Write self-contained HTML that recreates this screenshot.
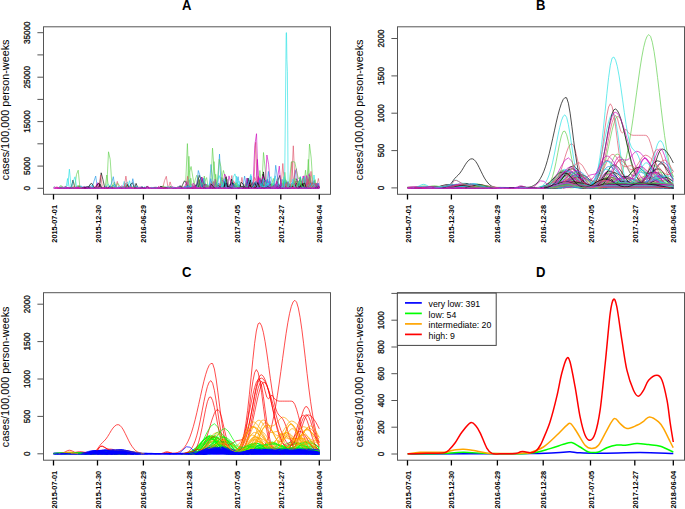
<!DOCTYPE html>
<html><head><meta charset="utf-8"><style>
html,body{margin:0;padding:0;background:#fff;}
svg{display:block;font-family:"Liberation Sans",sans-serif;}
#allc path{vector-effect:non-scaling-stroke;}
</style></head><body>
<svg width="685" height="509" viewBox="0 0 685 509">
<rect width="685" height="509" fill="#fff"/>
<rect x="43.5" y="26.8" width="287" height="167.5" fill="none" stroke="#555" stroke-width="1"/>
<text transform="translate(186.6,10.1) scale(0.92,1)" text-anchor="middle" font-weight="bold" font-size="14.2">A</text>
<path d="M53.5 194.3V199.5M97.5 194.3V199.5M143.4 194.3V199.5M189.2 194.3V199.5M236.5 194.3V199.5M280.8 194.3V199.5M319.3 194.3V199.5" stroke="#000" stroke-width="1.3" fill="none"/>
<path d="M37.4 188.3H43.5M37.4 166.1H43.5M37.4 143.8H43.5M37.4 121.6H43.5M37.4 99.4H43.5M37.4 77.2H43.5M37.4 54.9H43.5M37.4 32.7H43.5" stroke="#555" stroke-width="1" fill="none"/>
<text transform="translate(56.5,204.9) rotate(-90)" text-anchor="end" font-weight="bold" font-size="7.4">2015-07-01</text>
<text transform="translate(100.5,204.9) rotate(-90)" text-anchor="end" font-weight="bold" font-size="7.4">2015-12-30</text>
<text transform="translate(146.4,204.9) rotate(-90)" text-anchor="end" font-weight="bold" font-size="7.4">2016-06-29</text>
<text transform="translate(192.2,204.9) rotate(-90)" text-anchor="end" font-weight="bold" font-size="7.4">2016-12-28</text>
<text transform="translate(239.5,204.9) rotate(-90)" text-anchor="end" font-weight="bold" font-size="7.4">2017-07-05</text>
<text transform="translate(283.8,204.9) rotate(-90)" text-anchor="end" font-weight="bold" font-size="7.4">2017-12-27</text>
<text transform="translate(322.3,204.9) rotate(-90)" text-anchor="end" font-weight="bold" font-size="7.4">2018-06-04</text>
<text transform="translate(30,188.3) rotate(-90) scale(1,1.13)" text-anchor="middle" font-size="8.1" stroke="#222" stroke-width="0.3">0</text>
<text transform="translate(30,166.1) rotate(-90) scale(1,1.13)" text-anchor="middle" font-size="8.1" stroke="#222" stroke-width="0.3">5000</text>
<text transform="translate(30,121.6) rotate(-90) scale(1,1.13)" text-anchor="middle" font-size="8.1" stroke="#222" stroke-width="0.3">15000</text>
<text transform="translate(30,77.2) rotate(-90) scale(1,1.13)" text-anchor="middle" font-size="8.1" stroke="#222" stroke-width="0.3">25000</text>
<text transform="translate(30,32.7) rotate(-90) scale(1,1.13)" text-anchor="middle" font-size="8.1" stroke="#222" stroke-width="0.3">35000</text>
<text transform="translate(9.3,109.8) rotate(-90)" text-anchor="middle" font-size="10.82">cases/100,000 person-weeks</text>
<rect x="397.5" y="26.8" width="287" height="167.5" fill="none" stroke="#555" stroke-width="1"/>
<text transform="translate(540.6,10.1) scale(0.92,1)" text-anchor="middle" font-weight="bold" font-size="14.2">B</text>
<path d="M407.5 194.3V199.5M451.4 194.3V199.5M497.4 194.3V199.5M543.2 194.3V199.5M590.5 194.3V199.5M634.8 194.3V199.5M673.3 194.3V199.5" stroke="#000" stroke-width="1.3" fill="none"/>
<path d="M391.4 187.9H397.5M391.4 150.6H397.5M391.4 113.2H397.5M391.4 75.9H397.5M391.4 38.5H397.5" stroke="#555" stroke-width="1" fill="none"/>
<text transform="translate(410.5,204.9) rotate(-90)" text-anchor="end" font-weight="bold" font-size="7.4">2015-07-01</text>
<text transform="translate(454.4,204.9) rotate(-90)" text-anchor="end" font-weight="bold" font-size="7.4">2015-12-30</text>
<text transform="translate(500.4,204.9) rotate(-90)" text-anchor="end" font-weight="bold" font-size="7.4">2016-06-29</text>
<text transform="translate(546.2,204.9) rotate(-90)" text-anchor="end" font-weight="bold" font-size="7.4">2016-12-28</text>
<text transform="translate(593.5,204.9) rotate(-90)" text-anchor="end" font-weight="bold" font-size="7.4">2017-07-05</text>
<text transform="translate(637.8,204.9) rotate(-90)" text-anchor="end" font-weight="bold" font-size="7.4">2017-12-27</text>
<text transform="translate(676.3,204.9) rotate(-90)" text-anchor="end" font-weight="bold" font-size="7.4">2018-06-04</text>
<text transform="translate(384,187.9) rotate(-90) scale(1,1.13)" text-anchor="middle" font-size="8.1" stroke="#222" stroke-width="0.3">0</text>
<text transform="translate(384,150.6) rotate(-90) scale(1,1.13)" text-anchor="middle" font-size="8.1" stroke="#222" stroke-width="0.3">500</text>
<text transform="translate(384,113.2) rotate(-90) scale(1,1.13)" text-anchor="middle" font-size="8.1" stroke="#222" stroke-width="0.3">1000</text>
<text transform="translate(384,75.9) rotate(-90) scale(1,1.13)" text-anchor="middle" font-size="8.1" stroke="#222" stroke-width="0.3">1500</text>
<text transform="translate(384,38.5) rotate(-90) scale(1,1.13)" text-anchor="middle" font-size="8.1" stroke="#222" stroke-width="0.3">2000</text>
<text transform="translate(363.3,109.8) rotate(-90)" text-anchor="middle" font-size="10.82">cases/100,000 person-weeks</text>
<rect x="43.5" y="292.7" width="287" height="167.5" fill="none" stroke="#555" stroke-width="1"/>
<text transform="translate(186.6,276.6) scale(0.92,1)" text-anchor="middle" font-weight="bold" font-size="14.2">C</text>
<path d="M53.5 460.2V465.4M97.5 460.2V465.4M143.4 460.2V465.4M189.2 460.2V465.4M236.5 460.2V465.4M280.8 460.2V465.4M319.3 460.2V465.4" stroke="#000" stroke-width="1.3" fill="none"/>
<path d="M37.4 453.8H43.5M37.4 416.4H43.5M37.4 379H43.5M37.4 341.6H43.5M37.4 304.2H43.5" stroke="#555" stroke-width="1" fill="none"/>
<text transform="translate(56.5,470.8) rotate(-90)" text-anchor="end" font-weight="bold" font-size="7.4">2015-07-01</text>
<text transform="translate(100.5,470.8) rotate(-90)" text-anchor="end" font-weight="bold" font-size="7.4">2015-12-30</text>
<text transform="translate(146.4,470.8) rotate(-90)" text-anchor="end" font-weight="bold" font-size="7.4">2016-06-29</text>
<text transform="translate(192.2,470.8) rotate(-90)" text-anchor="end" font-weight="bold" font-size="7.4">2016-12-28</text>
<text transform="translate(239.5,470.8) rotate(-90)" text-anchor="end" font-weight="bold" font-size="7.4">2017-07-05</text>
<text transform="translate(283.8,470.8) rotate(-90)" text-anchor="end" font-weight="bold" font-size="7.4">2017-12-27</text>
<text transform="translate(322.3,470.8) rotate(-90)" text-anchor="end" font-weight="bold" font-size="7.4">2018-06-04</text>
<text transform="translate(30,453.8) rotate(-90) scale(1,1.13)" text-anchor="middle" font-size="8.1" stroke="#222" stroke-width="0.3">0</text>
<text transform="translate(30,416.4) rotate(-90) scale(1,1.13)" text-anchor="middle" font-size="8.1" stroke="#222" stroke-width="0.3">500</text>
<text transform="translate(30,379) rotate(-90) scale(1,1.13)" text-anchor="middle" font-size="8.1" stroke="#222" stroke-width="0.3">1000</text>
<text transform="translate(30,341.6) rotate(-90) scale(1,1.13)" text-anchor="middle" font-size="8.1" stroke="#222" stroke-width="0.3">1500</text>
<text transform="translate(30,304.2) rotate(-90) scale(1,1.13)" text-anchor="middle" font-size="8.1" stroke="#222" stroke-width="0.3">2000</text>
<text transform="translate(9.3,376.8) rotate(-90)" text-anchor="middle" font-size="10.82">cases/100,000 person-weeks</text>
<rect x="397.5" y="292.7" width="287" height="167.5" fill="none" stroke="#555" stroke-width="1"/>
<text transform="translate(540.6,276.6) scale(0.92,1)" text-anchor="middle" font-weight="bold" font-size="14.2">D</text>
<path d="M407.5 460.2V465.4M451.4 460.2V465.4M497.4 460.2V465.4M543.2 460.2V465.4M590.5 460.2V465.4M634.8 460.2V465.4M673.3 460.2V465.4" stroke="#000" stroke-width="1.3" fill="none"/>
<path d="M391.4 454H397.5M391.4 427.2H397.5M391.4 400.5H397.5M391.4 373.7H397.5M391.4 347H397.5M391.4 320.2H397.5M391.4 293.4H397.5" stroke="#555" stroke-width="1" fill="none"/>
<text transform="translate(410.5,470.8) rotate(-90)" text-anchor="end" font-weight="bold" font-size="7.4">2015-07-01</text>
<text transform="translate(454.4,470.8) rotate(-90)" text-anchor="end" font-weight="bold" font-size="7.4">2015-12-30</text>
<text transform="translate(500.4,470.8) rotate(-90)" text-anchor="end" font-weight="bold" font-size="7.4">2016-06-29</text>
<text transform="translate(546.2,470.8) rotate(-90)" text-anchor="end" font-weight="bold" font-size="7.4">2016-12-28</text>
<text transform="translate(593.5,470.8) rotate(-90)" text-anchor="end" font-weight="bold" font-size="7.4">2017-07-05</text>
<text transform="translate(637.8,470.8) rotate(-90)" text-anchor="end" font-weight="bold" font-size="7.4">2017-12-27</text>
<text transform="translate(676.3,470.8) rotate(-90)" text-anchor="end" font-weight="bold" font-size="7.4">2018-06-04</text>
<text transform="translate(384,454) rotate(-90) scale(1,1.13)" text-anchor="middle" font-size="8.1" stroke="#222" stroke-width="0.3">0</text>
<text transform="translate(384,427.2) rotate(-90) scale(1,1.13)" text-anchor="middle" font-size="8.1" stroke="#222" stroke-width="0.3">200</text>
<text transform="translate(384,400.5) rotate(-90) scale(1,1.13)" text-anchor="middle" font-size="8.1" stroke="#222" stroke-width="0.3">400</text>
<text transform="translate(384,373.7) rotate(-90) scale(1,1.13)" text-anchor="middle" font-size="8.1" stroke="#222" stroke-width="0.3">600</text>
<text transform="translate(384,347) rotate(-90) scale(1,1.13)" text-anchor="middle" font-size="8.1" stroke="#222" stroke-width="0.3">800</text>
<text transform="translate(384,320.2) rotate(-90) scale(1,1.13)" text-anchor="middle" font-size="8.1" stroke="#222" stroke-width="0.3">1000</text>
<text transform="translate(363.3,376.8) rotate(-90)" text-anchor="middle" font-size="10.82">cases/100,000 person-weeks</text>
<defs><g id="allc"><path id="c0" d="M20 1L22 5 24 12 26 20 28 22 30 17 32 9 34 3 36 0M83 0L85 2 87 5 89 8 91 13 93 18 95 21 97 22 99 21 101 17 103 12 105 7 107 3 109 2 111 1 113 2 115 3 117 4 119 3 121 3 123 3 125 3 127 3 129 3 131 3 133 3 135 3 137 3 139 3 141 3 143 3 145 3 147 3 149 3 151 3 152 2"/><path id="c1" d="M4 1L6 1 8 2 10 1 11 1M25 0L27 2 29 6 31 9 33 10 35 6 37 3 39 0M80 0L82 3 84 7 86 13 88 20 90 27 92 30 94 28 96 21 98 13 100 7 102 2 104 0M107 0L109 3 111 10 113 20 115 26 117 26 119 26 121 26 123 26 125 26 127 26 129 26 131 26 133 26 135 26 137 26 139 26 141 26 143 26 145 26 147 26 149 20 151 9 152 5"/><path id="c2" d="M18 0L20 3 22 6 24 8 26 7 28 4 30 1 31 0M79 1L81 2 83 5 85 9 87 12 89 16 91 17 93 17 95 14 97 10 99 6 101 3 103 1M107 1L109 2 111 3 113 4 115 4 117 4 119 4 121 4 123 4 125 4 127 4 129 4 131 4 133 4 135 4 137 4 139 4 141 4 143 3 145 1 146 0"/><path id="c3" d="M31 1L33 1 35 1 36 1M84 1L86 3 88 7 90 14 92 23 94 33 96 40 98 42 100 36 102 24 104 13 106 6 108 2 110 1"/><path id="c4" d="M27 1L29 2 31 4 33 6 35 5 37 4 39 2 40 1M82 1L84 2 86 4 88 7 90 10 92 13 94 14 96 13 98 10 100 7 102 4 104 2 106 2 108 3 110 6 112 10 114 12 116 12 118 12 120 12 122 12 124 12 126 12 128 12 130 12 132 12 134 12 136 12 138 12 140 12 142 12 144 11 146 7 148 2 149 1"/><path id="c5" d="M28 1L30 4 32 9 34 15 36 19 38 20 40 16 42 10 44 5 46 1 47 0M78 0L80 3 82 10 84 23 86 43 88 64 90 80 92 83 94 69 96 45 98 23 100 9 102 2 103 1M113 1L115 4 117 10 119 17 121 23 123 24 125 21 127 18 129 17 131 25 133 42 135 63 137 75 139 72 141 58 143 39 145 22 147 10 149 3 151 0"/><path id="c6" d="M23 0L25 4 27 10 29 17 31 21 33 17 35 10 37 3 39 0M81 1L83 3 85 6 87 11 89 16 91 19 93 18 95 14 97 8 99 3 101 0M105 0L107 2 109 4 111 7 113 10 115 13 117 14 119 13 121 14 123 15 125 17 127 18 129 18 131 17 133 16 135 16 137 15 139 12 141 8 143 5 145 2 147 0"/><path id="c7" d="M32 1L34 5 36 13 38 22 40 25 42 19 44 10 46 3 48 0M86 0L88 2 90 7 92 13 94 19 96 24 98 23 100 19 102 13 104 7 106 4 108 4 110 4 112 5 114 5 116 5 118 5 120 5 122 5 124 5 126 5 128 5 130 5 132 5 134 5 136 5 138 5 140 5 142 5 144 5 146 5 148 4 150 2 151 1"/><path id="c8" d="M31 1L33 2 35 3 37 4 39 5 41 4 43 3 45 1 46 1M83 0L85 3 87 7 89 12 91 16 93 17 95 14 97 9 99 5 101 2 102 1M109 1L111 3 113 6 115 9 117 11 119 12 121 12 123 12 125 12 127 12 129 12 131 12 133 12 135 12 137 12 139 12 141 12 143 12 145 12 147 12 149 12 151 11 152 9"/><path id="c9" d="M22 1L24 3 26 5 28 7 30 7 32 5 34 2 36 0M81 1L83 3 85 7 87 14 89 20 91 24 93 23 95 18 97 11 99 6 101 2 102 1M109 1L111 3 113 6 115 7 117 7 119 7 121 7 123 7 125 7 127 7 129 7 131 7 133 7 135 7 137 7 139 7 141 7 143 7 145 5 147 3 149 1"/><path id="c10" d="M88 1L90 3 92 7 94 13 96 17 98 19 100 17 102 12 104 7 106 3 108 1 110 2 112 6 114 15 116 29 118 44 120 54 122 55 124 47 126 37 128 32 130 33 132 37 134 41 136 41 138 33 140 21 142 10 144 3 146 0"/><path id="c11" d="M16 1L18 3 20 3 22 1M35 1L37 3 39 7 41 10 43 9 45 6 47 2 48 1M79 0L81 2 83 5 85 9 87 15 89 22 91 28 93 32 95 33 97 28 99 19 101 10 103 4 105 2 107 4 109 8 111 13 113 18 115 20 117 20 119 20 121 20 123 20 125 20 127 20 129 20 131 20 133 20 135 20 137 20 139 20 141 20 143 20 145 20 147 20 149 20 151 14 152 10"/><path id="c12" d="M30 1L32 4 34 8 36 12 38 11 40 7 42 2 43 1M79 0L81 3 83 6 85 13 87 20 89 27 91 30 93 29 95 21 97 12 99 5 101 1 102 1M103 1L105 2 107 8 109 18 111 35 113 53 115 68 117 70 119 63 121 50 123 35 125 24 127 18 129 17 131 20 133 23 135 23 137 22 139 18 141 13 143 9 145 5 147 2 149 1"/><path id="c13" d="M1 1L3 2 5 3 7 3 9 3 11 2 13 0M32 1L34 3 36 7 38 11 40 12 42 10 44 6 46 3 48 0M85 0L87 2 89 6 91 12 93 18 95 23 97 24 99 21 101 16 103 10 105 6 107 4 109 4 111 6 113 6 115 6 117 6 119 6 121 6 123 6 125 6 127 6 129 6 131 6 133 6 135 6 137 6 139 6 141 6 143 6 145 6 147 6 149 6 151 5 152 4"/><path id="c14" d="M7 1L9 2 11 3 13 2 15 1M23 1L25 2 27 4 29 5 31 6 33 5 35 3 37 1 38 1M83 0L85 3 87 8 89 16 91 25 93 32 95 33 97 27 99 17 101 9 103 4 105 5 107 12 109 27 111 46 113 59 115 60 117 52 119 41 121 30 123 21 125 17 127 17 129 20 131 23 133 26 135 26 137 24 139 21 141 16 143 11 145 7 147 4 149 2 150 1"/><path id="c15" d="M32 0L34 2 36 3 38 4 40 3 42 1 43 0M78 1L80 3 82 9 84 17 86 27 88 36 90 40 92 38 94 32 96 23 98 14 100 7 102 3 104 1M107 1L109 3 111 7 113 11 115 11 117 11 119 11 121 11 123 11 125 11 127 11 129 11 131 11 133 11 135 11 137 11 139 11 141 11 143 11 145 11 147 11 149 10 151 7 152 5"/><path id="c16" d="M21 0L23 3 25 8 27 14 29 17 31 14 33 7 35 2 36 1M79 0L81 2 83 6 85 10 87 15 89 19 91 21 93 19 95 15 97 9 99 5 101 2 103 0M111 1L113 2 115 3 117 4 119 4 121 4 123 4 125 4 127 4 129 4 131 4 133 4 135 4 137 4 139 4 141 4 143 4 145 2 146 1"/><path id="c17" d="M36 1L38 3 40 6 42 7 44 5 46 2 48 0M80 0L82 3 84 9 86 18 88 28 90 34 92 33 94 28 96 20 98 12 100 6 102 2 104 0M108 0L110 2 112 6 114 11 116 13 118 13 120 13 122 13 124 13 126 13 128 13 130 13 132 13 134 13 136 13 138 13 140 13 142 13 144 13 146 10 148 5 150 1"/><path id="c18" d="M15 1L17 3 19 6 21 10 23 13 25 14 27 12 29 9 31 5 33 2 35 1M80 1L82 3 84 5 86 9 88 13 90 17 92 18 94 17 96 14 98 10 100 6 102 3 104 1M110 1L112 2 114 4 116 6 118 6 120 6 122 6 124 6 126 6 128 6 130 6 132 6 134 6 136 6 138 6 140 6 142 6 144 5 146 3 148 1 149 0"/><path id="c19" d="M22 1L24 5 26 11 28 15 30 13 32 8 34 3 36 0M79 1L81 3 83 6 85 11 87 17 89 22 91 26 93 27 95 22 97 14 99 7 101 2 103 0M107 1L109 2 111 5 113 7 115 7 117 7 119 7 121 7 123 7 125 7 127 7 129 7 131 7 133 7 135 7 137 7 139 7 141 7 143 7 145 7 147 7 149 7 151 6 152 5"/><path id="c20" d="M19 1L21 3 23 5 25 9 27 11 29 11 31 9 33 6 35 3 37 1M86 1L88 3 90 6 92 9 94 12 96 12 98 11 100 9 102 7 104 7 106 10 108 16 110 22 112 25 114 25 116 25 118 25 120 25 122 25 124 25 126 25 128 25 130 25 132 25 134 25 136 25 138 25 140 25 142 25 144 25 146 24 148 14 150 4 152 0"/><path id="c21" d="M18 1L20 2 22 4 24 5 26 4 28 2 29 1M83 1L85 4 87 10 89 20 91 30 93 37 95 37 97 31 99 23 101 14 103 7 105 3 107 1 109 2 111 3 113 6 115 7 117 7 119 7 121 7 123 7 125 7 127 7 129 7 131 7 133 7 135 7 137 7 139 7 141 7 143 7 145 7 147 6 149 3 151 1"/><path id="c22" d="M21 1L22 2 23 3 24 5 25 7 26 9 27 12 28 15 29 17 30 19 31 21 32 21 33 20 34 19 35 17 36 14 37 11 38 9 39 6 40 4 41 3 42 1 43 1M75 0L76 1 77 3 78 5 79 8 80 13 81 20 82 28 83 38 84 50 85 63 86 77 87 90 88 101 89 110 90 115 91 116 92 108 93 94 94 75 95 56 96 38 97 24 98 14 99 7 100 4 101 2 102 3 103 5 104 9 105 16 106 27 107 42 108 62 109 86 110 112 111 138 112 160 113 175 114 181 115 176 116 162 117 140 118 115 119 89 120 64 121 44 122 28 123 17 124 9 125 5 126 2 127 0M132 0L133 2 134 5 135 9 136 16 137 27 138 41 139 60 140 82 141 106 142 128 143 147 144 158 145 161 146 158 147 150 148 139 149 125 150 110 151 93 152 77"/><path id="c23" d="M9 0L11 2 13 3 15 4 17 6 19 7 21 10 23 11 25 10 27 8 29 4 31 1 32 0M75 0L77 2 79 5 81 10 83 17 85 24 87 31 89 35 91 35 93 29 95 20 97 10 99 4 101 1M107 0L109 2 111 4 113 5 115 5 117 5 119 5 121 5 123 5 125 5 127 5 129 5 131 5 133 5 135 5 137 5 139 5 141 5 143 5 145 5 147 5 149 5 151 4 152 3"/><path id="c24" d="M20 0L22 3 24 7 26 10 28 11 30 8 32 4 34 1 35 0M84 1L86 3 88 5 90 7 92 10 94 11 96 11 98 9 100 6 102 3 104 1M108 0L110 2 112 5 114 9 116 12 118 12 120 12 122 12 124 12 126 12 128 12 130 12 132 12 134 12 136 12 138 12 140 12 142 12 144 8 146 4 148 1"/><path id="c25" d="M87 1L89 4 91 11 93 20 95 26 97 25 99 17 101 9 103 3 105 1M108 0L110 2 112 5 114 8 116 11 118 11 120 10 122 7 124 5 126 3 128 2 130 3 132 6 134 12 136 21 138 30 140 38 142 41 144 37 146 28 148 16 150 7 152 2"/><path id="c26" d="M93 1L95 3 97 6 99 11 101 17 103 24 105 28 107 31 109 28 111 24 113 28 115 40 117 53 119 59 121 55 123 42 125 27 127 15 129 9 131 9 133 13 135 19 137 27 139 32 141 34 143 32 145 26 147 19 149 12 151 7 152 4"/><path id="c27" d="M28 0L30 3 32 7 34 9 36 7 38 3 40 0M70 1L72 2 74 1 75 1M86 1L88 3 90 6 92 10 94 12 96 11 98 9 100 6 102 3 104 1 105 1M108 0L110 3 112 9 114 18 116 26 118 27 120 27 122 27 124 27 126 27 128 27 130 27 132 27 134 27 136 27 138 27 140 27 142 27 144 27 146 22 148 8 150 1"/><path id="c28" d="M37 1L39 2 41 3 43 2 45 0M86 1L88 3 90 8 92 14 94 21 96 27 98 28 100 25 102 20 104 14 106 10 108 9 110 12 112 17 114 20 116 21 118 21 120 21 122 21 124 21 126 21 128 21 130 21 132 21 134 21 136 21 138 21 140 21 142 21 144 19 146 12 148 5 150 1 151 0"/><path id="c29" d="M34 1L35 1 36 2 37 3 38 4 39 5 40 5 41 5 42 5 43 4 44 3 45 2 46 2 47 1M79 1L80 1 81 2 82 3 83 5 84 6 85 8 86 9 87 10 88 11 89 12 90 13 91 12 92 12 93 10 94 9 95 7 96 5 97 3 98 2 99 1 100 0M103 1L104 2 105 5 106 9 107 16 108 26 109 38 110 54 111 71 112 87 113 101 114 110 115 113 116 110 117 103 118 92 119 78 120 64 121 50 122 38 123 28 124 20 125 16 126 16 127 20 128 30 129 47 130 70 131 98 132 129 133 159 134 182 135 196 136 198 137 189 138 170 139 146 140 120 141 94 142 72 143 53 144 38 145 27 146 18 147 12 148 7 149 4 150 2 151 1"/><path id="c30" d="M19 0L21 2 23 6 25 10 27 15 29 18 31 18 33 15 35 10 37 6 39 2 41 0M79 1L81 2 83 5 85 9 87 14 89 19 91 23 93 25 95 24 97 20 99 14 101 9 103 4 105 2 107 1M107 1L109 1 111 3 113 5 115 6 117 7 119 7 121 7 123 7 125 7 127 7 129 7 131 7 133 7 135 7 137 7 139 7 141 7 143 7 145 6 147 4 149 2 150 1"/><path id="c31" d="M10 1L12 1 14 2 16 2 18 1 19 1M31 1L33 4 35 9 37 14 39 18 41 16 43 10 45 5 47 1 48 0M78 0L80 3 82 6 84 12 86 19 88 24 90 27 92 26 94 21 96 15 98 9 100 5 102 2 103 1M106 1L108 3 110 7 112 13 114 18 116 19 118 19 120 19 122 19 124 19 126 19 128 19 130 19 132 19 134 19 136 19 138 19 140 19 142 19 144 19 146 18 148 13 150 6 152 1"/><path id="c32" d="M27 0L29 3 31 6 33 8 35 6 37 3 39 0M65 1L67 2 69 2 71 1M81 1L83 3 85 5 87 8 89 11 91 12 93 12 95 10 97 6 99 3 101 1 102 0M110 0L112 4 114 13 116 22 118 24 120 24 122 24 124 24 126 24 128 24 130 24 132 24 134 24 136 24 138 24 140 24 142 24 144 17 146 6 148 0"/><path id="c33" d="M35 1L37 2 39 4 41 4 43 4 45 3 47 2 49 1M77 1L79 3 81 6 83 12 85 19 87 28 89 36 91 42 93 44 95 41 97 31 99 20 101 10 103 4 105 2 107 2 109 5 111 9 113 13 115 16 117 17 119 17 121 17 123 17 125 17 127 17 129 17 131 17 133 17 135 17 137 17 139 17 141 17 143 17 145 17 147 17 149 16 151 11 152 7"/><path id="c34" d="M18 1L20 3 22 7 24 12 26 18 28 20 30 19 32 15 34 9 36 4 38 1 39 0M75 0L77 4 79 11 81 26 83 49 85 78 87 104 89 117 91 108 93 78 95 44 97 19 99 6 101 1M110 0L112 2 114 6 116 10 118 12 120 13 122 12 124 11 126 11 128 14 130 19 132 24 134 27 136 28 138 27 140 23 142 18 144 13 146 9 148 5 150 2 152 1"/><path id="c35" d="M75 0L77 2 79 7 81 17 83 32 85 54 87 80 89 104 91 119 93 118 95 97 97 63 99 33 101 14 103 4 105 0M109 1L111 5 113 17 115 37 117 56 119 61 121 54 123 41 125 27 127 18 129 15 131 20 133 32 135 49 137 64 139 72 141 70 143 59 145 43 147 27 149 14 151 6 152 4"/><path id="c36" d="M3 0L5 2 7 3 9 2 10 1M19 1L21 2 23 3 25 3 27 3 29 2 31 1 32 1M79 0L81 3 83 10 85 21 87 34 89 44 91 46 93 39 95 29 97 17 99 8 101 3 103 1M109 1L111 2 113 4 115 5 117 6 119 6 121 6 123 6 125 6 127 6 129 6 131 6 133 6 135 6 137 6 139 6 141 6 143 6 145 5 147 3 149 0"/><path id="c37" d="M11 1L13 2 15 2 17 2 19 1M38 1L40 3 42 4 44 2 46 1M86 0L88 2 90 5 92 9 94 13 96 16 98 15 100 12 102 7 104 3 106 1M109 1L111 2 113 4 115 5 117 5 119 5 121 5 123 5 125 5 127 5 129 5 131 5 133 5 135 5 137 5 139 5 141 5 143 5 145 5 147 2 148 1"/><path id="c38" d="M21 0L23 3 25 7 27 13 29 18 31 17 33 12 35 6 37 2 38 1M83 0L85 3 87 8 89 14 91 20 93 24 95 22 97 17 99 11 101 6 103 2 105 1M107 0L109 2 111 5 113 9 115 10 117 10 119 10 121 10 123 10 125 10 127 10 129 10 131 10 133 10 135 10 137 10 139 10 141 10 143 10 145 10 147 10 149 10 151 9 152 8"/><path id="c39" d="M33 1L35 2 37 3 39 3 41 3 43 2 45 1 46 1M57 1L59 2 61 2 63 1 64 1M82 0L84 2 86 5 88 9 90 12 92 14 94 12 96 8 98 4 100 1 101 0M111 0L113 3 115 6 117 8 119 8 121 8 123 8 125 8 127 8 129 8 131 8 133 8 135 8 137 8 139 8 141 8 143 8 145 7 147 4 149 1"/><path id="c40" d="M32 1L34 6 36 17 38 25 40 23 42 12 44 3 46 0M82 0L84 2 86 6 88 10 90 13 92 13 94 12 96 9 98 6 100 3 102 1 103 1M109 0L111 2 113 5 115 9 117 10 119 10 121 10 123 10 125 10 127 10 129 10 131 10 133 10 135 10 137 10 139 10 141 10 143 10 145 6 147 1 148 0"/><path id="c41" d="M26 1L28 3 30 8 32 14 34 20 36 24 38 24 40 21 42 15 44 9 46 4 48 1 49 0M86 0L88 2 90 6 92 12 94 19 96 24 98 26 100 23 102 15 104 8 106 3 108 1M111 1L113 3 115 7 117 10 119 11 121 11 123 11 125 11 127 11 129 11 131 11 133 11 135 11 137 11 139 11 141 11 143 11 145 11 147 11 149 10 151 6 152 4"/><path id="c42" d="M81 0L83 2 85 5 87 10 89 14 91 17 93 18 95 16 97 12 99 7 101 3 103 1M111 0L113 3 115 9 117 17 119 21 121 21 123 21 125 21 127 21 129 21 131 21 133 21 135 21 137 21 139 21 141 21 143 21 145 21 147 18 149 11 151 4 152 2"/><path id="c43" d="M2 0L4 2 6 5 8 3 10 1M73 0L75 3 77 8 79 19 81 36 83 60 85 85 87 105 89 114 91 106 93 84 95 56 97 32 99 15 101 6 103 1 104 0M116 0L118 3 120 6 122 11 124 15 126 20 128 26 130 35 132 40 134 39 136 32 138 24 140 20 142 19 144 19 146 17 148 12 150 7 152 3"/><path id="c44" d="M22 1L24 4 26 8 28 10 30 9 32 5 34 2 35 1M78 0L80 3 82 8 84 17 86 28 88 38 90 43 92 42 94 35 96 26 98 16 100 9 102 4 104 1 105 1M109 1L111 4 113 9 115 16 117 20 119 21 121 21 123 21 125 21 127 21 129 21 131 21 133 21 135 21 137 21 139 21 141 21 143 21 145 20 147 14 149 8 151 3 152 1"/><path id="c45" d="M36 1L38 3 40 5 42 4 44 2 46 0M79 0L81 3 83 7 85 13 87 20 89 26 91 29 93 27 95 19 97 11 99 5 101 1 102 0M108 1L110 3 112 4 114 5 116 5 118 5 120 5 122 5 124 5 126 5 128 5 130 5 132 5 134 5 136 5 138 5 140 5 142 5 144 5 146 5 148 5 150 4 152 2"/><path id="c46" d="M30 1L32 2 34 2 36 1 37 1M80 1L82 3 84 9 86 19 88 30 90 39 92 42 94 37 96 28 98 18 100 10 102 4 104 1 105 0M111 1L113 2 115 3 117 3 119 3 121 3 123 3 125 3 127 3 129 3 131 3 133 3 135 3 137 3 139 3 141 3 143 3 145 3 147 2 148 1"/><path id="c47" d="M33 1L35 2 37 3 39 3 41 3 43 2 45 1M85 1L87 3 89 7 91 12 93 19 95 24 97 27 99 26 101 20 103 14 105 9 107 8 109 11 111 17 113 21 115 22 117 22 119 22 121 22 123 22 125 22 127 22 129 22 131 22 133 22 135 22 137 22 139 22 141 22 143 21 145 15 147 7 149 1 150 0"/><path id="c48" d="M8 1L10 3 12 6 14 8 16 9 18 7 20 4 22 2 23 1M85 1L87 4 89 10 91 19 93 25 95 24 97 17 99 8 101 3 103 0M109 1L111 3 113 6 115 9 117 11 119 11 121 9 123 7 125 6 127 6 129 7 131 9 133 9 135 10 137 11 139 13 141 14 143 14 145 12 147 9 149 5 151 2 152 1"/><path id="c49" d="M21 0L23 4 25 10 27 15 29 13 31 7 33 2 34 0M49 1L51 2 53 1 54 1M85 0L87 2 89 5 91 10 93 14 95 18 97 19 99 16 101 11 103 5 105 2 106 1M109 1L111 3 113 9 115 15 117 21 119 23 121 23 123 23 125 23 127 23 129 23 131 23 133 23 135 23 137 23 139 23 141 23 143 23 145 23 147 19 149 12 151 6 152 3"/><path id="c50" d="M27 0L29 2 31 5 33 4 35 2 37 0M83 1L85 2 87 3 89 3 91 3 93 3 95 3 97 2 99 1M105 0L107 3 109 10 111 19 113 23 115 23 117 23 119 23 121 23 123 23 125 23 127 23 129 23 131 23 133 23 135 23 137 23 139 23 141 23 143 23 145 23 147 23 149 21 151 12 152 8"/><path id="c51" d="M78 1L80 3 82 7 84 12 86 17 88 20 90 19 92 14 94 8 96 3 98 0M109 0L111 2 113 6 115 14 117 25 119 40 121 57 123 71 125 78 127 71 129 52 131 35 133 26 135 24 137 24 139 23 141 20 143 16 145 11 147 6 149 3 151 1 152 0"/><path id="c52" d="M1 1L3 1 5 1 6 1M21 0L23 2 25 3 27 3 29 2 31 1M63 1L65 2 67 3 69 3 71 2 72 1M82 1L84 4 86 8 88 15 90 22 92 27 94 29 96 26 98 21 100 14 102 9 104 4 106 2 108 1M108 1L110 2 112 4 114 8 116 12 118 14 120 15 122 15 124 15 126 15 128 15 130 15 132 15 134 15 136 15 138 15 140 15 142 15 144 14 146 10 148 5 150 1 151 0"/><path id="c53" d="M19 1L21 4 23 8 25 13 27 17 29 19 31 16 33 12 35 7 37 3 39 1M86 1L88 4 90 11 92 22 94 34 96 43 98 44 100 39 102 30 104 20 106 12 108 6 110 4 112 5 114 8 116 9 118 9 120 9 122 9 124 9 126 9 128 9 130 9 132 9 134 9 136 9 138 9 140 9 142 9 144 8 146 4 148 0"/><path id="c54" d="M19 0L20 2 21 3 22 6 23 10 24 18 25 31 26 47 27 63 28 75 29 86 30 99 31 116 32 135 33 155 34 172 35 185 36 193 37 195 38 190 39 177 40 159 41 136 42 112 43 88 44 66 45 48 46 33 47 21 48 13 49 8 50 4 51 2 52 1"/><path id="c55" d="M23 0L25 2 27 3 29 5 31 5 33 5 35 4 37 2 39 1M68 1L70 2 72 3 74 3 76 2 77 1M85 1L87 3 89 5 91 8 93 10 95 12 97 13 99 12 101 8 103 5 105 3 107 2 109 2 111 3 113 4 115 4 117 4 119 4 121 4 123 4 125 4 127 4 129 4 131 4 133 4 135 4 137 4 139 4 141 4 143 3 145 1"/><path id="c56" d="M36 1L38 1 40 2 42 2 44 1M75 1L77 1 79 2 81 2 83 3 85 4 87 7 89 10 91 14 93 16 95 17 97 14 99 10 101 5 103 2 105 1M106 1L108 2 110 4 112 8 114 11 116 13 118 14 120 14 122 14 124 14 126 14 128 14 130 14 132 14 134 14 136 14 138 14 140 14 142 14 144 14 146 14 148 14 150 12 152 6"/><path id="c57" d="M33 0L35 4 37 8 39 10 41 8 43 3 45 0M85 0L87 2 89 7 91 14 93 22 95 26 97 26 99 22 101 16 103 10 105 6 107 3 109 2 111 3 113 5 115 5 117 5 119 5 121 5 123 5 125 5 127 5 129 5 131 5 133 5 135 5 137 5 139 5 141 5 143 5 145 5 147 5 149 5 151 4 152 3"/><path id="c58" d="M15 0L17 3 19 6 21 12 23 17 25 21 27 22 29 19 31 14 33 8 35 4 37 1 38 0M85 1L87 3 89 7 91 12 93 17 95 20 97 19 99 15 101 9 103 5 105 3 107 3 109 7 111 14 113 23 115 28 117 28 119 28 121 28 123 28 125 28 127 28 129 28 131 28 133 28 135 28 137 28 139 28 141 28 143 28 145 28 147 28 149 28 151 26 152 22"/><path id="c59" d="M17 0L19 2 21 4 23 7 25 8 27 7 29 5 31 3 33 1M81 0L83 2 85 5 87 9 89 14 91 19 93 23 95 24 97 20 99 14 101 7 103 3 105 1M107 1L109 3 111 7 113 10 115 11 117 11 119 11 121 11 123 11 125 11 127 11 129 11 131 11 133 11 135 11 137 11 139 11 141 11 143 10 145 6 147 3 149 1"/><path id="c60" d="M13 0L15 2 17 3 19 3 21 2 23 2 25 4 27 6 29 8 31 8 33 7 35 5 37 2 39 1M84 1L86 3 88 8 90 18 92 32 94 50 96 69 98 83 100 88 102 77 104 57 106 41 108 38 110 47 112 59 114 66 116 62 118 42 120 21 122 7 124 1 125 0M129 1L131 3 133 7 135 12 137 17 139 21 141 21 143 17 145 11 147 6 149 2 151 0"/><path id="c61" d="M22 1L24 1 26 1M75 1L77 2 79 4 81 7 83 11 85 16 87 20 89 23 91 23 93 20 95 16 97 11 99 6 101 3 103 1M110 1L112 3 114 5 116 6 118 6 120 6 122 6 124 6 126 6 128 6 130 6 132 6 134 6 136 6 138 6 140 6 142 6 144 6 146 5 148 2 149 1"/><path id="c62" d="M8 1L10 2 12 3 14 3 16 3 18 1 19 1M28 0L30 3 32 7 34 13 36 20 38 23 40 22 42 16 44 10 46 4 48 1 49 0M82 1L84 3 86 6 88 10 90 13 92 14 94 11 96 7 98 4 100 1 101 0M105 1L107 4 109 10 111 18 113 26 115 28 117 28 119 28 121 28 123 28 125 28 127 28 129 28 131 28 133 28 135 28 137 28 139 28 141 28 143 28 145 28 147 28 149 28 151 27 152 22"/><path id="c63" d="M29 1L31 3 33 4 35 4 37 3 39 1M78 1L80 3 82 6 84 11 86 18 88 23 90 27 92 26 94 21 96 14 98 8 100 3 102 1M111 1L113 3 115 4 117 5 119 5 121 5 123 5 125 5 127 5 129 5 131 5 133 5 135 5 137 5 139 5 141 5 143 5 145 5 147 5 149 3 151 1 152 1"/><path id="c64" d="M9 1L11 4 13 7 15 7 17 3 19 0M74 0L76 3 78 9 80 21 82 41 84 67 86 96 88 117 90 125 92 110 94 78 96 45 98 20 100 7 102 1 103 0M113 0L115 3 117 10 119 21 121 35 123 45 125 45 127 39 129 29 131 21 133 16 135 15 137 15 139 15 141 14 143 10 145 6 147 3 149 1"/><path id="c65" d="M16 1L18 2 20 3 22 4 24 7 26 11 28 16 30 21 32 22 34 20 36 15 38 10 40 5 42 2 43 1M77 1L79 2 81 2 83 1M87 1L89 3 91 9 93 18 95 27 97 33 99 33 101 28 103 21 105 14 107 8 109 6 111 7 113 11 115 16 117 21 119 23 121 23 123 23 125 23 127 23 129 23 131 23 133 23 135 23 137 23 139 23 141 23 143 23 145 23 147 23 149 23 151 20 152 16"/><path id="c66" d="M20 0L22 2 24 6 26 10 28 14 30 15 32 13 34 8 36 4 38 1 39 0M86 1L88 3 90 7 92 12 94 15 96 16 98 13 100 10 102 6 104 3 106 1 108 2 110 3 112 5 114 6 116 6 118 6 120 6 122 6 124 6 126 6 128 6 130 6 132 6 134 6 136 6 138 6 140 6 142 6 144 6 146 6 148 4 150 1"/><path id="c67" d="M27 1L29 2 31 4 33 5 35 5 37 4 39 2 41 1M70 1L72 2 74 3 76 3 78 2 80 1 82 2 84 3 86 7 88 11 90 15 92 18 94 17 96 14 98 9 100 4 102 1 103 0M108 1L110 2 112 2 114 2 116 2 118 2 120 2 122 2 124 2 126 2 128 2 130 2 132 2 134 2 136 2 138 2 140 2 142 2 144 2 146 2 148 2 150 1 151 1"/><path id="c68" d="M5 1L7 2 9 4 11 5 13 5 15 3 17 1M27 0L29 4 31 10 33 18 35 20 37 14 39 6 41 1 42 0M84 0L86 3 88 8 90 16 92 27 94 35 96 38 98 35 100 27 102 17 104 9 106 4 108 2 110 1 112 2 114 5 116 8 118 11 120 13 122 13 124 11 126 6 128 2 129 1M131 1L133 2 135 6 137 11 139 15 141 16 143 15 145 13 147 9 149 6 151 3 152 2"/><path id="c69" d="M18 0L20 2 22 6 24 11 26 18 28 23 30 24 32 22 34 16 36 10 38 5 40 2 41 1M80 0L82 3 84 8 86 18 88 29 90 38 92 39 94 33 96 23 98 13 100 6 102 2 103 1M111 1L113 2 115 3 117 3 119 3 121 3 123 3 125 3 127 3 129 3 131 3 133 3 135 3 137 3 139 3 141 3 143 3 145 2 146 1"/><path id="c70" d="M21 1L23 3 25 8 27 15 29 21 31 22 33 19 35 12 37 6 39 2 40 1M84 1L86 4 88 10 90 17 92 22 94 22 96 18 98 12 100 6 102 3 104 3 106 5 108 9 110 13 112 16 114 16 116 16 118 16 120 16 122 16 124 16 126 16 128 16 130 16 132 16 134 16 136 16 138 16 140 16 142 16 144 16 146 12 148 7 150 2 151 1"/><path id="c71" d="M27 1L29 2 31 4 33 6 35 6 37 5 39 3 41 1 42 0M80 1L82 2 84 5 86 7 88 9 90 10 92 10 94 8 96 5 98 2 100 0M110 0L112 3 114 6 116 8 118 8 120 8 122 8 124 8 126 8 128 8 130 8 132 8 134 8 136 8 138 8 140 8 142 8 144 8 146 8 148 7 150 5 152 2"/><path id="c72" d="M0 4L2 4 4 3 6 2 8 1M19 1L21 3 23 7 25 10 27 10 29 9 31 5 33 2 35 0M81 1L83 3 85 7 87 12 89 18 91 23 93 25 95 22 97 16 99 9 101 4 103 1 104 1M106 1L108 2 110 3 112 4 114 4 116 4 118 4 120 4 122 4 124 4 126 4 128 4 130 4 132 4 134 4 136 4 138 4 140 4 142 4 144 4 146 4 148 4 150 4 152 4"/><path id="c73" d="M79 0L80 2 81 4 82 9 83 16 84 27 85 43 86 65 87 93 88 126 89 164 90 204 91 240 92 271 93 290 94 296 95 283 96 248 97 200 98 148 99 100 100 62 101 35 102 19 103 9 104 5 105 5 106 8 107 15 108 26 109 44 110 70 111 105 112 151 113 205 114 267 115 330 116 389 117 438 118 470 119 485 120 467 121 420 122 378 123 367 124 382 125 393 126 374 127 361 128 355 129 352 130 352 131 352 132 352 133 352 134 352 135 352 136 352 137 348 138 330 139 298 140 257 141 211 142 165 143 123 144 87 145 59 146 38 147 23 148 13 149 7 150 3 151 1 152 0"/><path id="c74" d="M22 1L24 3 26 6 28 9 30 9 32 7 34 4 36 1 37 0M81 0L83 2 85 7 87 14 89 23 91 32 93 38 95 39 97 34 99 25 101 16 103 9 105 4 107 1 108 1M110 1L112 2 114 5 116 8 118 10 120 10 122 10 124 10 126 10 128 10 130 10 132 10 134 10 136 10 138 10 140 10 142 10 144 10 146 10 148 9 150 6 152 2"/><path id="c75" d="M80 0L82 2 84 4 86 6 88 8 90 10 92 10 94 10 96 8 98 5 100 3 102 1M109 0L111 2 113 5 115 9 117 12 119 13 121 13 123 13 125 13 127 13 129 13 131 13 133 13 135 13 137 13 139 13 141 13 143 11 145 7 147 2 148 1"/><path id="c76" d="M31 1L33 3 35 6 37 10 39 14 41 15 43 14 45 10 47 6 49 3 51 1M85 1L87 5 89 12 91 21 93 30 95 33 97 30 99 24 101 16 103 9 105 4 107 1 108 0M115 1L117 3 119 3 121 3 123 3 125 3 127 3 129 3 131 3 133 3 135 3 137 3 139 3 141 3 143 3 145 3 147 3 149 1 150 0"/><path id="c77" d="M24 0L26 2 28 6 30 10 32 15 34 17 36 16 38 12 40 8 42 3 44 1M84 1L86 3 88 5 90 8 92 11 94 14 96 15 98 13 100 10 102 6 104 2 106 1M107 1L109 3 111 7 113 11 115 14 117 14 119 14 121 14 123 14 125 14 127 14 129 14 131 14 133 14 135 14 137 14 139 14 141 14 143 14 145 14 147 12 149 6 151 1"/><path id="c78" d="M9 1L11 2 13 4 15 6 17 6 19 6 21 6 23 9 25 13 27 18 29 20 31 17 33 11 35 6 37 2 38 1M73 0L75 2 77 8 79 17 81 34 83 56 85 80 87 100 89 107 91 99 93 77 95 51 97 29 99 13 101 5 103 1 104 0M111 1L113 2 115 6 117 14 119 28 121 45 123 61 125 67 127 57 129 37 131 22 133 16 135 15 137 15 139 13 141 10 143 7 145 4 147 2 149 1"/><path id="c79" d="M30 1L31 2 32 3 33 4 34 6 35 8 36 11 37 13 38 15 39 17 40 18 41 19 42 19 43 18 44 17 45 15 46 13 47 11 48 9 49 6 50 5 51 3 52 2 53 1M81 1L82 2 83 3 84 5 85 9 86 13 87 18 88 25 89 32 90 41 91 51 92 61 93 70 94 79 95 85 96 90 97 92 98 91 99 86 100 78 101 69 102 58 103 47 104 37 105 28 106 21 107 17 108 16 109 18 110 25 111 35 112 49 113 65 114 82 115 96 116 106 117 108 118 105 119 97 120 86 121 73 122 60 123 51 124 45 125 45 126 50 127 61 128 76 129 94 130 111 131 127 132 137 133 142 134 138 135 128 136 114 137 101 138 93 139 92 140 100 141 114 142 131 143 147 144 158 145 162 146 159 147 151 148 139 149 123 150 106 151 89 152 71"/><path id="c80" d="M23 1L25 3 27 7 29 10 31 11 33 9 35 5 37 2 38 1M84 1L86 2 88 4 90 7 92 11 94 13 96 15 98 14 100 11 102 7 104 3 106 1M109 1L111 4 113 9 115 13 117 13 119 13 121 13 123 13 125 13 127 13 129 13 131 13 133 13 135 13 137 13 139 13 141 13 143 13 145 13 147 13 149 12 151 8 152 5"/><path id="c81" d="M28 0L30 3 32 7 34 14 36 21 38 25 40 24 42 18 44 11 46 5 48 2 49 1M81 1L83 2 85 5 87 9 89 14 91 20 93 25 95 27 97 27 99 23 101 18 103 12 105 7 107 4 109 3 111 4 113 6 115 7 117 7 119 7 121 7 123 7 125 7 127 7 129 7 131 7 133 7 135 7 137 7 139 7 141 7 143 7 145 7 147 5 149 2 151 0"/><path id="c82" d="M33 1L35 1 37 2 39 2 41 1 42 1M84 1L86 3 88 7 90 12 92 18 94 24 96 27 98 26 100 22 102 16 104 11 106 7 108 7 110 9 112 10 114 10 116 10 118 10 120 10 122 10 124 10 126 10 128 10 130 10 132 10 134 10 136 10 138 10 140 10 142 10 144 5 146 1"/><path id="c83" d="M22 0L24 2 26 4 28 6 30 6 32 5 34 3 36 1 37 1M82 0L84 3 86 8 88 16 90 26 92 36 94 41 96 40 98 35 100 26 102 18 104 10 106 6 108 4 110 4 112 4 114 4 116 4 118 4 120 4 122 4 124 4 126 4 128 4 130 4 132 4 134 4 136 4 138 4 140 4 142 4 144 4 146 4 148 4 150 4 152 3"/><path id="c84" d="M6 1L8 3 10 5 12 7 14 6 16 4 18 2 19 1M32 1L34 2 36 2 38 0M81 1L83 5 85 15 87 36 89 69 91 108 93 140 95 148 97 126 99 84 101 44 103 18 105 6 107 4 109 7 111 13 113 21 115 29 117 35 119 36 121 32 123 23 125 15 127 10 129 9 131 11 133 13 135 15 137 14 139 12 141 9 143 6 145 4 147 2 148 1"/><path id="c85" d="M13 0L15 2 17 3 19 2 21 1M29 1L31 3 33 4 35 4 37 4 39 2 41 1M78 0L80 2 82 6 84 11 86 19 88 26 90 31 92 32 94 29 96 22 98 15 100 9 102 4 104 2 106 1M108 1L110 2 112 3 114 3 116 3 118 3 120 3 122 3 124 3 126 3 128 3 130 3 132 3 134 3 136 3 138 3 140 3 142 3 144 3 146 2 148 1"/><path id="c86" d="M19 1L21 3 23 5 25 7 27 8 29 6 31 3 33 1 34 0M77 1L79 1 81 2 83 2 85 3 87 6 89 10 91 14 93 16 95 16 97 13 99 8 101 4 103 1M110 1L112 3 114 5 116 6 118 6 120 6 122 6 124 6 126 6 128 6 130 6 132 6 134 6 136 6 138 6 140 6 142 6 144 6 146 6 148 4 150 1"/><path id="c87" d="M3 1L5 2 7 3 9 3 11 2 13 1M25 0L27 3 29 7 31 10 33 10 35 5 37 2 38 0M85 1L87 3 89 7 91 13 93 20 95 27 97 30 99 29 101 23 103 14 105 6 107 2 109 1 111 3 113 7 115 11 117 13 119 13 121 13 123 13 125 13 127 13 129 13 131 13 133 13 135 13 137 13 139 13 141 13 143 13 145 13 147 13 149 12 151 7 152 5"/><path id="c88" d="M90 1L92 4 94 9 96 15 98 21 100 22 102 17 104 10 106 4 108 2 110 4 112 9 114 16 116 18 118 16 120 11 122 6 124 3 126 4 128 7 130 11 132 14 134 16 136 20 138 31 140 48 142 67 144 81 146 87 148 79 150 59 152 37"/><path id="c89" d="M26 1L28 3 30 7 32 11 34 13 36 13 38 9 40 5 42 2 44 0M82 1L84 3 86 5 88 8 90 10 92 11 94 10 96 7 98 5 100 2 102 1M107 1L109 2 111 3 113 3 115 3 117 3 119 3 121 3 123 3 125 3 127 3 129 3 131 3 133 3 135 3 137 3 139 3 141 3 143 3 145 3 147 3 149 2 151 1"/><path id="c90" d="M28 1L30 3 32 7 34 12 36 17 38 20 40 20 42 16 44 10 46 6 48 2 50 0M66 0L68 2 70 2 72 2 74 0M86 0L88 2 90 5 92 8 94 11 96 13 98 13 100 10 102 6 104 3 106 1 108 2 110 6 112 12 114 18 116 20 118 20 120 20 122 20 124 20 126 20 128 20 130 20 132 20 134 20 136 20 138 20 140 20 142 20 144 20 146 20 148 20 150 19 152 15"/><path id="c91" d="M0 3L2 4 4 3 6 1 7 1M19 1L21 4 23 8 25 12 27 11 29 7 31 3 33 0M80 1L82 2 84 4 86 6 88 8 90 10 92 9 94 8 96 5 98 3 100 1M109 1L111 3 113 7 115 12 117 16 119 18 121 18 123 18 125 18 127 18 129 18 131 18 133 18 135 18 137 18 139 18 141 18 143 18 145 18 147 18 149 18 151 14 152 10"/><path id="c92" d="M25 1L27 3 29 6 31 8 33 9 35 9 37 6 39 4 41 1 42 1M81 0L83 2 85 6 87 11 89 15 91 16 93 14 95 10 97 6 99 3 101 1M106 1L108 4 110 11 112 17 114 19 116 19 118 19 120 19 122 19 124 19 126 19 128 19 130 19 132 19 134 19 136 19 138 19 140 19 142 19 144 19 146 19 148 19 150 19 152 11"/><path id="c93" d="M30 0L32 2 34 5 36 9 38 13 40 16 42 15 44 12 46 8 48 4 50 2 51 1M81 1L83 4 85 9 87 17 89 24 91 28 93 27 95 21 97 14 99 7 101 3 103 0M116 1L118 1 120 1 122 1 124 1 126 1 128 1 130 1 132 1 134 1 136 1 138 1 140 1 142 1 144 1 146 1 148 1 150 1 151 1"/><path id="c94" d="M27 1L29 4 31 9 33 13 35 14 37 10 39 5 41 1 42 0M79 1L81 5 83 18 85 43 87 77 89 108 91 119 93 103 95 72 97 40 99 18 101 6 103 1 104 0M109 1L111 4 113 8 115 11 117 11 119 9 121 5 123 2 124 1M132 0L134 3 136 10 138 23 140 42 142 63 144 77 146 77 148 70 150 57 152 41"/><path id="c95" d="M81 0L83 3 85 9 87 20 89 36 91 55 93 74 95 84 97 81 99 63 101 39 103 19 105 7 107 2 109 1 111 3 113 5 115 8 117 10 119 11 121 10 123 7 125 3 127 1M135 1L137 4 139 8 141 13 143 17 145 18 147 16 149 11 151 6 152 4"/><path id="c96" d="M22 1L24 2 26 4 28 6 30 7 32 7 34 6 36 4 38 2 40 1M84 0L86 2 88 5 90 9 92 12 94 13 96 12 98 9 100 6 102 3 104 2 106 1 108 2 110 5 112 9 114 12 116 13 118 13 120 13 122 13 124 13 126 13 128 13 130 13 132 13 134 13 136 13 138 13 140 13 142 13 144 13 146 13 148 13 150 10 152 5"/><path id="c97" d="M0 1L2 2 4 3 6 3 8 2 10 1M25 1L27 2 29 3 31 3 33 1 34 1M83 1L85 3 87 7 89 12 91 20 93 27 95 32 97 34 99 29 101 18 103 9 105 3 107 0M110 0L112 2 114 5 116 10 118 15 120 21 122 25 124 29 126 34 128 41 130 50 132 60 134 71 136 79 138 80 140 73 142 57 144 38 146 22 148 11 150 4 152 1"/><path id="c98" d="M32 1L34 2 36 5 38 7 40 9 42 10 44 9 46 6 48 4 50 4 52 4 54 2 56 0M79 1L81 3 83 6 85 9 87 12 89 15 91 15 93 12 95 8 97 4 99 1M110 1L112 4 114 9 116 12 118 12 120 12 122 12 124 12 126 12 128 12 130 12 132 12 134 12 136 12 138 12 140 12 142 12 144 12 146 9 148 3 150 0"/><path id="c99" d="M26 0L28 2 30 5 32 8 34 10 36 10 38 9 40 6 42 3 44 1 45 0M80 0L82 2 84 6 86 11 88 16 90 20 92 20 94 17 96 12 98 7 100 3 102 1M114 1L116 1 118 1 120 1 122 1 124 1 126 1 128 1 130 1 132 1 134 1 136 1 138 1 140 1 142 1 144 1 145 1"/><path id="c100" d="M27 1L29 2 31 3 33 2 35 1M83 0L85 2 87 7 89 14 91 21 93 26 95 26 97 21 99 14 101 8 103 3 105 1M107 1L109 3 111 6 113 9 115 9 117 9 119 9 121 9 123 9 125 9 127 9 129 9 131 9 133 9 135 9 137 9 139 9 141 9 143 9 145 9 147 9 149 9 151 9 152 7"/><path id="c101" d="M28 0L30 2 32 6 34 9 36 9 38 6 40 3 42 0M80 1L82 3 84 5 86 7 88 9 90 10 92 10 94 7 96 4 98 2 99 1M109 0L111 3 113 7 115 11 117 14 119 15 121 15 123 15 125 15 127 15 129 15 131 15 133 15 135 15 137 15 139 15 141 15 143 15 145 15 147 12 149 6 151 2 152 1"/><path id="c102" d="M0 1L2 2 4 2 6 2 8 1 9 1M28 0L30 3 32 7 34 11 36 14 38 13 40 10 42 5 44 2 45 1M81 1L83 2 85 5 87 9 89 13 91 16 93 17 95 17 97 14 99 9 101 5 103 2 104 1M113 0L115 2 117 3 119 3 121 3 123 3 125 3 127 3 129 3 131 3 133 3 135 3 137 3 139 3 141 3 143 3 145 3 147 3 149 1 150 1"/><path id="c103" d="M30 0L32 3 34 6 36 8 38 7 40 4 42 1M86 1L88 3 90 6 92 11 94 15 96 18 98 19 100 17 102 12 104 8 106 6 108 5 110 7 112 9 114 9 116 9 118 9 120 9 122 9 124 9 126 9 128 9 130 9 132 9 134 9 136 9 138 9 140 9 142 9 144 9 146 9 148 9 150 9 152 7"/><path id="c104" d="M4 1L5 3 6 5 7 9 8 12 9 13 10 13 11 10 12 6 13 3 14 1 15 0M20 0L21 1 22 2 23 4 24 5 25 7 26 10 27 12 28 14 29 16 30 17 31 18 32 18 33 17 34 15 35 13 36 11 37 9 38 7 39 5 40 3 41 2 42 1M85 0L86 1 87 2 88 4 89 6 90 9 91 12 92 15 93 18 94 21 95 23 96 25 97 25 98 24 99 22 100 18 101 14 102 10 103 7 104 5 105 4 106 6 107 10 108 17 109 28 110 43 111 60 112 76 113 90 114 98 115 98 116 94 117 85 118 73 119 60 120 47 121 37 122 31 123 30 124 35 125 46 126 64 127 86 128 107 129 123 130 131 131 131 132 125 133 117 134 108 135 102 136 100 137 101 138 103 139 103 140 101 141 94 142 85 143 74 144 61 145 48 146 36 147 25 148 17 149 11 150 6 151 3 152 1"/><path id="c105" d="M29 1L31 5 33 12 35 21 37 26 39 23 41 14 43 6 45 2 46 0M84 0L86 2 88 7 90 15 92 24 94 32 96 34 98 29 100 21 102 12 104 5 106 2 107 1M110 1L112 2 114 3 116 4 118 4 120 4 122 4 124 4 126 4 128 4 130 4 132 4 134 4 136 4 138 4 140 4 142 4 144 4 146 3 148 1 149 1"/><path id="c106" d="M22 1L24 2 26 4 28 4 30 4 32 2 34 1M85 1L87 2 89 4 91 7 93 10 95 12 97 14 99 13 101 11 103 7 105 4 107 2 109 2 111 2 113 3 115 4 117 4 119 4 121 4 123 4 125 4 127 4 129 4 131 4 133 4 135 4 137 4 139 4 141 4 143 4 145 3 147 1"/><path id="c107" d="M30 1L32 1 34 1M78 1L80 3 82 6 84 11 86 17 88 23 90 27 92 28 94 24 96 16 98 8 100 3 102 0M106 1L108 3 110 6 112 9 114 11 116 11 118 11 120 11 122 11 124 11 126 11 128 11 130 11 132 11 134 11 136 11 138 11 140 11 142 11 144 11 146 11 148 10 150 5 152 1"/><path id="c108" d="M20 1L22 3 24 5 26 4 28 1 29 0M80 0L82 2 84 5 86 9 88 14 90 20 92 24 94 27 96 26 98 21 100 14 102 7 104 3 106 1 107 1M107 1L109 2 111 3 113 6 115 8 117 9 119 9 121 9 123 9 125 9 127 9 129 9 131 9 133 9 135 9 137 9 139 9 141 9 143 9 145 9 147 9 149 9 151 7 152 4"/><path id="c109" d="M4 1L6 2 8 3 10 2 12 1M20 1L22 3 24 6 26 9 28 10 30 8 32 6 34 3 36 1M84 0L86 3 88 8 90 15 92 23 94 29 96 29 98 24 100 18 102 11 104 6 106 3 108 2 110 4 112 9 114 13 116 14 118 14 120 14 122 14 124 14 126 14 128 14 130 14 132 14 134 14 136 14 138 14 140 14 142 14 144 14 146 14 148 11 150 4 152 0"/><path id="c110" d="M23 0L25 3 27 7 29 13 31 18 33 21 35 18 37 13 39 7 41 3 43 0M84 0L86 4 88 13 90 32 92 59 94 90 96 110 98 109 100 85 102 53 104 25 106 9 108 3 110 2 112 4 114 8 116 13 118 17 120 16 122 12 124 6 126 2 128 2 130 4 132 6 134 7 136 6 138 5 140 6 142 8 144 11 146 15 148 16 150 14 152 11"/><path id="c111" d="M16 1L18 3 20 8 22 13 24 19 26 21 28 18 30 13 32 7 34 3 36 1M78 0L80 2 82 4 84 8 86 12 88 17 90 21 92 24 94 23 96 19 98 12 100 6 102 2 103 1M114 0L116 2 118 3 120 4 122 4 124 4 126 4 128 4 130 4 132 4 134 4 136 4 138 4 140 4 142 4 144 2 146 1"/><path id="c112" d="M27 1L29 2 31 2 33 2 35 2 37 1M84 0L86 2 88 6 90 11 92 17 94 20 96 19 98 16 100 12 102 7 104 4 106 1 107 1M113 1L115 3 117 5 119 5 121 5 123 5 125 5 127 5 129 5 131 5 133 5 135 5 137 5 139 5 141 5 143 5 145 5 147 5 149 3 151 1"/><path id="c113" d="M10 1L12 1 14 1 16 1M33 1L35 2 37 4 39 6 41 7 43 7 45 5 47 4 49 2 51 0M78 0L80 3 82 7 84 13 86 20 88 27 90 32 92 31 94 26 96 18 98 10 100 5 102 1 103 0M108 1L110 3 112 6 114 9 116 10 118 10 120 10 122 10 124 10 126 10 128 10 130 10 132 10 134 10 136 10 138 10 140 10 142 10 144 10 146 10 148 10 150 9 152 5"/><path id="c114" d="M18 1L20 2 22 3 24 5 26 8 28 11 30 12 32 12 34 9 36 5 38 2 40 0M68 1L70 2 72 3 74 2 76 1 77 1M85 0L87 3 89 8 91 17 93 27 95 33 97 32 99 27 101 19 103 12 105 6 107 2 109 1M113 1L115 2 117 2 119 2 121 2 123 2 125 2 127 2 129 2 131 2 133 2 135 2 137 2 139 2 141 2 143 2 145 1 146 1"/><path id="c115" d="M19 1L21 4 23 9 25 16 27 21 29 23 31 20 33 13 35 7 37 2 39 0M78 0L80 2 82 5 84 10 86 15 88 21 90 25 92 26 94 23 96 18 98 11 100 6 102 3 104 1M115 1L117 1 119 1 121 1 123 1 125 1 127 1 129 1 131 1 133 1 135 1 137 1 139 1 141 1 143 1 145 1"/><path id="c116" d="M11 1L13 2 15 3 17 2 19 1M74 0L76 3 78 8 80 17 82 31 84 51 86 72 88 90 90 100 92 95 94 72 96 44 98 21 100 8 102 2 103 0M114 1L116 5 118 15 120 33 122 54 124 67 126 68 128 61 130 51 132 40 134 32 136 25 138 18 140 11 142 6 144 2 145 1"/><path id="c117" d="M0 1L2 2 4 2 6 1 7 1M21 1L23 2 25 2 27 2 29 2 31 1 32 1M87 1L89 3 91 6 93 9 95 11 97 10 99 8 101 6 103 4 105 3 107 4 109 6 111 7 113 8 115 8 117 8 119 8 121 8 123 8 125 8 127 8 129 8 131 8 133 8 135 8 137 8 139 8 141 8 143 8 145 8 147 8 149 6 151 3 152 2"/><path id="c118" d="M27 1L29 3 31 8 33 14 35 20 37 22 39 20 41 15 43 8 45 3 47 1M81 0L83 2 85 5 87 9 89 14 91 20 93 26 95 29 97 30 99 27 101 20 103 13 105 8 107 4 109 2 111 4 113 10 115 16 117 18 119 18 121 18 123 18 125 18 127 18 129 18 131 18 133 18 135 18 137 18 139 18 141 18 143 18 145 17 147 10 149 3 151 0"/><path id="c119" d="M6 0L8 2 10 3 12 4 14 4 16 3 18 1 19 1M84 0L86 2 88 5 90 10 92 15 94 20 96 24 98 24 100 20 102 14 104 10 106 10 108 14 110 21 112 26 114 28 116 25 118 19 120 12 122 6 124 3 126 1M129 1L131 3 133 7 135 15 137 27 139 42 141 56 143 65 145 67 147 59 149 44 151 29 152 22"/><path id="c120" d="M2 1L4 2 6 2 8 1 9 1M27 1L29 2 31 3 33 4 35 4 37 3 39 2 41 1M80 1L82 2 84 5 86 8 88 11 90 15 92 16 94 16 96 13 98 9 100 4 102 1 103 1M108 1L110 3 112 4 114 4 116 4 118 4 120 4 122 4 124 4 126 4 128 4 130 4 132 4 134 4 136 4 138 4 140 4 142 4 144 4 146 4 148 4 150 2 151 1"/><path id="c121" d="M14 0L16 3 18 7 20 13 22 19 24 22 26 21 28 16 30 9 32 4 34 1 35 0M82 1L84 3 86 7 88 13 90 20 92 27 94 31 96 31 98 27 100 19 102 12 104 6 106 3 108 3 110 7 112 13 114 15 116 15 118 15 120 15 122 15 124 15 126 15 128 15 130 15 132 15 134 15 136 15 138 15 140 15 142 15 144 15 146 15 148 14 150 7 152 2"/><path id="c122" d="M78 0L79 1 80 3 81 6 82 9 83 14 84 20 85 27 86 35 87 43 88 50 89 55 90 58 91 59 92 56 93 52 94 45 95 37 96 29 97 22 98 15 99 10 100 6 101 4 102 2 103 1M112 0L113 1 114 3 115 5 116 9 117 13 118 20 119 30 120 44 121 62 122 85 123 115 124 153 125 198 126 253 127 316 128 388 129 466 130 550 131 636 132 721 133 803 134 876 135 938 136 985 137 1015 138 1026 139 1014 140 975 141 913 142 833 143 739 144 639 145 537 146 440 147 351 148 273 149 206 150 151 151 108 152 75"/><path id="c123" d="M17 1L19 2 21 5 23 9 25 11 27 12 29 10 31 6 33 3 35 1M81 1L83 3 85 6 87 10 89 14 91 18 93 21 95 21 97 19 99 15 101 10 103 6 105 3 107 1M111 0L113 3 115 8 117 13 119 14 121 14 123 14 125 14 127 14 129 14 131 14 133 14 135 14 137 14 139 14 141 14 143 14 145 14 147 14 149 14 151 13 152 10"/><path id="c124" d="M33 0L35 2 37 5 39 8 41 9 43 8 45 5 47 3 49 1M83 1L85 3 87 6 89 11 91 18 93 25 95 30 97 33 99 32 101 27 103 20 105 14 107 10 109 9 111 11 113 11 115 10 117 10 119 10 121 10 123 10 125 10 127 10 129 10 131 10 133 10 135 10 137 10 139 10 141 10 143 10 145 10 147 10 149 8 151 4 152 2"/><path id="c125" d="M36 0L38 2 40 3 42 4 44 3 46 1M86 1L88 2 90 4 92 6 94 8 96 9 98 7 100 5 102 2 104 1M111 1L113 1 115 1 117 1 119 1 121 1 123 1 125 1 127 1 129 1 131 1 133 1 135 1 137 1 139 1 141 1 143 1 145 1 147 1"/><path id="c126" d="M14 0L16 4 18 9 20 16 22 21 24 22 26 19 28 12 30 6 32 2 33 1M86 0L88 2 90 6 92 12 94 19 96 24 98 26 100 24 102 19 104 13 106 8 108 4 110 2 112 1M113 1L115 1 117 2 119 2 121 2 123 2 125 2 127 2 129 2 131 2 133 2 135 2 137 2 139 2 141 2 143 2 145 1"/><path id="c127" d="M76 1L78 4 80 13 82 28 84 51 86 77 88 98 90 104 92 91 94 64 96 36 98 16 100 6 102 1 103 0M111 1L113 3 115 7 117 11 119 14 121 15 123 14 125 12 127 13 129 15 131 16 133 13 135 9 137 10 139 16 141 23 143 28 145 28 147 25 149 20 151 14 152 12"/><path id="c128" d="M19 1L21 3 23 5 25 8 27 9 29 8 31 6 33 3 35 1 36 0M74 1L76 1 78 1 80 1M87 1L89 3 91 8 93 14 95 21 97 24 99 23 101 18 103 12 105 6 107 2 109 0"/><path id="c129" d="M34 1L35 1 36 2 37 2 38 3 39 4 40 4 41 5 42 5 43 5 44 5 45 4 46 4 47 3 48 2 49 2 50 1 51 1M83 0L84 1 85 2 86 3 87 4 88 5 89 5 90 6 91 6 92 6 93 5 94 4 95 3 96 2 97 1M107 0L108 1 109 4 110 9 111 16 112 26 113 39 114 53 115 66 116 76 117 80 118 79 119 75 120 68 121 59 122 51 123 44 124 39 125 39 126 42 127 50 128 61 129 73 130 86 131 97 132 104 133 106 134 103 135 97 136 90 137 85 138 84 139 89 140 99 141 114 142 131 143 149 144 163 145 171 146 173 147 169 148 158 149 145 150 131 151 120 152 113"/><path id="c130" d="M2 1L4 2 6 3 8 4 10 3 12 2 14 1M29 0L31 4 33 10 35 16 37 14 39 8 41 2 42 1M86 1L88 3 90 6 92 11 94 15 96 16 98 14 100 9 102 4 104 1 105 0M111 1L113 3 115 7 117 10 119 11 121 11 123 11 125 11 127 11 129 11 131 11 133 11 135 11 137 11 139 11 141 11 143 11 145 11 147 11 149 9 151 4 152 2"/><path id="c131" d="M34 1L36 3 38 4 40 5 42 4 44 2 46 1M87 1L89 3 91 6 93 9 95 11 97 10 99 9 101 6 103 4 105 2 107 1M108 1L110 2 112 5 114 9 116 9 118 9 120 9 122 9 124 9 126 9 128 9 130 9 132 9 134 9 136 9 138 9 140 9 142 9 144 9 146 9 148 8 150 3 152 0"/><path id="c132" d="M25 1L27 3 29 6 31 6 33 5 35 2 37 0M63 1L65 1 67 1 68 1M86 1L88 3 90 6 92 11 94 16 96 20 98 21 100 18 102 13 104 8 106 5 108 4 110 6 112 9 114 11 116 12 118 12 120 12 122 12 124 12 126 12 128 12 130 12 132 12 134 12 136 12 138 12 140 12 142 12 144 10 146 5 148 2 149 0"/><path id="c133" d="M28 1L30 2 32 2 34 3 36 3 38 2 40 1M88 1L90 3 92 7 94 10 96 13 98 14 100 12 102 9 104 5 106 3 108 3 110 4 112 7 114 9 116 9 118 9 120 9 122 9 124 9 126 9 128 9 130 9 132 9 134 9 136 9 138 9 140 9 142 9 144 9 146 9 148 9 150 5 152 1"/><path id="c134" d="M26 1L28 3 30 6 32 7 34 5 36 2 37 1M81 1L83 3 85 8 87 15 89 25 91 34 93 41 95 43 97 38 99 28 101 17 103 8 105 4 107 5 109 8 111 12 113 14 115 14 117 14 119 14 121 14 123 14 125 14 127 14 129 14 131 14 133 14 135 14 137 14 139 14 141 14 143 13 145 10 147 5 149 2 150 1"/><path id="c135" d="M6 0L8 3 10 6 12 5 14 3 16 0M27 1L29 2 31 4 33 3 35 2 37 0M82 0L84 4 86 16 88 39 90 65 92 76 94 64 96 38 98 16 100 4 102 1M103 1L105 3 107 7 109 15 111 23 113 30 115 30 117 26 119 18 121 10 123 6 125 4 127 5 129 7 131 11 133 14 135 16 137 16 139 13 141 8 143 3 145 1"/><path id="c136" d="M22 1L24 2 26 2 28 2 30 1M82 0L84 2 86 6 88 12 90 18 92 21 94 20 96 16 98 11 100 6 102 3 104 1M111 0L113 2 115 5 117 7 119 8 121 8 123 8 125 8 127 8 129 8 131 8 133 8 135 8 137 8 139 8 141 8 143 8 145 8 147 7 149 3 151 0"/><path id="c137" d="M83 1L85 3 87 6 89 11 91 16 93 19 95 19 97 15 99 9 101 5 103 4 105 5 107 10 109 17 111 25 113 31 115 35 117 33 119 25 121 16 123 12 125 12 127 13 129 13 131 9 133 5 135 5 137 10 139 18 141 30 143 42 145 51 147 54 149 48 151 36 152 28"/><path id="c138" d="M32 1L34 3 36 8 38 14 40 18 42 16 44 12 46 6 48 2 49 1M86 1L88 3 90 6 92 10 94 14 96 15 98 13 100 9 102 4 104 1 105 0M111 0L113 2 115 6 117 8 119 9 121 9 123 9 125 9 127 9 129 9 131 9 133 9 135 9 137 9 139 9 141 9 143 9 145 9 147 9 149 4 151 0"/><path id="c139" d="M32 1L34 2 36 2 38 1 39 1M88 0L90 3 92 6 94 11 96 14 98 14 100 13 102 10 104 7 106 4 108 2 110 3 112 4 114 6 116 9 118 10 120 10 122 10 124 10 126 10 128 10 130 10 132 10 134 10 136 10 138 10 140 10 142 10 144 10 146 10 148 9 150 5 152 1"/><path id="c140" d="M26 1L28 3 30 7 32 10 34 11 36 9 38 5 40 2 41 1M84 1L86 3 88 9 90 19 92 34 94 52 96 68 98 77 100 74 102 61 104 43 106 30 108 24 110 26 112 33 114 37 116 37 118 31 120 22 122 14 124 8 126 6 128 11 130 22 132 36 134 44 136 42 138 33 140 24 142 16 144 10 146 5 148 2 149 1"/><path id="c141" d="M10 0L12 2 14 3 16 3 18 1 19 1M20 1L22 2 24 5 26 8 28 11 30 13 32 13 34 10 36 7 38 3 40 1 41 0M83 1L85 2 87 5 89 7 91 10 93 11 95 11 97 9 99 6 101 3 103 1M110 1L112 3 114 4 116 4 118 4 120 4 122 4 124 4 126 4 128 4 130 4 132 4 134 4 136 4 138 4 140 4 142 4 144 4 146 4 148 4 150 3 152 1"/><path id="c142" d="M24 1L26 2 28 2 30 1 32 1M82 0L84 2 86 5 88 10 90 15 92 20 94 23 96 23 98 20 100 15 102 10 104 5 106 2 108 1 110 2 112 3 114 4 116 5 118 5 120 5 122 5 124 5 126 5 128 5 130 5 132 5 134 5 136 5 138 5 140 5 142 5 144 5 146 3 148 1"/><path id="c143" d="M24 0L26 3 28 8 30 12 32 11 34 7 36 2 37 1M77 0L79 2 81 6 83 11 85 17 87 23 89 27 91 26 93 22 95 15 97 8 99 4 101 1M109 0L111 2 113 6 115 11 117 16 119 21 121 22 123 18 125 13 127 10 129 11 131 16 133 23 135 31 137 38 139 41 141 41 143 36 145 29 147 21 149 14 151 8 152 6"/><path id="c144" d="M29 1L31 3 33 8 35 13 37 16 39 17 41 13 43 8 45 4 47 1M79 1L81 3 83 5 85 9 87 13 89 17 91 19 93 19 95 16 97 12 99 7 101 3 103 1 104 1M106 1L108 2 110 4 112 6 114 7 116 7 118 7 120 7 122 7 124 7 126 7 128 7 130 7 132 7 134 7 136 7 138 7 140 7 142 7 144 7 146 7 148 7 150 7 152 4"/><path id="c145" d="M36 1L38 1 40 2 42 2 44 2 46 1 47 1M80 1L82 3 84 5 86 8 88 11 90 12 92 12 94 9 96 6 98 3 100 1 101 1M103 1L105 2 107 5 109 9 111 15 113 19 115 21 117 21 119 21 121 21 123 21 125 21 127 21 129 21 131 21 133 21 135 21 137 21 139 21 141 21 143 21 145 21 147 21 149 21 151 16 152 12"/><path id="c146" d="M83 0L85 2 87 6 89 11 91 16 93 20 95 21 97 19 99 15 101 11 103 6 105 3 107 1M111 1L113 4 115 10 117 15 119 15 121 15 123 15 125 15 127 15 129 15 131 15 133 15 135 15 137 15 139 15 141 15 143 15 145 15 147 15 149 15 151 9 152 6"/><path id="c147" d="M31 0L33 2 35 6 37 11 39 16 41 17 43 15 45 10 47 5 49 1 50 0M81 1L83 4 85 10 87 17 89 23 91 23 93 18 95 11 97 5 99 1 100 0M110 0L112 2 114 6 116 9 118 12 120 12 122 9 124 5 126 2 127 1M132 1L134 2 136 4 138 7 140 10 142 12 144 14 146 14 148 12 150 8 152 4"/><path id="c148" d="M16 0L18 4 20 9 22 16 24 18 26 15 28 8 30 3 32 0M86 1L88 4 90 9 92 16 94 23 96 28 98 28 100 24 102 16 104 9 106 4 108 1 109 0M113 1L115 4 117 8 119 10 121 10 123 10 125 10 127 10 129 10 131 10 133 10 135 10 137 10 139 10 141 10 143 10 145 9 147 8 149 5 151 2 152 1"/><path id="c149" d="M23 1L25 2 27 3 29 3 31 2 33 1M84 1L86 3 88 6 90 10 92 14 94 16 96 14 98 11 100 7 102 4 104 2 106 1 108 2 110 3 112 5 114 6 116 6 118 6 120 6 122 6 124 6 126 6 128 6 130 6 132 6 134 6 136 6 138 6 140 6 142 6 144 6 146 4 148 1 149 0"/><path id="c150" d="M18 0L20 3 22 7 24 12 26 13 28 10 30 5 32 1 33 0M80 0L82 3 84 6 86 11 88 17 90 20 92 19 94 15 96 9 98 4 100 1M109 1L111 2 113 5 115 9 117 11 119 12 121 12 123 12 125 12 127 12 129 12 131 12 133 12 135 12 137 12 139 12 141 12 143 12 145 12 147 10 149 6 151 2 152 1"/><path id="c151" d="M1 0L3 2 5 5 7 7 9 8 11 7 13 5 15 2 17 0M28 0L30 2 32 5 34 9 36 13 38 15 40 13 42 10 44 6 46 3 48 1M75 1L77 4 79 9 81 19 83 34 85 51 87 67 89 76 91 73 93 54 95 31 97 13 99 4 101 0M108 0L110 2 112 5 114 9 116 14 118 17 120 19 122 19 124 16 126 15 128 14 130 15 132 16 134 18 136 20 138 22 140 22 142 20 144 15 146 10 148 6 150 2 152 1"/><path id="c152" d="M21 0L23 3 25 9 27 17 29 23 31 23 33 16 35 8 37 3 38 1M91 1L93 1 95 2 97 2 99 2 101 2 103 3 105 5 107 9 109 14 111 19 113 20 115 20 117 20 119 20 121 20 123 20 125 20 127 20 129 20 131 20 133 20 135 20 137 20 139 20 141 20 143 20 145 20 147 20 149 20 151 15 152 12"/><path id="c153" d="M19 1L21 2 23 4 25 7 27 9 29 10 31 8 33 6 35 3 37 1M86 1L88 3 90 5 92 7 94 9 96 10 98 10 100 8 102 5 104 3 106 2 108 3 110 5 112 6 114 6 116 6 118 6 120 6 122 6 124 6 126 6 128 6 130 6 132 6 134 6 136 6 138 6 140 6 142 6 144 5 146 2 148 0"/><path id="c154" d="M21 1L23 2 25 3 27 4 29 3 31 2 33 0M69 1L71 2 73 2 75 2 77 2 79 2 81 3 83 6 85 10 87 13 89 16 91 17 93 16 95 13 97 9 99 5 101 2 103 1M112 1L114 1 116 2 118 2 120 2 122 2 124 2 126 2 128 2 130 2 132 2 134 2 136 2 138 2 140 2 142 2 144 1 145 1"/><path id="c155" d="M9 1L11 3 13 5 15 6 17 5 19 3 21 2 23 2 25 4 27 4 29 3 31 2 32 1M76 1L78 5 80 13 82 31 84 60 86 101 88 147 90 185 92 201 94 178 96 117 98 57 100 20 102 5 104 1M106 0L108 2 110 5 112 9 114 15 116 20 118 23 120 23 122 20 124 15 126 10 128 7 130 8 132 13 134 22 136 35 138 51 140 66 142 76 144 78 146 71 148 58 150 42 152 28"/><path id="c156" d="M35 1L37 1 39 1M79 1L81 3 83 9 85 17 87 27 89 34 91 34 93 29 95 20 97 11 99 5 101 2 102 1M113 1L115 3 117 6 119 7 121 7 123 7 125 7 127 7 129 7 131 7 133 7 135 7 137 7 139 7 141 7 143 7 145 6 147 3 149 1"/><path id="c157" d="M35 1L37 2 39 1 40 1M66 1L68 1 70 2 72 2 74 2 76 1 77 1M81 1L83 2 85 5 87 7 89 10 91 10 93 8 95 5 97 2 99 0M109 1L111 3 113 6 115 8 117 9 119 9 121 9 123 9 125 9 127 9 129 9 131 9 133 9 135 9 137 9 139 9 141 9 143 9 145 8 147 5 149 2 150 1"/><path id="c158" d="M34 1L36 1 38 1 39 1M82 1L84 3 86 9 88 18 90 26 92 31 94 30 96 23 98 14 100 7 102 3 104 0M108 1L110 3 112 5 114 7 116 7 118 7 120 7 122 7 124 7 126 7 128 7 130 7 132 7 134 7 136 7 138 7 140 7 142 7 144 5 146 1 147 0"/><path id="c159" d="M23 1L25 2 27 2 29 2 31 1 32 1M81 0L83 2 85 6 87 10 89 15 91 17 93 16 95 12 97 8 99 4 101 1 102 1M109 0L111 3 113 9 115 16 117 17 119 17 121 17 123 17 125 17 127 17 129 17 131 17 133 17 135 17 137 17 139 17 141 17 143 17 145 17 147 15 149 10 151 4 152 3"/><path id="c160" d="M16 1L18 4 20 9 22 16 24 21 26 23 28 19 30 12 32 6 34 2 35 1M82 1L84 3 86 6 88 11 90 18 92 26 94 33 96 38 98 38 100 31 102 20 104 10 106 4 108 1 110 1 112 3 114 5 116 7 118 9 120 9 122 9 124 9 126 9 128 9 130 9 132 9 134 9 136 9 138 9 140 9 142 9 144 9 146 8 148 5 150 1 151 0"/><path id="c161" d="M20 0L22 2 24 5 26 8 28 12 30 14 32 13 34 11 36 7 38 4 40 2 41 1M61 1L63 2 65 2 67 0M81 1L83 3 85 6 87 9 89 11 91 12 93 11 95 8 97 4 99 1 100 1M108 0L110 2 112 4 114 7 116 9 118 9 120 9 122 9 124 9 126 9 128 9 130 9 132 9 134 9 136 9 138 9 140 9 142 9 144 9 146 6 148 3 150 1"/><path id="c162" d="M21 1L23 4 25 7 27 11 29 12 31 10 33 7 35 3 37 1M77 0L79 2 81 5 83 10 85 14 87 18 89 19 91 17 93 13 95 8 97 4 99 1 100 1M110 1L112 4 114 12 116 23 118 29 120 27 122 20 124 12 126 6 128 3 130 3 132 5 134 10 136 17 138 27 140 40 142 52 144 63 146 70 148 71 150 61 152 43"/><path id="c163" d="M17 1L19 2 21 5 23 7 25 8 27 8 29 7 31 5 33 3 35 1 36 0M82 0L84 3 86 7 88 13 90 20 92 26 94 27 96 23 98 15 100 8 102 3 104 1M107 1L109 2 111 4 113 7 115 9 117 10 119 10 121 10 123 10 125 10 127 10 129 10 131 10 133 10 135 10 137 10 139 10 141 10 143 10 145 10 147 10 149 9 151 5 152 3"/><path id="c164" d="M86 0L88 4 90 12 92 27 94 49 96 73 98 87 100 85 102 67 104 43 106 22 108 9 110 3 112 1M112 1L114 2 116 6 118 12 120 17 122 19 124 17 126 14 128 9 130 6 132 6 134 8 136 13 138 20 140 29 142 38 144 45 146 49 148 47 150 41 152 31"/><path id="c165" d="M18 1L20 3 22 6 24 9 26 10 28 9 30 5 32 2 34 0M84 1L86 3 88 6 90 11 92 17 94 22 96 24 98 22 100 17 102 10 104 5 106 2 108 1 110 3 112 6 114 9 116 9 118 9 120 9 122 9 124 9 126 9 128 9 130 9 132 9 134 9 136 9 138 9 140 9 142 9 144 7 146 4 148 1"/><path id="c166" d="M36 1L38 2 40 3 42 3 44 2 46 1M83 1L85 3 87 5 89 7 91 8 93 8 95 6 97 4 99 2 101 1M106 1L108 3 110 6 112 9 114 11 116 12 118 12 120 12 122 12 124 12 126 12 128 12 130 12 132 12 134 12 136 12 138 12 140 12 142 12 144 12 146 12 148 7 150 2 151 0"/><path id="c167" d="M2 1L4 2 6 2 7 1M21 1L23 2 25 2 27 1M82 1L84 3 86 5 88 8 90 12 92 14 94 16 96 15 98 12 100 7 102 3 104 1M110 1L112 2 114 3 116 3 118 3 120 3 122 3 124 3 126 3 128 3 130 3 132 3 134 3 136 3 138 3 140 3 142 3 144 3 146 3 148 3 150 2 152 0"/><path id="c168" d="M0 1L2 1 4 1M24 0L26 3 28 7 30 14 32 20 34 23 36 20 38 14 40 7 42 3 44 0M78 1L80 3 82 7 84 13 86 20 88 26 90 29 92 28 94 24 96 18 98 11 100 6 102 3 104 2 106 1 108 2 110 4 112 5 114 5 116 5 118 5 120 5 122 5 124 5 126 5 128 5 130 5 132 5 134 5 136 5 138 5 140 5 142 5 144 5 146 5 148 5 150 4 152 1"/><path id="c169" d="M1 1L3 2 5 3 7 3 9 2 11 1 12 1M19 1L21 3 23 5 25 5 27 2 29 0M47 1L49 2 51 2 53 3 55 2 57 2 59 1M82 1L84 3 86 6 88 11 90 17 92 24 94 30 96 33 98 32 100 26 102 18 104 11 106 6 108 6 110 10 112 15 114 16 116 16 118 16 120 16 122 16 124 16 126 16 128 16 130 16 132 16 134 16 136 16 138 16 140 16 142 15 144 7 146 1 147 0"/><path id="c170" d="M27 0L29 2 31 4 33 7 35 8 37 8 39 6 41 4 43 1 44 1M80 1L82 3 84 6 86 10 88 15 90 20 92 24 94 26 96 25 98 20 100 13 102 8 104 4 106 4 108 7 110 12 112 16 114 17 116 17 118 17 120 17 122 17 124 17 126 17 128 17 130 17 132 17 134 17 136 17 138 17 140 17 142 17 144 17 146 17 148 15 150 10 152 4"/><path id="c171" d="M19 1L21 2 23 5 25 9 27 12 29 14 31 13 33 10 35 7 37 3 39 1 40 0M87 0L89 3 91 8 93 16 95 25 97 30 99 30 101 25 103 19 105 12 107 7 109 4 111 2 113 2 115 1 117 1 119 1"/><path id="c172" d="M23 1L25 3 27 7 29 12 31 18 33 21 35 19 37 15 39 9 41 4 43 1 44 0M87 0L89 2 91 6 93 13 95 21 97 28 99 32 101 29 103 20 105 10 107 4 109 1M113 1L115 4 117 8 119 13 121 15 123 14 125 8 127 3 129 1M132 1L134 3 136 6 138 11 140 17 142 24 144 32 146 38 148 41 150 39 152 30"/><path id="c173" d="M24 1L25 1 26 2 27 3 28 4 29 5 30 6 31 6 32 6 33 6 34 6 35 6 36 5 37 4 38 3 39 2 40 2 41 1M81 0L82 1 83 3 84 6 85 10 86 15 87 21 88 28 89 35 90 41 91 45 92 46 93 45 94 42 95 37 96 31 97 24 98 18 99 12 100 8 101 5 102 3 103 2 104 1 105 1 106 3 107 5 108 9 109 15 110 23 111 32 112 43 113 55 114 66 115 75 116 81 117 83 118 80 119 72 120 62 121 49 122 37 123 27 124 18 125 12 126 8 127 6 128 7 129 9 130 13 131 18 132 25 133 32 134 40 135 48 136 55 137 59 138 62 139 61 140 59 141 56 142 51 143 45 144 38 145 32 146 26 147 20 148 15 149 11 150 8 151 5 152 3"/><path id="c174" d="M4 0L6 2 8 3 10 3 12 2 14 0M23 1L25 4 27 9 29 16 31 21 33 21 35 16 37 9 39 4 41 1M81 0L83 2 85 5 87 8 89 12 91 14 93 14 95 12 97 9 99 5 101 3 103 1 104 1M108 1L110 3 112 5 114 6 116 7 118 7 120 7 122 7 124 7 126 7 128 7 130 7 132 7 134 7 136 7 138 7 140 7 142 7 144 7 146 5 148 2 149 1"/><path id="c175" d="M83 1L85 3 87 6 89 8 91 10 93 10 95 8 97 6 99 4 101 2 103 0M111 1L113 2 115 4 117 5 119 5 121 5 123 5 125 5 127 5 129 5 131 5 133 5 135 5 137 5 139 5 141 5 143 5 145 5 147 5 149 5 151 4 152 3"/><path id="c176" d="M33 0L35 5 37 14 39 24 41 25 43 16 45 6 47 1M79 1L81 3 83 7 85 13 87 19 89 23 91 24 93 21 95 15 97 9 99 4 101 1 102 0M106 1L108 5 110 12 112 19 114 20 116 20 118 20 120 20 122 20 124 20 126 20 128 20 130 20 132 20 134 20 136 20 138 20 140 20 142 20 144 20 146 20 148 20 150 16 152 8"/><path id="c177" d="M30 1L32 2 34 2 36 2 38 2 40 1 41 1M79 1L81 2 83 6 85 11 87 18 89 24 91 27 93 27 95 23 97 17 99 10 101 6 103 3 105 3 107 5 109 11 111 19 113 26 115 28 117 28 119 28 121 28 123 28 125 28 127 28 129 28 131 28 133 28 135 28 137 28 139 28 141 28 143 28 145 28 147 20 149 7 151 1"/><path id="c178" d="M78 0L80 2 82 6 84 11 86 17 88 21 90 21 92 18 94 12 96 6 98 2 99 1M107 0L109 2 111 5 113 9 115 12 117 14 119 13 121 14 123 20 125 33 127 49 129 56 131 53 133 41 135 29 137 21 139 18 141 18 143 16 145 14 147 12 149 9 151 6 152 4"/><path id="c179" d="M30 1L32 2 34 4 36 6 38 7 40 7 42 5 44 3 46 1 47 1M85 0L87 3 89 9 91 18 93 27 95 32 97 30 99 23 101 15 103 8 105 3 107 2 109 2 111 3 113 4 115 4 117 4 119 4 121 4 123 4 125 4 127 4 129 4 131 4 133 4 135 4 137 4 139 4 141 4 143 4 145 4 147 4 149 3 151 0"/><path id="c180" d="M25 1L26 1 27 2 28 4 29 5 30 6 31 8 32 9 33 11 34 11 35 12 36 12 37 11 38 10 39 9 40 7 41 6 42 4 43 3 44 2 45 1M78 1L79 2 80 4 81 6 82 10 83 14 84 21 85 28 86 38 87 48 88 59 89 70 90 81 91 90 92 97 93 101 94 102 95 99 96 91 97 81 98 69 99 56 100 44 101 32 102 23 103 16 104 12 105 9 106 10 107 13 108 19 109 30 110 43 111 59 112 77 113 93 114 106 115 112 116 112 117 107 118 96 119 83 120 68 121 53 122 39 123 28 124 19 125 12 126 7 127 4 128 3 129 3 130 5 131 8 132 14 133 22 134 32 135 46 136 61 137 76 138 90 139 101 140 107 141 107 142 104 143 99 144 91 145 82 146 71 147 60 148 50 149 40 150 31 151 24 152 17"/><path id="c181" d="M18 1L20 3 22 8 24 16 26 21 28 18 30 10 32 3 33 1M80 1L82 3 84 6 86 10 88 13 90 15 92 15 94 12 96 8 98 4 100 1 101 0M108 0L110 2 112 4 114 7 116 9 118 9 120 9 122 9 124 9 126 9 128 9 130 9 132 9 134 9 136 9 138 9 140 9 142 9 144 9 146 9 148 9 150 6 152 2"/><path id="c182" d="M24 1L26 3 28 6 30 8 32 8 34 6 36 3 38 1M80 1L82 3 84 6 86 9 88 12 90 13 92 12 94 10 96 7 98 4 100 2 102 0M108 0L110 3 112 8 114 15 116 21 118 23 120 23 122 23 124 23 126 23 128 23 130 23 132 23 134 23 136 23 138 23 140 23 142 23 144 23 146 23 148 19 150 11 152 4"/><path id="c183" d="M32 0L34 2 36 5 38 7 40 7 42 6 44 3 46 1 47 0M86 1L88 3 90 6 92 10 94 13 96 14 98 12 100 9 102 5 104 3 106 2 108 3 110 7 112 12 114 16 116 18 118 18 120 18 122 18 124 18 126 18 128 18 130 18 132 18 134 18 136 18 138 18 140 18 142 18 144 18 146 18 148 18 150 18 152 12"/><path id="c184" d="M18 0L20 3 22 8 24 10 26 8 28 3 30 0M67 1L69 2 71 2 73 1 74 1M77 1L79 3 81 6 83 10 85 16 87 21 89 24 91 24 93 22 95 17 97 12 99 7 101 3 103 1 104 1M107 1L109 3 111 7 113 11 115 15 117 16 119 16 121 16 123 16 125 16 127 16 129 16 131 16 133 16 135 16 137 16 139 16 141 16 143 16 145 16 147 14 149 10 151 5 152 3"/><path id="c185" d="M23 1L25 5 27 14 29 25 31 28 33 22 35 11 37 3 39 0M80 0L82 2 84 5 86 8 88 12 90 14 92 15 94 12 96 8 98 4 100 1 101 1M107 0L109 3 111 9 113 16 115 19 117 19 119 19 121 19 123 19 125 19 127 19 129 19 131 19 133 19 135 19 137 19 139 19 141 19 143 19 145 19 147 19 149 14 151 8 152 5"/><path id="c186" d="M27 1L29 5 31 14 33 21 35 19 37 10 39 3 40 1M86 0L88 3 90 10 92 22 94 32 96 35 98 29 100 19 102 10 104 4 106 1M110 1L112 4 114 9 116 17 118 27 120 36 122 43 124 44 126 41 128 36 130 29 132 20 134 12 136 6 138 4 140 5 142 7 144 10 146 13 148 15 150 15 152 13"/><path id="c187" d="M28 1L30 5 32 14 34 22 36 21 38 13 40 4 42 0M80 1L82 3 84 7 86 13 88 20 90 27 92 32 94 33 96 29 98 22 100 14 102 7 104 3 106 1"/><path id="c188" d="M26 0L28 2 30 5 32 8 34 9 36 8 38 5 40 3 42 1M77 1L79 3 81 6 83 11 85 17 87 24 89 30 91 34 93 34 95 31 97 24 99 16 101 10 103 5 105 3 107 2 109 3 111 4 113 5 115 5 117 5 119 5 121 5 123 5 125 5 127 5 129 5 131 5 133 5 135 5 137 5 139 5 141 5 143 5 145 5 147 5 149 5 151 3 152 3"/><path id="c189" d="M29 0L31 3 33 6 35 7 37 5 39 2 40 0M87 1L89 3 91 6 93 10 95 14 97 16 99 14 101 10 103 6 105 2 107 0M115 1L117 2 119 2 121 2 123 2 125 2 127 2 129 2 131 2 133 2 135 2 137 2 139 2 141 2 143 2 145 2 147 2 149 1 150 0"/><path id="c190" d="M30 0L32 3 34 11 36 20 38 24 40 17 42 7 44 1 45 0M64 1L66 2 68 2 70 0M83 0L85 3 87 9 89 19 91 31 93 41 95 43 97 39 99 30 101 20 103 11 105 6 107 3 109 4 111 10 113 18 115 21 117 21 119 21 121 21 123 21 125 21 127 21 129 21 131 21 133 21 135 21 137 21 139 21 141 21 143 21 145 21 147 21 149 20 151 12 152 8"/><path id="c191" d="M30 1L31 1 32 1 33 2 34 2 35 2 36 1 37 1 38 1M84 0L85 1 86 3 87 4 88 7 89 10 90 13 91 17 92 21 93 25 94 29 95 31 96 32 97 32 98 31 99 28 100 25 101 21 102 17 103 13 104 10 105 7 106 4 107 3 108 2 109 2 110 4 111 7 112 14 113 25 114 41 115 63 116 91 117 122 118 154 119 182 120 201 121 208 122 204 123 192 124 174 125 151 126 128 127 106 128 89 129 80 130 82 131 96 132 119 133 148 134 175 135 194 136 201 137 193 138 176 139 154 140 131 141 110 142 93 143 79 144 67 145 55 146 45 147 36 148 27 149 20 150 14 151 10 152 6"/><path id="c192" d="M25 1L27 2 29 3 31 4 33 3 35 1 36 1M49 1L51 2 53 3 55 3 57 2 59 1M81 0L83 2 85 6 87 11 89 18 91 27 93 35 95 41 97 42 99 35 101 23 103 11 105 4 107 2 109 2 111 6 113 11 115 14 117 15 119 15 121 15 123 15 125 15 127 15 129 15 131 15 133 15 135 15 137 15 139 15 141 15 143 15 145 15 147 15 149 15 151 14 152 11"/><path id="c193" d="M15 0L17 3 19 7 21 13 23 17 25 17 27 12 29 7 31 2 33 0M84 1L86 3 88 6 90 9 92 11 94 11 96 10 98 8 100 5 102 3 104 1 105 1M110 1L112 3 114 5 116 5 118 5 120 5 122 5 124 5 126 5 128 5 130 5 132 5 134 5 136 5 138 5 140 5 142 5 144 5 146 4 148 1 149 0"/><path id="c194" d="M8 1L10 3 12 7 14 8 16 6 18 2 20 0M85 1L87 4 89 13 91 31 93 56 95 83 97 100 99 95 101 66 103 33 105 12 107 4 109 4 111 7 113 10 115 14 117 17 119 17 121 13 123 8 125 4 127 2 129 3 131 5 133 7 135 6 137 5 139 5 141 7 143 10 145 13 147 14 149 11 151 7 152 5"/><path id="c195" d="M30 0L32 2 34 6 36 8 38 8 40 4 42 1 43 0M87 1L89 3 91 6 93 9 95 11 97 12 99 10 101 7 103 3 105 1M111 1L113 3 115 4 117 4 119 4 121 4 123 4 125 4 127 4 129 4 131 4 133 4 135 4 137 4 139 4 141 4 143 4 145 4 147 4 149 4 151 3 152 3"/><path id="c196" d="M1 1L3 2 5 3 7 4 9 3 11 2 13 1M34 1L36 2 38 5 40 7 42 8 44 8 46 6 48 4 50 2 51 1M84 1L86 2 88 5 90 8 92 11 94 13 96 12 98 9 100 6 102 3 104 1 105 1M107 1L109 3 111 8 113 15 115 20 117 21 119 21 121 21 123 21 125 21 127 21 129 21 131 21 133 21 135 21 137 21 139 21 141 21 143 21 145 21 147 21 149 21 151 18 152 14"/><path id="c197" d="M21 0L23 3 25 6 27 9 29 11 31 9 33 6 35 2 37 0M84 1L86 4 88 10 90 19 92 30 94 37 96 38 98 33 100 24 102 14 104 7 106 3 108 2 110 4 112 7 114 10 116 11 118 10 120 10 122 10 124 10 126 10 128 10 130 10 132 10 134 10 136 10 138 10 140 10 142 10 144 10 146 8 148 3 150 0"/><path id="c198" d="M28 1L30 4 32 9 34 14 36 16 38 15 40 10 42 5 44 1 45 0M79 1L81 2 83 4 85 7 87 9 89 12 91 13 93 12 95 8 97 5 99 2 100 1M108 1L110 3 112 6 114 6 116 6 118 6 120 6 122 6 124 6 126 6 128 6 130 6 132 6 134 6 136 6 138 6 140 6 142 6 144 6 146 6 148 6 150 4 152 1"/><path id="c199" d="M19 1L21 3 23 5 25 8 27 9 29 9 31 6 33 4 35 1 36 1M79 0L81 3 83 12 85 31 87 60 89 89 91 101 93 92 95 70 97 45 99 23 101 10 103 4 105 4 107 9 109 20 111 37 113 55 115 67 117 68 119 54 121 36 123 26 125 24 127 28 129 31 131 27 133 19 135 15 137 15 139 16 141 16 143 13 145 9 147 4 149 2 150 1"/><path id="c200" d="M24 1L26 3 28 8 30 13 32 19 34 21 36 20 38 15 40 9 42 4 44 1 45 0M82 1L84 4 86 8 88 13 90 17 92 19 94 17 96 13 98 8 100 4 102 2 103 1M110 1L112 4 114 7 116 9 118 9 120 9 122 9 124 9 126 9 128 9 130 9 132 9 134 9 136 9 138 9 140 9 142 9 144 9 146 8 148 4 150 1"/><path id="c201" d="M25 0L27 2 29 6 31 9 33 10 35 8 37 5 39 2 40 1M84 0L86 3 88 7 90 15 92 24 94 31 96 33 98 30 100 24 102 17 104 11 106 6 108 4 110 4 112 6 114 7 116 8 118 8 120 8 122 8 124 8 126 8 128 8 130 8 132 8 134 8 136 8 138 8 140 8 142 8 144 8 146 7 148 4 150 2 151 1"/><path id="c202" d="M14 0L16 2 18 5 20 8 22 10 24 12 26 14 28 14 30 12 32 8 34 5 36 2 37 1M83 1L85 4 87 10 89 17 91 25 93 29 95 26 97 19 99 10 101 4 103 1M108 0L110 2 112 5 114 8 116 9 118 9 120 9 122 9 124 9 126 9 128 9 130 9 132 9 134 9 136 9 138 9 140 9 142 9 144 9 146 9 148 9 150 9 152 7"/><path id="c203" d="M83 1L85 2 87 5 89 9 91 14 93 19 95 23 97 24 99 21 101 14 103 7 105 3 107 1 109 4 111 10 113 16 115 17 117 17 119 17 121 17 123 17 125 17 127 17 129 17 131 17 133 17 135 17 137 17 139 17 141 17 143 17 145 17 147 17 149 16 151 10 152 6"/><path id="c204" d="M16 0L18 2 20 5 22 10 24 15 26 18 28 18 30 15 32 10 34 6 36 2 38 0M83 1L85 2 87 5 89 9 91 13 93 17 95 21 97 22 99 21 101 16 103 10 105 5 107 2 109 1M111 1L113 3 115 6 117 9 119 10 121 10 123 10 125 10 127 10 129 10 131 10 133 10 135 10 137 10 139 10 141 10 143 10 145 6 147 1"/><path id="c205" d="M23 1L25 3 27 7 29 12 31 17 33 20 35 20 37 17 39 12 41 7 43 3 45 1M77 1L79 3 81 7 83 12 85 20 87 29 89 37 91 42 93 42 95 35 97 24 99 13 101 5 103 1 104 1M108 1L110 3 112 6 114 10 116 11 118 11 120 11 122 11 124 11 126 11 128 11 130 11 132 11 134 11 136 11 138 11 140 11 142 11 144 11 146 9 148 5 150 1"/><path id="c206" d="M6 0L8 3 10 6 12 6 14 3 16 1M27 1L29 3 31 4 33 4 35 2 37 0M77 1L79 6 81 18 83 43 85 76 87 107 89 118 91 98 93 60 95 27 97 8 99 2 100 1M101 1L103 3 105 8 107 18 109 34 111 53 113 67 115 72 117 66 119 54 121 38 123 24 125 13 127 9 129 9 131 13 133 15 135 13 137 10 139 7 141 7 143 8 145 11 147 13 149 14 151 14 152 13"/><path id="c207" d="M32 1L34 4 36 9 38 15 40 19 42 18 44 13 46 7 48 3 50 1M82 1L84 2 86 5 88 8 90 11 92 13 94 14 96 12 98 10 100 6 102 4 104 1 105 1M107 1L109 3 111 9 113 18 115 23 117 23 119 23 121 23 123 23 125 23 127 23 129 23 131 23 133 23 135 23 137 23 139 23 141 23 143 22 145 14 147 6 149 1 150 0"/><path id="c208" d="M22 0L24 3 26 10 28 18 30 22 32 20 34 12 36 5 38 1M84 1L86 3 88 7 90 12 92 16 94 18 96 17 98 14 100 9 102 5 104 2 105 1M110 1L112 4 114 8 116 9 118 9 120 9 122 9 124 9 126 9 128 9 130 9 132 9 134 9 136 9 138 9 140 9 142 9 144 9 146 9 148 9 150 9 152 6"/><path id="c209" d="M0 2L2 4 4 6 6 7 8 6 10 4 12 2 13 1M26 1L28 5 30 12 32 18 34 19 36 13 38 6 40 1 41 0M78 1L80 5 82 14 84 32 86 59 88 89 90 109 92 109 94 89 96 58 98 30 100 12 102 4 104 0M109 0L111 3 113 8 115 17 117 29 119 45 121 61 123 74 125 78 127 71 129 57 131 43 133 34 135 29 137 26 139 23 141 19 143 13 145 8 147 4 149 2 150 1"/><path id="c210" d="M40 1L42 1 44 1 45 1M53 1L55 2 57 2 59 2 61 1 62 1M82 0L84 3 86 8 88 16 90 25 92 31 94 31 96 26 98 19 100 11 102 5 104 2 106 2 108 3 110 7 112 11 114 16 116 19 118 19 120 19 122 19 124 19 126 19 128 19 130 19 132 19 134 19 136 19 138 19 140 19 142 19 144 19 146 19 148 16 150 9 152 3"/><path id="c211" d="M83 0L85 4 87 13 89 31 91 53 93 69 95 69 97 57 99 41 101 25 103 12 105 5 107 2 109 3 111 5 113 10 115 12 117 11 119 9 121 6 123 3 125 1M136 1L138 4 140 8 142 14 144 19 146 23 148 21 150 16 152 9"/><path id="c212" d="M28 1L30 4 32 8 34 11 36 11 38 9 40 5 42 1 43 0M80 1L82 2 84 5 86 9 88 14 90 18 92 21 94 23 96 20 98 15 100 9 102 4 104 1 105 0M108 1L110 3 112 8 114 13 116 15 118 15 120 15 122 15 124 15 126 15 128 15 130 15 132 15 134 15 136 15 138 15 140 15 142 15 144 15 146 15 148 15 150 15 152 10"/><path id="c213" d="M26 1L28 4 30 10 32 15 34 15 36 11 38 5 40 1 41 0M80 0L82 2 84 5 86 9 88 13 90 16 92 16 94 13 96 8 98 4 100 1M110 0L112 4 114 10 116 16 118 17 120 17 122 17 124 17 126 17 128 17 130 17 132 17 134 17 136 17 138 17 140 17 142 17 144 14 146 7 148 2 149 0"/><path id="c214" d="M4 1L5 4 6 9 7 15 8 21 9 24 10 22 11 17 12 11 13 5 14 2 15 0M22 0L23 2 24 8 25 22 26 40 27 51 28 51 29 44 30 37 31 32 32 31 33 31 34 29 35 25 36 19 37 13 38 7 39 4 40 1 41 0M73 0L74 1 75 3 76 7 77 13 78 22 79 37 80 58 81 87 82 125 83 172 84 227 85 287 86 348 87 403 88 449 89 479 90 489 91 472 92 424 93 354 94 274 95 198 96 133 97 83 98 48 99 26 100 14 101 8 102 7 103 9 104 15 105 25 106 40 107 61 108 89 109 126 110 171 111 223 112 280 113 339 114 395 115 443 116 478 117 496 118 494 119 454 120 384 121 298 122 212 123 138 124 83 125 45 126 23 127 10 128 4 129 1 130 0M131 0L132 1 133 4 134 9 135 17 136 31 137 52 138 82 139 120 140 165 141 213 142 258 143 294 144 314 145 315 146 297 147 263 148 219 149 171 150 126 151 86 152 56"/><path id="c215" d="M18 1L20 3 22 7 24 13 26 18 28 20 30 18 32 12 34 7 36 3 38 0M86 0L88 3 90 8 92 16 94 26 96 32 98 31 100 23 102 14 104 6 106 2 107 1"/><path id="c216" d="M26 1L28 4 30 9 32 15 34 21 36 23 38 20 40 15 42 8 44 4 46 1M89 1L91 3 93 8 95 12 97 15 99 14 101 11 103 8 105 4 107 2 108 1M110 0L112 2 114 7 116 13 118 14 120 14 122 14 124 14 126 14 128 14 130 14 132 14 134 14 136 14 138 14 140 14 142 14 144 14 146 14 148 14 150 8 152 3"/><path id="c217" d="M15 1L17 3 19 6 21 10 23 12 25 12 27 9 29 6 31 3 33 1M76 1L78 2 80 3 82 4 84 5 86 8 88 12 90 15 92 16 94 15 96 12 98 8 100 5 102 2 104 2 106 4 108 8 110 12 112 14 114 15 116 15 118 15 120 15 122 15 124 15 126 15 128 15 130 15 132 15 134 15 136 15 138 15 140 15 142 15 144 15 146 15 148 15 150 12 152 7"/><path id="c218" d="M38 1L40 2 42 3 44 2 46 1M86 1L88 3 90 9 92 16 94 22 96 25 98 23 100 18 102 12 104 7 106 4 108 2 110 1 112 3 114 6 116 10 118 13 120 13 122 13 124 13 126 13 128 13 130 13 132 13 134 13 136 13 138 13 140 13 142 13 144 13 146 13 148 7 150 1 151 0"/><path id="c219" d="M33 1L35 2 37 4 39 6 41 6 43 5 45 3 47 1 48 0M82 0L84 2 86 6 88 10 90 15 92 20 94 21 96 20 98 17 100 12 102 8 104 6 106 5 108 6 110 8 112 10 114 11 116 11 118 11 120 11 122 11 124 11 126 11 128 11 130 11 132 11 134 11 136 11 138 11 140 11 142 11 144 11 146 11 148 7 150 2 151 1"/><path id="c220" d="M18 1L20 2 22 3 24 3 26 3 28 2 30 1 31 1M66 1L68 2 70 1M80 1L82 3 84 5 86 9 88 13 90 17 92 19 94 19 96 16 98 12 100 7 102 4 104 2 106 2 108 4 110 9 112 15 114 21 116 24 118 24 120 24 122 24 124 24 126 24 128 24 130 24 132 24 134 24 136 24 138 24 140 24 142 24 144 24 146 23 148 17 150 9 152 3"/><path id="c221" d="M31 0L32 1 33 2 34 3 35 4 36 5 37 6 38 7 39 8 40 8 41 9 42 8 43 8 44 7 45 6 46 5 47 4 48 3 49 2 50 1 51 1M82 0L83 1 84 3 85 5 86 8 87 12 88 17 89 23 90 31 91 38 92 46 93 52 94 58 95 61 96 62 97 60 98 55 99 47 100 39 101 30 102 22 103 15 104 10 105 6 106 3 107 2 108 1M109 1L110 2 111 4 112 9 113 17 114 29 115 46 116 69 117 96 118 125 119 152 120 174 121 187 122 190 123 189 124 187 125 186 126 189 127 198 128 211 129 226 130 239 131 245 132 243 133 236 134 225 135 211 136 197 137 184 138 170 139 156 140 142 141 126 142 109 143 92 144 75 145 59 146 45 147 33 148 23 149 16 150 10 151 6 152 3"/><path id="c222" d="M84 1L86 3 88 6 90 10 92 14 94 16 96 17 98 15 100 11 102 6 104 3 106 2 108 4 110 10 112 13 114 13 116 13 118 13 120 13 122 13 124 13 126 13 128 13 130 13 132 13 134 13 136 13 138 13 140 13 142 13 144 13 146 13 148 13 150 12 152 9"/><path id="c223" d="M31 1L33 2 35 3 37 4 39 4 41 3 43 2 45 1 46 1M79 1L81 4 83 9 85 18 87 28 89 36 91 39 93 35 95 24 97 13 99 5 101 1 102 0M110 0L112 2 114 5 116 8 118 8 120 8 122 8 124 8 126 8 128 8 130 8 132 8 134 8 136 8 138 8 140 8 142 8 144 8 146 8 148 8 150 7 152 4"/><path id="c224" d="M0 1L1 2 2 3 3 4 4 4 5 5 6 5 7 4 8 4 9 3 10 2 11 1 12 0M26 1L27 1 28 2 29 2 30 3 31 3 32 3 33 3 34 3 35 3 36 2 37 2 38 1 39 1M79 0L80 1 81 3 82 5 83 9 84 14 85 21 86 30 87 40 88 52 89 64 90 75 91 84 92 90 93 92 94 89 95 82 96 71 97 59 98 46 99 34 100 23 101 15 102 9 103 5 104 3 105 1 106 1M107 1L108 2 109 5 110 11 111 20 112 33 113 53 114 79 115 110 116 144 117 177 118 204 119 222 120 226 121 222 122 211 123 195 124 176 125 153 126 130 127 107 128 86 129 67 130 51 131 38 132 28 133 22 134 18 135 18 136 21 137 28 138 37 139 48 140 61 141 75 142 88 143 98 144 104 145 106 146 101 147 92 148 78 149 63 150 47 151 34 152 22"/><path id="c225" d="M21 1L23 2 25 5 27 10 29 15 31 19 33 20 35 18 37 13 39 8 41 4 43 1 44 1M79 1L81 2 83 5 85 9 87 13 89 17 91 18 93 17 95 14 97 9 99 5 101 2 103 0M108 0L110 2 112 6 114 10 116 14 118 16 120 16 122 16 124 16 126 16 128 16 130 16 132 16 134 16 136 16 138 16 140 16 142 16 144 16 146 16 148 16 150 15 152 10"/><path id="c226" d="M16 1L18 3 20 6 22 8 24 10 26 9 28 7 30 4 32 2 33 1M85 0L87 2 89 5 91 9 93 13 95 16 97 16 99 13 101 8 103 4 105 1 106 1M110 1L112 2 114 3 116 4 118 5 120 5 122 5 124 5 126 5 128 5 130 5 132 5 134 5 136 5 138 5 140 5 142 4 144 3 146 2 147 1"/><path id="c227" d="M39 1L41 1 43 1 45 1M82 1L84 3 86 7 88 12 90 16 92 18 94 18 96 14 98 9 100 5 102 2 104 0M106 0L108 2 110 7 112 11 114 13 116 13 118 13 120 13 122 13 124 13 126 13 128 13 130 13 132 13 134 13 136 13 138 13 140 13 142 13 144 13 146 13 148 13 150 12 152 9"/><path id="c228" d="M30 1L32 2 34 4 36 7 38 9 40 9 42 8 44 6 46 4 48 2 49 1M86 1L88 3 90 7 92 12 94 17 96 20 98 19 100 16 102 12 104 8 106 6 108 6 110 9 112 12 114 13 116 13 118 13 120 13 122 13 124 13 126 13 128 13 130 13 132 13 134 13 136 13 138 13 140 13 142 13 144 13 146 13 148 11 150 6 152 3"/><path id="c229" d="M1 1L3 3 5 4 7 3 9 1 10 0M33 1L35 3 37 5 39 7 41 6 43 4 45 2 46 1M82 1L84 3 86 6 88 10 90 16 92 21 94 23 96 23 98 19 100 13 102 7 104 3 106 1M111 1L113 3 115 7 117 10 119 10 121 10 123 10 125 10 127 10 129 10 131 10 133 10 135 10 137 10 139 10 141 10 143 10 145 10 147 9 149 5 151 2 152 1"/><path id="c230" d="M8 1L9 2 10 4 11 6 12 9 13 11 14 13 15 14 16 14 17 12 18 10 19 7 20 5 21 3 22 1 23 0M77 0L78 2 79 6 80 13 81 25 82 46 83 78 84 122 85 176 86 238 87 298 88 348 89 377 90 380 91 356 92 310 93 252 94 190 95 133 96 86 97 52 98 29 99 15 100 7 101 3 102 1 103 1 104 2 105 5 106 9 107 15 108 26 109 41 110 62 111 90 112 127 113 171 114 222 115 277 116 333 117 386 118 430 119 462 120 478 121 475 122 456 123 421 124 374 125 320 126 264 127 210 128 162 129 122 130 91 131 70 132 58 133 56 134 61 135 72 136 87 137 105 138 122 139 136 140 146 141 149 142 145 143 135 144 119 145 101 146 81 147 62 148 45 149 31 150 20 151 13 152 7"/><path id="c231" d="M16 1L18 2 20 2 22 1M29 1L31 3 33 8 35 13 37 17 39 18 41 15 43 10 45 5 47 2 48 1M82 0L84 2 86 7 88 14 90 22 92 30 94 33 96 30 98 21 100 12 102 5 104 2 105 0M112 1L114 5 116 10 118 13 120 13 122 13 124 13 126 13 128 13 130 13 132 13 134 13 136 13 138 13 140 13 142 13 144 10 146 3 148 0"/><path id="c232" d="M12 1L14 2 16 4 18 6 20 7 22 7 24 7 26 6 28 4 30 2 32 1M84 1L86 3 88 7 90 12 92 16 94 17 96 16 98 12 100 8 102 5 104 3 106 3 108 4 110 5 112 6 114 6 116 6 118 6 120 6 122 6 124 6 126 6 128 6 130 6 132 6 134 6 136 6 138 6 140 6 142 6 144 6 146 6 148 6 150 3 152 0"/><path id="c233" d="M32 0L34 3 36 7 38 11 40 13 42 11 44 7 46 3 48 0M86 1L88 3 90 9 92 17 94 25 96 29 98 27 100 21 102 13 104 7 106 3 108 3 110 5 112 9 114 11 116 11 118 11 120 11 122 11 124 11 126 11 128 11 130 11 132 11 134 11 136 11 138 11 140 11 142 11 144 11 146 7 148 2 149 1"/><path id="c234" d="M84 1L86 4 88 9 90 16 92 21 94 22 96 19 98 13 100 7 102 3 104 1M107 1L109 3 111 7 113 11 115 13 117 13 119 13 121 13 123 13 125 13 127 13 129 13 131 13 133 13 135 13 137 13 139 13 141 13 143 11 145 6 147 2 148 1"/><path id="c235" d="M22 0L23 3 24 10 25 23 26 38 27 49 28 50 29 45 30 38 31 31 32 26 33 23 34 22 35 23 36 22 37 20 38 17 39 13 40 9 41 6 42 3 43 1 44 0M103 0L104 2 105 6 106 14 107 28 108 54 109 93 110 150 111 225 112 312 113 404 114 485 115 542 116 563 117 544 118 489 119 409 120 318 121 230 122 154 123 96 124 56 125 30 126 14 127 6 128 2 129 1M129 1L130 1 131 3 132 6 133 12 134 22 135 38 136 60 137 90 138 126 139 165 140 202 141 234 142 253 143 258 144 247 145 222 146 187 147 148 148 110 149 77 150 50 151 31 152 17"/><path id="c236" d="M7 1L9 1 11 2 13 2 15 1 16 1M21 0L23 2 25 7 27 12 29 15 31 14 33 10 35 5 37 1 38 0M89 1L91 4 93 9 95 16 97 21 99 20 101 15 103 11 105 11 107 17 109 25 111 35 113 42 115 44 117 37 119 22 121 10 123 7 125 15 127 30 129 43 131 47 133 49 135 54 137 63 139 68 141 67 143 60 145 49 147 37 149 25 151 15 152 12"/><path id="c237" d="M18 1L20 3 22 6 24 10 26 14 28 16 30 16 32 13 34 9 36 5 38 2 40 1M87 0L89 3 91 6 93 11 95 16 97 18 99 17 101 14 103 10 105 6 107 4 109 3 111 2 113 2 115 2 117 2 119 2 121 2 123 2 125 2 127 2 129 2 131 2 133 2 135 2 137 2 139 2 141 2 143 2 145 2 147 2 149 1 150 1"/><path id="c238" d="M19 0L21 3 23 8 25 14 27 16 29 12 31 6 33 1 34 0M87 0L89 3 91 8 93 15 95 24 97 30 99 30 101 26 103 19 105 12 107 7 109 4 111 5 113 9 115 14 117 14 119 14 121 14 123 14 125 14 127 14 129 14 131 14 133 14 135 14 137 14 139 14 141 14 143 14 145 14 147 8 149 2 150 0"/><path id="c239" d="M22 1L24 1 26 1 28 1M82 1L84 4 86 10 88 19 90 29 92 35 94 35 96 28 98 18 100 9 102 4 104 1M108 1L110 3 112 7 114 13 116 17 118 18 120 18 122 18 124 18 126 18 128 18 130 18 132 18 134 18 136 18 138 18 140 18 142 18 144 18 146 18 148 17 150 9 152 3"/><path id="c240" d="M30 1L31 2 32 3 33 4 34 5 35 6 36 7 37 7 38 7 39 7 40 6 41 5 42 4 43 3 44 2 45 1 46 0M83 0L84 1 85 3 86 5 87 9 88 14 89 20 90 27 91 36 92 45 93 54 94 62 95 69 96 73 97 74 98 70 99 61 100 48 101 35 102 24 103 14 104 8 105 4 106 2 107 1M107 1L108 2 109 4 110 8 111 16 112 27 113 42 114 60 115 78 116 93 117 101 118 102 119 100 120 95 121 88 122 81 123 76 124 72 125 73 126 78 127 88 128 101 129 115 130 127 131 136 132 138 133 133 134 123 135 111 136 101 137 96 138 96 139 101 140 109 141 117 142 123 143 127 144 126 145 119 146 106 147 89 148 71 149 54 150 38 151 25 152 16"/><path id="c241" d="M17 1L19 3 21 6 23 10 25 15 27 18 29 19 31 16 33 12 35 7 37 3 39 1 40 0M83 0L85 2 87 6 89 11 91 16 93 21 95 23 97 21 99 16 101 9 103 4 105 1M109 0L111 3 113 8 115 15 117 23 119 26 121 26 123 26 125 26 127 26 129 26 131 26 133 26 135 26 137 26 139 26 141 26 143 26 145 26 147 26 149 26 151 25 152 22"/><path id="c242" d="M24 0L26 3 28 9 30 17 32 23 34 21 36 14 38 7 40 2 41 1M81 1L83 3 85 6 87 10 89 14 91 15 93 13 95 9 97 6 99 2 101 1M106 1L108 4 110 8 112 13 114 16 116 17 118 17 120 17 122 17 124 17 126 17 128 17 130 17 132 17 134 17 136 17 138 17 140 17 142 17 144 17 146 17 148 17 150 15 152 10"/><path id="c243" d="M15 1L17 1 19 1 21 1 23 2 25 5 27 8 29 11 31 11 33 10 35 7 37 3 39 1 40 0M78 1L80 2 82 4 84 7 86 10 88 12 90 13 92 11 94 8 96 4 98 1 99 0M107 1L109 3 111 6 113 8 115 9 117 9 119 9 121 9 123 9 125 9 127 9 129 9 131 9 133 9 135 9 137 9 139 9 141 9 143 9 145 9 147 9 149 7 151 3 152 1"/><path id="c244" d="M84 1L86 4 88 12 90 25 92 44 94 64 96 78 98 80 100 66 102 42 104 21 106 9 108 6 110 7 112 11 114 15 116 17 118 18 120 14 122 8 124 4 126 4 128 6 130 10 132 13 134 16 136 15 138 13 140 11 142 8 144 5 146 3 148 1 149 0"/><path id="c245" d="M29 1L31 4 33 9 35 15 37 17 39 13 41 7 43 2 44 1M78 1L80 2 82 6 84 11 86 17 88 23 90 27 92 28 94 23 96 15 98 7 100 2 102 0M113 1L115 3 117 6 119 7 121 7 123 7 125 7 127 7 129 7 131 7 133 7 135 7 137 7 139 7 141 7 143 4 145 1"/><path id="c246" d="M19 1L21 4 23 9 25 15 27 18 29 16 31 10 33 4 35 1M82 1L84 2 86 5 88 8 90 11 92 11 94 10 96 7 98 4 100 2 102 1M107 0L109 2 111 6 113 10 115 13 117 14 119 14 121 14 123 14 125 14 127 14 129 14 131 14 133 14 135 14 137 14 139 14 141 14 143 14 145 14 147 14 149 14 151 11 152 8"/><path id="c247" d="M27 0L29 2 31 5 33 9 35 11 37 12 39 10 41 7 43 4 45 1 46 0M82 1L84 4 86 10 88 18 90 27 92 33 94 34 96 30 98 23 100 15 102 8 104 4 106 4 108 6 110 10 112 14 114 16 116 16 118 16 120 16 122 16 124 16 126 16 128 16 130 16 132 16 134 16 136 16 138 16 140 16 142 16 144 16 146 16 148 14 150 8 152 3"/><path id="c248" d="M35 1L37 3 39 6 41 8 43 7 45 5 47 2 49 0M81 0L83 2 85 7 87 14 89 22 91 26 93 26 95 21 97 15 99 9 101 4 103 1 104 1M106 1L108 4 110 10 112 17 114 19 116 19 118 19 120 19 122 19 124 19 126 19 128 19 130 19 132 19 134 19 136 19 138 19 140 19 142 19 144 19 146 18 148 11 150 3 151 1"/><path id="c249" d="M23 1L25 4 27 10 29 14 31 13 33 9 35 4 37 1M82 1L84 3 86 8 88 13 90 20 92 27 94 30 96 30 98 25 100 19 102 12 104 6 106 4 108 4 110 6 112 9 114 11 116 11 118 11 120 11 122 11 124 11 126 11 128 11 130 11 132 11 134 11 136 11 138 11 140 11 142 11 144 11 146 11 148 11 150 8 152 4"/><path id="c250" d="M28 1L30 2 32 4 34 6 36 7 38 7 40 6 42 4 44 2 46 1M75 1L77 1M80 1L82 2 84 5 86 8 88 13 90 16 92 17 94 15 96 12 98 8 100 4 102 2 104 1M105 1L107 2 109 3 111 4 113 4 115 4 117 4 119 4 121 4 123 4 125 4 127 4 129 4 131 4 133 4 135 4 137 4 139 4 141 4 143 4 145 4 147 3 149 1 150 0"/><path id="c251" d="M3 1L5 2 7 3 9 4 11 3 13 2 15 0M22 1L24 4 26 9 28 14 30 17 32 16 34 11 36 6 38 2 39 1M86 0L88 4 90 10 92 22 94 34 96 42 98 41 100 33 102 22 104 12 106 5 108 1 109 0M114 1L116 2 118 3 120 3 122 3 124 3 126 3 128 3 130 3 132 3 134 3 136 3 138 3 140 3 142 3 144 3 146 3 148 3 150 2 152 0"/><path id="c252" d="M33 1L34 1 35 2 36 3 37 4 38 5 39 6 40 7 41 7 42 7 43 7 44 7 45 6 46 5 47 4 48 3 49 2 50 1 51 1M80 1L81 2 82 4 83 8 84 13 85 21 86 31 87 43 88 57 89 73 90 90 91 105 92 117 93 125 94 128 95 125 96 116 97 102 98 85 99 68 100 52 101 37 102 25 103 17 104 11 105 8 106 7 107 9 108 14 109 21 110 32 111 46 112 63 113 82 114 102 115 122 116 138 117 149 118 153 119 151 120 143 121 130 122 114 123 96 124 78 125 61 126 46 127 33 128 25 129 19 130 17 131 18 132 22 133 30 134 41 135 55 136 73 137 93 138 114 139 134 140 153 141 168 142 177 143 181 144 178 145 171 146 159 147 145 148 128 149 109 150 91 151 74 152 58"/><path id="c253" d="M25 0L27 2 29 6 31 9 33 10 35 9 37 5 39 2 40 1M52 1L54 2 56 2 58 1 59 1M83 1L85 3 87 8 89 15 91 25 93 35 95 43 97 47 99 43 101 35 103 25 105 17 107 12 109 11 111 12 113 12 115 11 117 11 119 11 121 11 123 11 125 11 127 11 129 11 131 11 133 11 135 11 137 11 139 11 141 11 143 11 145 11 147 11 149 10 151 7 152 5"/><path id="c254" d="M18 1L20 2 22 3 24 4 26 4 28 3 30 1 31 1M86 1L88 4 90 8 92 14 94 19 96 22 98 20 100 16 102 10 104 5 106 2 108 2 110 6 112 15 114 21 116 22 118 22 120 22 122 22 124 22 126 22 128 22 130 22 132 22 134 22 136 22 138 22 140 22 142 22 144 22 146 20 148 13 150 6 152 1"/><path id="c255" d="M2 1L4 2 6 3 8 3 10 2 12 1M27 1L29 4 31 9 33 14 35 18 37 17 39 12 41 6 43 2 44 1M84 1L86 3 88 8 90 15 92 21 94 25 96 24 98 19 100 13 102 7 104 4 106 2 108 2 110 3 112 6 114 9 116 13 118 14 120 14 122 14 124 14 126 14 128 14 130 14 132 14 134 14 136 14 138 14 140 14 142 14 144 8 146 2 147 0"/><path id="c256" d="M73 1L74 2 75 4 76 6 77 9 78 13 79 16 80 20 81 24 82 27 83 29 84 29 85 28 86 26 87 22 88 19 89 15 90 11 91 8 92 5 93 3 94 1 95 0M102 1L103 3 104 7 105 15 106 28 107 50 108 84 109 134 110 202 111 290 112 395 113 512 114 630 115 738 116 821 117 869 118 876 119 855 120 812 121 750 122 674 123 590 124 505 125 425 126 357 127 306 128 274 129 257 130 247 131 235 132 213 133 183 134 148 135 111 136 78 137 50 138 30 139 16 140 8 141 3 142 1"/><path id="c257" d="M77 0L79 2 81 6 83 13 85 23 87 34 89 43 91 46 93 44 95 36 97 26 99 16 101 9 103 5 105 4 107 7 109 11 111 15 113 17 115 17 117 17 119 17 121 17 123 17 125 17 127 17 129 17 131 17 133 17 135 17 137 17 139 17 141 17 143 17 145 17 147 17 149 17 151 14 152 11"/><path id="c258" d="M62 1L63 3 64 7 65 9 66 9 67 7 68 4 69 4 70 6 71 9 72 15 73 22 74 32 75 45 76 63 77 85 78 112 79 145 80 184 81 228 82 277 83 329 84 382 85 435 86 485 87 529 88 565 89 591 90 604 91 603 92 567 93 500 94 412 95 318 96 229 97 155 98 98 99 57 100 32 101 16 102 9 103 6 104 6 105 10 106 17 107 28 108 46 109 71 110 105 111 149 112 203 113 264 114 330 115 395 116 452 117 497 118 523 119 528 120 518 121 495 122 462 123 419 124 372 125 321 126 270 127 222 128 177 129 138 130 105 131 78 132 57 133 41 134 31 135 26 136 26 137 34 138 48 139 71 140 101 141 138 142 177 143 213 144 242 145 258 146 260 147 255 148 244 149 229 150 211 151 190 152 167"/><path id="c259" d="M29 1L31 3 33 7 35 12 37 15 39 15 41 12 43 8 45 4 47 1 48 0M83 0L85 2 87 6 89 11 91 18 93 26 95 33 97 35 99 32 101 24 103 16 105 10 107 10 109 14 111 21 113 27 115 28 117 28 119 28 121 28 123 28 125 28 127 28 129 28 131 28 133 28 135 28 137 28 139 28 141 28 143 28 145 28 147 28 149 27 151 17 152 11"/><path id="c260" d="M21 1L23 2 25 3 27 2 29 2 31 1M81 1L83 2 85 5 87 8 89 11 91 13 93 14 95 13 97 9 99 5 101 2 102 1M108 1L110 3 112 8 114 13 116 18 118 19 120 19 122 19 124 19 126 19 128 19 130 19 132 19 134 19 136 19 138 19 140 19 142 19 144 16 146 10 148 4 150 1"/><path id="c261" d="M19 0L21 2 23 4 25 6 27 6 29 5 31 3 33 1M86 0L88 2 90 7 92 13 94 20 96 25 98 25 100 20 102 13 104 6 106 2 107 1M113 1L115 2 117 3 119 3 121 3 123 3 125 3 127 3 129 3 131 3 133 3 135 3 137 3 139 3 141 3 143 3 145 3 147 3 149 3 151 2 152 2"/><path id="c262" d="M24 1L26 2 28 3 30 4 32 4 34 3 36 2 38 1M86 1L88 3 90 7 92 12 94 16 96 18 98 16 100 11 102 6 104 3 106 2 108 4 110 8 112 12 114 16 116 18 118 18 120 18 122 18 124 18 126 18 128 18 130 18 132 18 134 18 136 18 138 18 140 18 142 18 144 18 146 18 148 18 150 11 152 4"/><path id="c263" d="M61 0L62 3 63 7 64 12 65 14 66 11 67 6 68 2 69 0M80 1L81 2 82 5 83 9 84 16 85 26 86 39 87 55 88 73 89 89 90 103 91 112 92 114 93 111 94 104 95 95 96 84 97 73 98 64 99 59 100 58 101 62 102 68 103 76 104 84 105 88 106 90 107 92 108 96 109 107 110 128 111 162 112 207 113 262 114 322 115 383 116 437 117 478 118 502 119 506 120 499 121 482 122 458 123 427 124 392 125 352 126 311 127 270 128 230 129 192 130 158 131 128 132 102 133 82 134 67 135 59 136 59 137 67 138 84 139 111 140 144 141 180 142 216 143 244 144 259 145 260 146 245 147 217 148 180 149 141 150 103 151 71 152 46"/><path id="c264" d="M22 1L24 4 26 9 28 15 30 18 32 17 34 12 36 6 38 2 39 0M80 0L82 2 84 5 86 9 88 14 90 18 92 20 94 20 96 16 98 11 100 6 102 2 104 1"/><path id="c265" d="M31 1L33 2 35 2 37 1 38 1M89 1L91 2 93 4 95 5 97 5 99 3 101 2 103 1M118 1L120 1 122 1 124 1 126 1 128 1 130 1 132 1 134 1 136 1 138 1 140 1 142 1 144 1 145 1"/><path id="c266" d="M23 1L25 2 27 5 29 8 31 10 33 11 35 10 37 8 39 5 41 2 43 0M65 1L67 2 69 2 71 2 73 1 74 1M82 0L84 3 86 7 88 14 90 23 92 30 94 32 96 28 98 19 100 11 102 5 104 2 106 2 108 4 110 7 112 9 114 10 116 10 118 10 120 10 122 10 124 10 126 10 128 10 130 10 132 10 134 10 136 10 138 10 140 10 142 10 144 10 146 10 148 8 150 5 152 2"/><path id="c267" d="M32 1L33 1 34 1 35 2 36 1 37 1 38 1 39 1M83 0L84 1 85 2 86 4 87 7 88 11 89 15 90 20 91 25 92 29 93 33 94 35 95 36 96 35 97 32 98 27 99 22 100 17 101 12 102 8 103 6 104 5 105 6 106 10 107 17 108 28 109 44 110 63 111 85 112 107 113 126 114 139 115 143 116 141 117 135 118 127 119 116 120 103 121 89 122 75 123 61 124 49 125 38 126 29 127 22 128 17 129 13 130 11 131 11 132 12 133 15 134 19 135 25 136 32 137 40 138 49 139 58 140 66 141 74 142 79 143 82 144 83 145 80 146 74 147 66 148 55 149 45 150 34 151 25 152 17"/><path id="c268" d="M22 1L23 2 24 3 25 4 26 5 27 6 28 7 29 9 30 10 31 10 32 11 33 11 34 11 35 10 36 9 37 8 38 7 39 5 40 4 41 3 42 2 43 1 44 1M81 1L82 1 83 2 84 4 85 6 86 8 87 10 88 12 89 14 90 16 91 17 92 17 93 17 94 15 95 13 96 11 97 8 98 6 99 4 100 3 101 3 102 4 103 7 104 12 105 19 106 29 107 41 108 56 109 73 110 89 111 105 112 117 113 124 114 125 115 121 116 113 117 102 118 88 119 74 120 59 121 46 122 35 123 26 124 20 125 17 126 18 127 22 128 30 129 42 130 57 131 76 132 97 133 119 134 139 135 155 136 166 137 168 138 158 139 138 140 114 141 92 142 73 143 58 144 46 145 36 146 28 147 20 148 14 149 10 150 6 151 3 152 2"/><path id="c269" d="M70 0L72 5 74 25 76 47 78 44 80 24 82 9 84 5 86 7 88 12 90 17 92 19 94 18 96 14 98 8 100 4 102 1 103 0"/><path id="c270" d="M27 0L29 2 31 5 33 9 35 12 37 15 39 15 41 12 43 8 45 5 47 2 48 1M85 1L87 3 89 8 91 15 93 22 95 29 97 31 99 28 101 22 103 14 105 8 107 5 109 7 111 15 113 22 115 24 117 24 119 24 121 24 123 24 125 24 127 24 129 24 131 24 133 24 135 24 137 24 139 24 141 24 143 24 145 24 147 24 149 24 151 19 152 15"/><path id="c271" d="M25 1L27 2 29 2 31 1 32 0M84 1L86 2 88 5 90 9 92 12 94 14 96 15 98 13 100 9 102 5 104 2 106 1 108 3 110 9 112 17 114 24 116 24 118 24 120 24 122 24 124 24 126 24 128 24 130 24 132 24 134 24 136 24 138 24 140 24 142 24 144 24 146 24 148 24 150 19 152 9"/><path id="c272" d="M21 0L23 3 25 7 27 13 29 18 31 17 33 13 35 7 37 2 38 1M78 0L80 2 82 7 84 14 86 24 88 34 90 39 92 38 94 29 96 18 98 8 100 3 102 2 104 3 106 6 108 11 110 17 112 21 114 23 116 23 118 23 120 23 122 23 124 23 126 23 128 23 130 23 132 23 134 23 136 23 138 23 140 23 142 23 144 23 146 23 148 16 150 6 152 1"/><path id="c273" d="M39 1L41 1 43 1 45 1M52 0L54 2 56 3 58 2 60 1M82 1L84 2 86 5 88 9 90 13 92 16 94 18 96 18 98 14 100 9 102 5 104 2 105 1M109 0L111 3 113 8 115 14 117 20 119 21 121 21 123 21 125 21 127 21 129 21 131 21 133 21 135 21 137 21 139 21 141 21 143 21 145 21 147 21 149 20 151 15 152 11"/><path id="c274" d="M33 1L35 1 37 2 39 2 41 1 42 1M83 0L85 3 87 6 89 12 91 18 93 23 95 25 97 23 99 17 101 11 103 7 105 4 107 4 109 6 111 11 113 16 115 21 117 22 119 22 121 22 123 22 125 22 127 22 129 22 131 22 133 22 135 22 137 22 139 22 141 22 143 22 145 22 147 22 149 22 151 20 152 17"/><path id="c275" d="M2 1L4 2 6 3 8 3 10 1 11 1M18 1L20 4 22 10 24 17 26 21 28 18 30 11 32 4 34 1M86 0L88 3 90 7 92 12 94 18 96 22 98 22 100 18 102 13 104 9 106 7 108 8 110 11 112 13 114 14 116 14 118 14 120 14 122 14 124 14 126 14 128 14 130 14 132 14 134 14 136 14 138 14 140 14 142 14 144 14 146 14 148 14 150 13 152 9"/><path id="c276" d="M26 0L28 4 30 12 32 24 34 29 36 21 38 9 40 2 41 0M80 0L82 3 84 9 86 17 88 25 90 29 92 27 94 20 96 11 98 5 100 1 101 0M110 0L112 2 114 6 116 8 118 8 120 8 122 8 124 8 126 8 128 8 130 8 132 8 134 8 136 8 138 8 140 8 142 8 144 8 146 6 148 3 150 0"/><path id="c277" d="M28 0L30 3 32 8 34 13 36 15 38 12 40 6 42 2 43 1M88 1L90 4 92 12 94 23 96 34 98 39 100 35 102 24 104 13 106 6 108 4 110 7 112 12 114 18 116 19 118 15 120 8 122 3 124 0M128 1L130 3 132 6 134 10 136 14 138 16 140 16 142 13 144 10 146 6 148 3 150 1"/><path id="c278" d="M0 4L2 4 4 2 6 0M18 1L20 3 22 6 24 7 26 6 28 4 30 2 31 1M83 1L85 2 87 4 89 6 91 9 93 11 95 12 97 12 99 9 101 7 103 4 105 2 106 1M113 1L115 2 117 2 119 2 121 2 123 2 125 2 127 2 129 2 131 2 133 2 135 2 137 2 139 2 141 2 143 2 145 2 147 2 149 2 151 2 152 2"/><path id="c279" d="M33 1L35 3 37 7 39 11 41 13 43 12 45 8 47 5 49 2 50 1M60 1L62 2 64 3 66 2 67 1M79 1L81 2 83 4 85 7 87 9 89 11 91 12 93 11 95 7 97 4 99 1 100 0M109 1L111 2 113 3 115 4 117 4 119 4 121 4 123 4 125 4 127 4 129 4 131 4 133 4 135 4 137 4 139 4 141 4 143 4 145 4 147 4 149 4 151 2 152 1"/><path id="c280" d="M20 1L22 4 24 10 26 14 28 13 30 8 32 2 33 1M86 1L88 3 90 8 92 14 94 19 96 22 98 21 100 17 102 11 104 6 106 3 108 1 109 1M110 1L112 2 114 3 116 4 118 4 120 4 122 4 124 4 126 4 128 4 130 4 132 4 134 4 136 4 138 4 140 4 142 4 144 4 146 3 148 2 149 1"/><path id="c281" d="M8 1L9 2 10 3 11 4 12 5 13 5 14 4 15 3 16 2 17 1M30 1L31 2 32 3 33 3 34 4 35 5 36 5 37 5 38 5 39 4 40 3 41 2 42 2 43 1M79 1L80 2 81 5 82 9 83 14 84 22 85 33 86 46 87 61 88 79 89 96 90 113 91 127 92 136 93 140 94 138 95 129 96 115 97 98 98 80 99 62 100 46 101 34 102 26 103 22 104 23 105 29 106 40 107 55 108 75 109 98 110 122 111 145 112 165 113 178 114 183 115 181 116 174 117 164 118 150 119 134 120 117 121 99 122 82 123 66 124 52 125 40 126 31 127 24 128 19 129 17 130 18 131 21 132 26 133 34 134 44 135 55 136 67 137 79 138 89 139 97 140 102 141 103 142 98 143 89 144 75 145 60 146 45 147 31 148 20 149 12 150 7 151 3 152 1"/><path id="c282" d="M30 1L32 3 34 7 36 11 38 15 40 15 42 13 44 9 46 5 48 2 49 1M82 0L84 3 86 8 88 15 90 23 92 29 94 29 96 24 98 17 100 10 102 5 104 3 106 3 108 3 110 5 112 5 114 5 116 5 118 5 120 5 122 5 124 5 126 5 128 5 130 5 132 5 134 5 136 5 138 5 140 5 142 5 144 5 146 5 148 5 150 4 152 2"/><path id="c283" d="M23 1L25 2 27 3 29 3 31 3 33 2 35 1M83 1L85 2 87 5 89 9 91 13 93 18 95 21 97 22 99 20 101 15 103 10 105 5 107 2 108 1M109 1L111 3 113 11 115 21 117 27 119 27 121 27 123 27 125 27 127 27 129 27 131 27 133 27 135 27 137 27 139 27 141 27 143 25 145 17 147 8 149 2 150 1"/><path id="c284" d="M35 1L37 3 39 7 41 8 43 8 45 5 47 2 48 1M83 1L85 3 87 5 89 8 91 11 93 13 95 13 97 11 99 8 101 5 103 2 105 1M107 1L109 2 111 4 113 6 115 8 117 9 119 9 121 9 123 9 125 9 127 9 129 9 131 9 133 9 135 9 137 9 139 9 141 9 143 9 145 6 147 4 149 1 150 0"/><path id="c285" d="M26 1L28 3 30 5 32 7 34 6 36 3 38 1M83 1L85 3 87 7 89 13 91 19 93 23 95 23 97 20 99 15 101 9 103 5 105 2 107 2 109 6 111 13 113 18 115 19 117 19 119 19 121 19 123 19 125 19 127 19 129 19 131 19 133 19 135 19 137 19 139 19 141 19 143 16 145 9 147 3 148 1"/><path id="c286" d="M35 1L37 4 39 8 41 12 43 12 45 9 47 5 49 1 50 0M81 1L83 4 85 10 87 19 89 28 91 33 93 32 95 24 97 14 99 7 101 2 102 1"/><path id="c287" d="M0 2L2 5 4 7 6 6 8 2 10 0M82 0L84 3 86 8 88 15 90 23 92 29 94 30 96 26 98 19 100 12 102 8 104 8 106 12 108 21 110 32 112 43 114 49 116 47 118 40 120 29 122 18 124 10 126 4 128 1 129 1M133 1L135 3 137 7 139 12 141 16 143 19 145 19 147 16 149 11 151 6 152 4"/><path id="c288" d="M6 1L8 2 10 3 12 3 14 3 16 2 18 1M25 1L27 2 29 4 31 6 33 7 35 7 37 5 39 3 41 1 42 1M55 1L57 1 59 1 61 1M81 0L83 2 85 5 87 9 89 14 91 18 93 19 95 18 97 14 99 10 101 6 103 4 105 5 107 8 109 14 111 21 113 26 115 27 117 27 119 27 121 27 123 27 125 27 127 27 129 27 131 27 133 27 135 27 137 27 139 27 141 27 143 27 145 27 147 26 149 16 151 5 152 2"/><path id="c289" d="M23 1L25 2 27 3 29 4 31 4 33 3 35 2 37 1M84 0L86 3 88 9 90 19 92 31 94 39 96 38 98 32 100 22 102 13 104 8 106 7 108 10 110 15 112 17 114 17 116 17 118 17 120 17 122 17 124 17 126 17 128 17 130 17 132 17 134 17 136 17 138 17 140 17 142 17 144 14 146 7 148 2 149 0"/><path id="c290" d="M27 1L29 3 31 5 33 8 35 10 37 10 39 8 41 6 43 3 45 1 46 0M82 0L84 2 86 6 88 11 90 18 92 26 94 33 96 38 98 38 100 32 102 21 104 11 106 5 108 5 110 10 112 15 114 19 116 19 118 19 120 19 122 19 124 19 126 19 128 19 130 19 132 19 134 19 136 19 138 19 140 19 142 18 144 12 146 5 148 1"/><path id="c291" d="M30 0L32 2 34 5 36 5 38 3 40 1M88 1L90 4 92 9 94 16 96 23 98 25 100 23 102 16 104 9 106 4 108 1M113 1L115 2 117 3 119 3 121 3 123 3 125 3 127 3 129 3 131 3 133 3 135 3 137 3 139 3 141 3 143 2 145 2 146 1"/><path id="c292" d="M16 1L18 2 20 2 22 1M31 1L33 5 35 13 37 23 39 27 41 21 43 12 45 4 47 0M83 0L85 2 87 5 89 9 91 13 93 18 95 22 97 23 99 22 101 17 103 12 105 7 107 4 109 2 111 2 113 2 115 3 117 4 119 4 121 4 123 4 125 4 127 4 129 4 131 4 133 4 135 4 137 4 139 4 141 4 143 4 145 4 147 3 149 2 150 1"/><path id="c293" d="M5 1L7 3 9 6 11 9 13 8 15 6 17 3 19 0M80 0L82 3 84 7 86 15 88 26 90 40 92 53 94 60 96 59 98 43 100 23 102 8 104 2 105 0M114 0L116 3 118 8 120 17 122 26 124 32 126 33 128 33 130 33 132 35 134 36 136 33 138 28 140 23 142 18 144 13 146 8 148 3 150 1"/><path id="c294" d="M35 1L37 2 39 4 41 4 43 3 45 1 46 1M80 0L82 2 84 4 86 8 88 12 90 15 92 17 94 16 96 12 98 7 100 3 102 1M106 1L108 4 110 9 112 14 114 16 116 16 118 16 120 16 122 16 124 16 126 16 128 16 130 16 132 16 134 16 136 16 138 16 140 16 142 16 144 16 146 16 148 11 150 4 152 0"/><path id="c295" d="M23 0L25 3 27 9 29 15 31 16 33 11 35 5 37 1 38 0M82 0L84 3 86 9 88 23 90 48 92 85 94 125 96 158 98 170 100 151 102 111 104 72 106 49 108 43 110 46 112 49 114 46 116 35 118 23 120 12 122 5 124 1 125 0M132 1L134 2 136 5 138 7 140 10 142 13 144 14 146 13 148 11 150 7 152 4"/><path id="c296" d="M30 1L32 3 34 4 36 3 38 2 39 1M81 1L83 4 85 9 87 17 89 26 91 31 93 32 95 27 97 19 99 10 101 5 103 1 104 0M110 0L112 4 114 11 116 19 118 23 120 23 122 23 124 23 126 23 128 23 130 23 132 23 134 23 136 23 138 23 140 23 142 23 144 23 146 23 148 23 150 20 152 9"/><path id="c297" d="M28 1L30 2 32 2 34 2 36 1 37 1M80 1L82 2 84 4 86 6 88 8 90 9 92 9 94 7 96 4 98 2 99 1M106 0L108 2 110 3 112 4 114 4 116 4 118 4 120 4 122 4 124 4 126 4 128 4 130 4 132 4 134 4 136 4 138 4 140 4 142 4 144 4 146 4 148 4 150 3 152 1"/><path id="c298" d="M33 1L35 2 37 4 39 5 41 5 43 3 45 1 46 0M68 1L70 1 72 1 74 1M81 0L83 2 85 4 87 8 89 12 91 17 93 22 95 24 97 24 99 20 101 13 103 7 105 2 107 1M107 1L109 2 111 8 113 17 115 25 117 26 119 26 121 26 123 26 125 26 127 26 129 26 131 26 133 26 135 26 137 26 139 26 141 26 143 26 145 20 147 11 149 4 151 1"/><path id="c299" d="M4 1L5 2 6 3 7 4 8 4 9 4 10 2 11 1M26 1L27 1 28 2 29 2 30 3 31 3 32 3 33 3 34 3 35 2 36 2 37 1 38 0M83 1L84 2 85 4 86 7 87 11 88 17 89 24 90 33 91 43 92 53 93 64 94 74 95 82 96 88 97 90 98 89 99 84 100 76 101 68 102 60 103 54 104 52 105 56 106 65 107 81 108 101 109 126 110 151 111 176 112 196 113 209 114 214 115 211 116 202 117 188 118 171 119 151 120 129 121 108 122 87 123 69 124 53 125 39 126 28 127 20 128 14 129 9 130 7 131 6 132 7 133 11 134 17 135 25 136 37 137 51 138 66 139 81 140 93 141 102 142 105 143 103 144 98 145 90 146 80 147 69 148 57 149 46 150 35 151 26 152 19"/><path id="c300" d="M33 1L35 3 37 5 39 5 41 4 43 2 44 1M81 1L83 2 85 5 87 9 89 14 91 18 93 22 95 22 97 21 99 16 101 11 103 7 105 4 107 3 109 6 111 11 113 17 115 20 117 20 119 20 121 20 123 20 125 20 127 20 129 20 131 20 133 20 135 20 137 20 139 20 141 20 143 20 145 20 147 17 149 11 151 5 152 3"/><path id="c301" d="M30 1L32 4 34 9 36 13 38 14 40 10 42 5 44 1 45 0M86 1L88 3 90 8 92 14 94 18 96 20 98 17 100 12 102 6 104 2 105 1M110 0L112 3 114 11 116 20 118 24 120 24 122 24 124 24 126 24 128 24 130 24 132 24 134 24 136 24 138 24 140 24 142 24 144 24 146 24 148 24 150 18 152 9"/><path id="c302" d="M30 0L32 2 34 5 36 8 38 9 40 8 42 5 44 2 46 0M79 1L81 3 83 5 85 9 87 14 89 18 91 22 93 23 95 20 97 14 99 8 101 3 103 1M112 1L114 4 116 8 118 12 120 12 122 12 124 12 126 12 128 12 130 12 132 12 134 12 136 12 138 12 140 12 142 12 144 12 146 12 148 12 150 7 152 1"/><path id="c303" d="M38 1L40 2 42 2 44 1 45 1M53 1L55 2 57 2 59 2 61 1M77 1L79 3 81 5 83 9 85 12 87 16 89 18 91 19 93 16 95 10 97 5 99 1 100 0M106 0L108 2 110 5 112 9 114 13 116 15 118 15 120 15 122 15 124 15 126 15 128 15 130 15 132 15 134 15 136 15 138 15 140 15 142 15 144 15 146 15 148 15 150 10 152 4"/><path id="c304" d="M28 1L30 3 32 7 34 12 36 14 38 14 40 10 42 6 44 2 46 0M86 0L88 2 90 5 92 9 94 12 96 13 98 12 100 8 102 4 104 2 106 2 108 5 110 9 112 11 114 12 116 12 118 12 120 12 122 12 124 12 126 12 128 12 130 12 132 12 134 12 136 12 138 12 140 12 142 12 144 12 146 12 148 6 150 1 151 0"/><path id="c305" d="M27 1L28 2 29 3 30 4 31 5 32 6 33 7 34 8 35 8 36 9 37 8 38 8 39 7 40 6 41 5 42 4 43 3 44 2 45 1M79 1L80 1 81 3 82 4 83 6 84 9 85 12 86 16 87 19 88 23 89 27 90 30 91 32 92 34 93 34 94 32 95 28 96 23 97 18 98 13 99 9 100 5 101 3 102 2 103 1 104 2 105 4 106 7 107 12 108 20 109 31 110 43 111 57 112 71 113 83 114 90 115 92 116 90 117 86 118 80 119 72 120 63 121 53 122 45 123 37 124 33 125 31 126 35 127 44 128 59 129 78 130 99 131 119 132 134 133 141 134 142 135 136 136 126 137 113 138 98 139 84 140 71 141 60 142 51 143 42 144 34 145 27 146 21 147 16 148 12 149 8 150 5 151 3 152 2"/><path id="c306" d="M19 1L21 2 23 3 25 4 27 3 29 2 31 1M58 1L60 1 61 1M84 0L86 2 88 5 90 9 92 13 94 16 96 17 98 16 100 12 102 8 104 4 106 1 107 0M112 1L114 2 116 3 118 4 120 4 122 4 124 4 126 4 128 4 130 4 132 4 134 4 136 4 138 4 140 4 142 4 144 4 146 4 148 4 150 3 152 1"/><path id="c307" d="M33 0L35 3 37 7 39 12 41 17 43 18 45 15 47 10 49 5 51 1 52 0M78 0L80 2 82 5 84 9 86 14 88 20 90 26 92 29 94 30 96 26 98 21 100 14 102 8 104 4 106 1 107 1M110 0L112 2 114 5 116 8 118 10 120 11 122 11 124 11 126 11 128 11 130 11 132 11 134 11 136 11 138 11 140 11 142 11 144 11 146 11 148 11 150 11 152 7"/><path id="c308" d="M32 0L34 3 36 6 38 8 40 7 42 4 44 1 45 0M86 1L88 2 90 4 92 7 94 9 96 10 98 11 100 9 102 6 104 4 106 2 108 3 110 4 112 5 114 5 116 5 118 5 120 5 122 5 124 5 126 5 128 5 130 5 132 5 134 5 136 5 138 5 140 5 142 5 144 5 146 5 148 3 150 1 151 0"/><path id="c309" d="M34 0L36 2 38 3 40 4 42 3 44 2 45 1M83 0L85 3 87 9 89 23 91 44 93 71 95 97 97 111 99 108 101 89 103 63 105 37 107 19 109 8 111 3 113 2 115 4 117 9 119 15 121 21 123 26 125 27 127 22 129 16 131 15 133 21 135 31 137 42 139 51 141 56 143 52 145 41 147 27 149 15 151 7 152 4"/><path id="c310" d="M31 1L33 3 35 7 37 12 39 16 41 18 43 17 45 13 47 8 49 4 51 1 52 1M85 1L87 2 89 5 91 9 93 13 95 17 97 18 99 17 101 13 103 9 105 4 107 2 109 1M110 1L112 1 114 2 116 3 118 3 120 3 122 3 124 3 126 3 128 3 130 3 132 3 134 3 136 3 138 3 140 3 142 3 144 3 146 3 148 3 150 3 152 1"/><path id="c311" d="M28 1L30 2 32 4 34 5 36 4 38 2 40 0M80 0L82 3 84 8 86 18 88 35 90 59 92 85 94 108 96 119 98 112 100 81 102 45 104 20 106 8 108 6 110 8 112 12 114 15 116 17 118 17 120 15 122 11 124 8 126 8 128 10 130 9 132 6 134 4 136 4 138 6 140 9 142 12 144 15 146 17 148 18 150 15 152 11"/><path id="c312" d="M35 1L37 2 39 3 41 2 43 1M82 1L84 2 86 6 88 10 90 15 92 18 94 20 96 18 98 12 100 6 102 2 103 1M106 1L108 3 110 7 112 12 114 13 116 13 118 13 120 13 122 13 124 13 126 13 128 13 130 13 132 13 134 13 136 13 138 13 140 13 142 13 144 13 146 13 148 13 150 10 152 5"/><path id="c313" d="M19 1L21 3 23 6 25 9 27 11 29 10 31 8 33 4 35 2 36 1M81 0L83 2 85 6 87 11 89 19 91 27 93 33 95 35 97 32 99 23 101 13 103 6 105 2 107 1 109 2 111 3 113 4 115 4 117 4 119 4 121 4 123 4 125 4 127 4 129 4 131 4 133 4 135 4 137 4 139 4 141 4 143 4 145 4 147 4 149 4 151 3 152 2"/><path id="c314" d="M23 1L25 4 27 8 29 9 31 7 33 3 35 0M87 0L89 2 91 5 93 8 95 10 97 9 99 7 101 4 103 1 104 1M106 1L108 2 110 3 112 4 114 5 116 5 118 5 120 5 122 5 124 5 126 5 128 5 130 5 132 5 134 5 136 5 138 5 140 5 142 5 144 5 146 3 148 1"/><path id="c315" d="M25 0L27 2 29 5 31 8 33 11 35 13 37 14 39 12 41 8 43 5 45 3 47 2 49 1 51 1 53 1 54 1M82 1L84 2 86 5 88 9 90 13 92 18 94 21 96 23 98 21 100 16 102 11 104 5 106 2 108 1 110 3 112 7 114 10 116 10 118 10 120 10 122 10 124 10 126 10 128 10 130 10 132 10 134 10 136 10 138 10 140 10 142 10 144 10 146 10 148 8 150 3 152 1"/><path id="c316" d="M13 0L15 2 17 2 19 1 20 0M80 0L82 3 84 13 86 34 88 65 90 97 92 112 94 104 96 82 98 55 100 31 102 15 104 6 106 2 108 1 110 4 112 8 114 16 116 25 118 34 120 38 122 37 124 34 126 31 128 31 130 33 132 34 134 31 136 24 138 20 140 21 142 27 144 33 146 35 148 31 150 22 152 13"/><path id="c317" d="M6 0L8 4 10 7 12 6 14 2 15 0M21 1L23 4 25 8 27 12 29 15 31 16 33 13 35 8 37 4 39 1 40 0M89 0L91 3 93 7 95 13 97 18 99 20 101 18 103 14 105 9 107 5 109 2 111 3 113 8 115 20 117 37 119 53 121 60 123 63 125 65 127 66 129 62 131 50 133 35 135 27 137 24 139 22 141 18 143 12 145 7 147 3 149 1"/><path id="c318" d="M28 0L30 4 32 12 34 21 36 25 38 19 40 10 42 3 44 0M83 0L85 3 87 8 89 16 91 27 93 36 95 40 97 37 99 27 101 16 103 8 105 4 107 5 109 11 111 19 113 24 115 24 117 24 119 24 121 24 123 24 125 24 127 24 129 24 131 24 133 24 135 24 137 24 139 24 141 24 143 19 145 8 147 1 148 0"/><path id="c319" d="M5 0L6 2 7 4 8 6 9 7 10 7 11 6 12 4 13 2 14 0M28 0L29 1 30 2 31 3 32 5 33 7 34 9 35 11 36 14 37 16 38 18 39 19 40 20 41 20 42 19 43 17 44 16 45 13 46 11 47 9 48 6 49 5 50 3 51 2 52 1M80 1L81 2 82 3 83 4 84 6 85 8 86 10 87 12 88 14 89 16 90 17 91 17 92 16 93 15 94 13 95 11 96 9 97 7 98 5 99 4 100 2 101 1 102 1M109 0L110 1 111 4 112 9 113 16 114 28 115 46 116 68 117 95 118 123 119 150 120 171 121 182 122 183 123 177 124 166 125 152 126 138 127 127 128 122 129 124 130 132 131 146 132 164 133 183 134 201 135 214 136 219 137 217 138 210 139 200 140 189 141 176 142 163 143 150 144 135 145 121 146 108 147 98 148 91 149 89 150 91 151 98 152 107"/><path id="c320" d="M33 1L35 4 37 8 39 10 41 8 43 4 45 1M78 1L80 2 82 4 84 7 86 11 88 14 90 16 92 16 94 14 96 11 98 7 100 4 102 2 103 1M111 1L113 4 115 9 117 14 119 15 121 15 123 15 125 15 127 15 129 15 131 15 133 15 135 15 137 15 139 15 141 15 143 15 145 15 147 15 149 15 151 14 152 13"/><path id="c321" d="M22 1L24 2 26 3 28 4 30 3 32 2 33 1M79 1L81 2 83 5 85 8 87 12 89 14 91 15 93 13 95 9 97 5 99 1 100 1M105 0L107 2 109 6 111 11 113 15 115 18 117 18 119 18 121 18 123 18 125 18 127 18 129 18 131 18 133 18 135 18 137 18 139 18 141 18 143 18 145 18 147 18 149 13 151 5 152 2"/><path id="c322" d="M28 0L30 3 32 8 34 16 36 23 38 25 40 21 42 14 44 6 46 2 47 1M85 1L87 2 89 4 91 6 93 9 95 11 97 11 99 10 101 7 103 4 105 2 107 1M108 1L110 3 112 8 114 11 116 11 118 11 120 11 122 11 124 11 126 11 128 11 130 11 132 11 134 11 136 11 138 11 140 11 142 11 144 9 146 3 148 0"/><path id="c323" d="M79 0L81 2 83 6 85 12 87 20 89 29 91 36 93 39 95 36 97 29 99 20 101 11 103 6 105 3 107 2 109 3 111 6 113 9 115 12 117 13 119 11 121 7 123 4 125 3 127 4 129 8 131 11 133 13 135 12 137 8 139 6 141 8 143 13 145 20 147 25 149 26 151 21 152 17"/><path id="c324" d="M18 1L20 3 22 6 24 9 26 12 28 13 30 12 32 10 34 6 36 3 38 1 39 0M68 1L70 1 72 1 74 1M85 1L87 3 89 8 91 14 93 22 95 30 97 34 99 34 101 30 103 23 105 16 107 12 109 13 111 18 113 23 115 27 117 27 119 27 121 27 123 27 125 27 127 27 129 27 131 27 133 27 135 27 137 27 139 27 141 27 143 25 145 18 147 9 149 3 151 0"/><path id="c325" d="M21 1L23 5 25 10 27 14 29 12 31 7 33 2 34 1M82 1L84 3 86 8 88 16 90 23 92 28 94 27 96 21 98 13 100 6 102 2 104 0M109 1L111 3 113 6 115 9 117 12 119 13 121 13 123 13 125 13 127 13 129 13 131 13 133 13 135 13 137 13 139 13 141 13 143 13 145 13 147 13 149 13 151 9 152 7"/><path id="c326" d="M27 0L29 2 31 5 33 7 35 7 37 4 39 2 40 1M73 1L75 1 77 1 78 1M84 1L86 2 88 4 90 7 92 10 94 12 96 14 98 13 100 10 102 6 104 3 106 1 107 1M108 1L110 3 112 6 114 11 116 13 118 13 120 13 122 13 124 13 126 13 128 13 130 13 132 13 134 13 136 13 138 13 140 13 142 13 144 13 146 13 148 12 150 9 152 5"/><path id="c327" d="M18 0L20 2 22 5 24 8 26 9 28 7 30 4 32 1M85 0L87 3 89 8 91 15 93 21 95 23 97 19 99 12 101 6 103 2 105 1 107 2 109 4 111 8 113 11 115 12 117 12 119 12 121 12 123 12 125 12 127 12 129 12 131 12 133 12 135 12 137 12 139 12 141 12 143 12 145 9 147 4 149 0"/><path id="c328" d="M16 0L18 2 20 6 22 11 24 17 26 22 28 25 30 23 32 19 34 13 36 7 38 3 40 1M82 1L84 3 86 6 88 11 90 16 92 19 94 19 96 15 98 9 100 4 102 2 104 1 106 3 108 6 110 9 112 12 114 13 116 13 118 13 120 13 122 13 124 13 126 13 128 13 130 13 132 13 134 13 136 13 138 13 140 13 142 13 144 13 146 13 148 13 150 12 152 9"/><path id="c329" d="M89 0L91 3 93 7 95 13 97 19 99 22 101 19 103 13 105 9 107 8 109 9 111 11 113 12 115 10 117 8 119 4 121 2 123 0M134 1L136 2 138 5 140 8 142 11 144 13 146 14 148 13 150 10 152 6"/><path id="c330" d="M20 0L22 2 24 4 26 5 28 5 30 4 32 2 34 1M76 1L78 3 80 6 82 12 84 19 86 27 88 35 90 39 92 39 94 34 96 26 98 18 100 11 102 5 104 2 105 1M112 1L114 2 116 4 118 4 120 5 122 5 124 5 126 5 128 5 130 5 132 5 134 5 136 5 138 5 140 5 142 5 144 5 146 4 148 2 150 0"/><path id="c331" d="M31 1L32 1 33 2 34 3 35 4 36 4 37 4 38 4 39 4 40 3 41 3 42 2 43 1 44 0M80 0L81 1 82 3 83 5 84 7 85 11 86 15 87 21 88 27 89 34 90 42 91 50 92 57 93 64 94 68 95 71 96 72 97 69 98 62 99 53 100 43 101 32 102 24 103 17 104 13 105 12 106 15 107 21 108 32 109 47 110 67 111 91 112 119 113 148 114 175 115 199 116 215 117 224 118 223 119 213 120 197 121 179 122 162 123 150 124 143 125 142 126 145 127 148 128 149 129 145 130 130 131 107 132 80 133 56 134 38 135 28 136 26 137 31 138 41 139 55 140 73 141 94 142 116 143 137 144 157 145 173 146 183 147 186 148 182 149 170 150 153 151 131 152 108"/><path id="c332" d="M29 1L31 3 33 5 35 7 37 7 39 5 41 3 43 1M83 1L85 3 87 8 89 15 91 23 93 30 95 33 97 32 99 27 101 20 103 13 105 7 107 3 109 1 110 1M114 1L116 1 118 1 120 1 122 1 124 1 126 1 128 1 130 1 132 1 134 1 136 1 138 1 140 1 142 1 144 1"/><path id="c333" d="M25 1L27 1 28 1M86 0L88 2 90 6 92 11 94 17 96 21 98 21 100 19 102 15 104 10 106 5 108 3 110 2 112 2 114 2 116 2 118 2 120 2 122 2 124 2 126 2 128 2 130 2 132 2 134 2 136 2 138 2 140 2 142 2 144 2 146 2 148 2 150 1 151 1"/><path id="c334" d="M3 0L4 2 5 4 6 6 7 8 8 9 9 9 10 8 11 6 12 4 13 2 14 1M24 1L25 1 26 3 27 4 28 6 29 8 30 10 31 13 32 16 33 19 34 21 35 23 36 24 37 24 38 23 39 22 40 20 41 17 42 14 43 12 44 9 45 7 46 5 47 3 48 2 49 1M80 0L81 1 82 3 83 6 84 9 85 14 86 19 87 24 88 29 89 33 90 35 91 36 92 33 93 29 94 24 95 18 96 13 97 8 98 5 99 4 100 3 101 4 102 6 103 11 104 17 105 27 106 40 107 57 108 76 109 98 110 121 111 142 112 160 113 172 114 178 115 176 116 170 117 159 118 146 119 129 120 112 121 94 122 77 123 61 124 48 125 37 126 31 127 29 128 33 129 43 130 60 131 81 132 101 133 115 134 119 135 116 136 108 137 98 138 86 139 75 140 67 141 61 142 60 143 61 144 65 145 69 146 74 147 78 148 80 149 80 150 77 151 71 152 63"/><path id="c335" d="M22 1L24 6 26 15 28 23 30 23 32 14 34 5 36 0M80 1L82 2 84 5 86 9 88 13 90 17 92 18 94 17 96 14 98 10 100 6 102 4 104 3 106 5 108 9 110 15 112 19 114 21 116 21 118 21 120 21 122 21 124 21 126 21 128 21 130 21 132 21 134 21 136 21 138 21 140 21 142 21 144 21 146 21 148 19 150 12 152 5"/><path id="c336" d="M4 1L6 1 8 1M33 0L35 4 37 10 39 18 41 22 43 19 45 11 47 4 49 0M80 1L82 3 84 6 86 11 88 16 90 20 92 22 94 21 96 16 98 9 100 4 102 1M110 1L112 3 114 5 116 6 118 6 120 6 122 6 124 6 126 6 128 6 130 6 132 6 134 6 136 6 138 6 140 6 142 6 144 6 146 5 148 3 150 0"/><path id="c337" d="M25 1L27 3 29 7 31 13 33 20 35 24 37 24 39 20 41 14 43 8 45 3 47 1M77 0L79 2 81 5 83 11 85 18 87 26 89 32 91 36 93 34 95 26 97 16 99 8 101 3 103 0M109 1L111 2 113 3 115 4 117 4 119 4 121 4 123 4 125 4 127 4 129 4 131 4 133 4 135 4 137 4 139 4 141 4 143 4 145 3 147 3 149 1 150 1"/><path id="c338" d="M34 1L36 3 38 9 40 15 42 18 44 15 46 10 48 4 50 1M80 1L82 3 84 7 86 12 88 17 90 21 92 22 94 20 96 16 98 11 100 6 102 3 104 1M107 1L109 3 111 7 113 10 115 11 117 11 119 11 121 11 123 11 125 11 127 11 129 11 131 11 133 11 135 11 137 11 139 11 141 11 143 11 145 11 147 11 149 11 151 8 152 6"/><path id="c339" d="M27 1L29 4 31 9 33 17 35 24 37 26 39 23 41 16 43 9 45 3 47 1M80 1L82 2 84 5 86 9 88 13 90 17 92 20 94 21 96 19 98 14 100 8 102 3 104 1M114 1L116 1 118 1 120 1 122 1 124 1 126 1 128 1 130 1 132 1 134 1 136 1 138 1 140 1 142 1"/><path id="c340" d="M22 1L24 2 26 5 28 7 30 9 32 10 34 9 36 7 38 4 40 2 42 0M64 1L66 1 68 1 69 1M77 1L79 3 81 6 83 12 85 18 87 24 89 28 91 30 93 27 95 19 97 12 99 6 101 2 103 1 105 2 107 4 109 7 111 10 113 12 115 12 117 12 119 12 121 12 123 12 125 12 127 12 129 12 131 12 133 12 135 12 137 12 139 12 141 12 143 12 145 12 147 12 149 11 151 8 152 6"/><path id="c341" d="M28 1L30 1 32 1M77 1L79 2 81 6 83 11 85 17 87 24 89 29 91 32 93 30 95 23 97 14 99 7 101 3 103 1 105 2 107 4 109 7 111 9 113 11 115 11 117 11 119 11 121 11 123 11 125 11 127 11 129 11 131 11 133 11 135 11 137 11 139 11 141 11 143 11 145 11 147 9 149 4 151 0"/><path id="c342" d="M22 0L24 2 26 6 28 11 30 15 32 16 34 13 36 8 38 4 40 1M78 0L80 3 82 12 84 30 86 57 88 85 90 100 92 92 94 65 96 36 98 15 100 7 102 7 104 13 106 24 108 38 110 51 112 59 114 59 116 50 118 36 120 22 122 12 124 7 126 8 128 15 130 26 132 34 134 35 136 31 138 26 140 22 142 19 144 14 146 10 148 5 150 2 152 0"/><path id="c343" d="M4 1L6 2 8 2 10 1M22 1L24 4 26 9 28 16 30 21 32 22 34 19 36 12 38 6 40 2 41 1M82 0L84 2 86 4 88 8 90 12 92 16 94 19 96 21 98 19 100 14 102 8 104 4 106 2 108 2 110 3 112 3 114 3 116 3 118 3 120 3 122 3 124 3 126 3 128 3 130 3 132 3 134 3 136 3 138 3 140 3 142 3 144 3 146 3 148 2 150 1 151 0"/><path id="c344" d="M36 0L38 2 40 2 42 2 44 1 45 1M81 0L83 2 85 6 87 12 89 17 91 20 93 20 95 15 97 9 99 4 101 1 102 0M107 0L109 4 111 13 113 25 115 31 117 31 119 31 121 31 123 31 125 31 127 31 129 31 131 31 133 31 135 31 137 31 139 31 141 31 143 31 145 31 147 31 149 31 151 29 152 24"/></g></defs>
<path d="M53.5 454.1H319.3" stroke="#0000FF" stroke-width="1.0"/>
<g fill="none" stroke-width="0.7" transform="translate(407.5,187.9) scale(1.7487,-0.1494)" style="vector-effect:non-scaling-stroke"><use href="#c0" stroke="#000000"/><use href="#c1" stroke="#DF536B"/><use href="#c2" stroke="#61D04F"/><use href="#c3" stroke="#2297E6"/><use href="#c4" stroke="#28E2E5"/><use href="#c5" stroke="#CD0BBC"/><use href="#c6" stroke="#000000"/><use href="#c7" stroke="#DF536B"/><use href="#c8" stroke="#61D04F"/><use href="#c9" stroke="#2297E6"/><use href="#c10" stroke="#28E2E5"/><use href="#c11" stroke="#CD0BBC"/><use href="#c12" stroke="#000000"/><use href="#c13" stroke="#DF536B"/><use href="#c14" stroke="#61D04F"/><use href="#c15" stroke="#2297E6"/><use href="#c16" stroke="#28E2E5"/><use href="#c17" stroke="#CD0BBC"/><use href="#c18" stroke="#000000"/><use href="#c19" stroke="#DF536B"/><use href="#c20" stroke="#61D04F"/><use href="#c21" stroke="#2297E6"/><use href="#c22" stroke="#28E2E5"/><use href="#c23" stroke="#CD0BBC"/><use href="#c24" stroke="#000000"/><use href="#c25" stroke="#DF536B"/><use href="#c26" stroke="#61D04F"/><use href="#c27" stroke="#2297E6"/><use href="#c28" stroke="#28E2E5"/><use href="#c29" stroke="#CD0BBC"/><use href="#c30" stroke="#000000"/><use href="#c31" stroke="#DF536B"/><use href="#c32" stroke="#61D04F"/><use href="#c33" stroke="#2297E6"/><use href="#c34" stroke="#28E2E5"/><use href="#c35" stroke="#CD0BBC"/><use href="#c36" stroke="#000000"/><use href="#c37" stroke="#DF536B"/><use href="#c38" stroke="#61D04F"/><use href="#c39" stroke="#2297E6"/><use href="#c40" stroke="#28E2E5"/><use href="#c41" stroke="#CD0BBC"/><use href="#c42" stroke="#000000"/><use href="#c43" stroke="#DF536B"/><use href="#c44" stroke="#61D04F"/><use href="#c45" stroke="#2297E6"/><use href="#c46" stroke="#28E2E5"/><use href="#c47" stroke="#CD0BBC"/><use href="#c48" stroke="#000000"/><use href="#c49" stroke="#DF536B"/><use href="#c50" stroke="#61D04F"/><use href="#c51" stroke="#2297E6"/><use href="#c52" stroke="#28E2E5"/><use href="#c53" stroke="#CD0BBC"/><use href="#c54" stroke="#000000"/><use href="#c55" stroke="#DF536B"/><use href="#c56" stroke="#61D04F"/><use href="#c57" stroke="#2297E6"/><use href="#c58" stroke="#28E2E5"/><use href="#c59" stroke="#CD0BBC"/><use href="#c60" stroke="#000000"/><use href="#c61" stroke="#DF536B"/><use href="#c62" stroke="#61D04F"/><use href="#c63" stroke="#2297E6"/><use href="#c64" stroke="#28E2E5"/><use href="#c65" stroke="#CD0BBC"/><use href="#c66" stroke="#000000"/><use href="#c67" stroke="#DF536B"/><use href="#c68" stroke="#61D04F"/><use href="#c69" stroke="#2297E6"/><use href="#c70" stroke="#28E2E5"/><use href="#c71" stroke="#CD0BBC"/><use href="#c72" stroke="#000000"/><use href="#c73" stroke="#DF536B"/><use href="#c74" stroke="#61D04F"/><use href="#c75" stroke="#2297E6"/><use href="#c76" stroke="#28E2E5"/><use href="#c77" stroke="#CD0BBC"/><use href="#c78" stroke="#000000"/><use href="#c79" stroke="#DF536B"/><use href="#c80" stroke="#61D04F"/><use href="#c81" stroke="#2297E6"/><use href="#c82" stroke="#28E2E5"/><use href="#c83" stroke="#CD0BBC"/><use href="#c84" stroke="#000000"/><use href="#c85" stroke="#DF536B"/><use href="#c86" stroke="#61D04F"/><use href="#c87" stroke="#2297E6"/><use href="#c88" stroke="#28E2E5"/><use href="#c89" stroke="#CD0BBC"/><use href="#c90" stroke="#000000"/><use href="#c91" stroke="#DF536B"/><use href="#c92" stroke="#61D04F"/><use href="#c93" stroke="#2297E6"/><use href="#c94" stroke="#28E2E5"/><use href="#c95" stroke="#CD0BBC"/><use href="#c96" stroke="#000000"/><use href="#c97" stroke="#DF536B"/><use href="#c98" stroke="#61D04F"/><use href="#c99" stroke="#2297E6"/><use href="#c100" stroke="#28E2E5"/><use href="#c101" stroke="#CD0BBC"/><use href="#c102" stroke="#000000"/><use href="#c103" stroke="#DF536B"/><use href="#c104" stroke="#61D04F"/><use href="#c105" stroke="#2297E6"/><use href="#c106" stroke="#28E2E5"/><use href="#c107" stroke="#CD0BBC"/><use href="#c108" stroke="#000000"/><use href="#c109" stroke="#DF536B"/><use href="#c110" stroke="#61D04F"/><use href="#c111" stroke="#2297E6"/><use href="#c112" stroke="#28E2E5"/><use href="#c113" stroke="#CD0BBC"/><use href="#c114" stroke="#000000"/><use href="#c115" stroke="#DF536B"/><use href="#c116" stroke="#61D04F"/><use href="#c117" stroke="#2297E6"/><use href="#c118" stroke="#28E2E5"/><use href="#c119" stroke="#CD0BBC"/><use href="#c120" stroke="#000000"/><use href="#c121" stroke="#DF536B"/><use href="#c122" stroke="#61D04F"/><use href="#c123" stroke="#2297E6"/><use href="#c124" stroke="#28E2E5"/><use href="#c125" stroke="#CD0BBC"/><use href="#c126" stroke="#000000"/><use href="#c127" stroke="#DF536B"/><use href="#c128" stroke="#61D04F"/><use href="#c129" stroke="#2297E6"/><use href="#c130" stroke="#28E2E5"/><use href="#c131" stroke="#CD0BBC"/><use href="#c132" stroke="#000000"/><use href="#c133" stroke="#DF536B"/><use href="#c134" stroke="#61D04F"/><use href="#c135" stroke="#2297E6"/><use href="#c136" stroke="#28E2E5"/><use href="#c137" stroke="#CD0BBC"/><use href="#c138" stroke="#000000"/><use href="#c139" stroke="#DF536B"/><use href="#c140" stroke="#61D04F"/><use href="#c141" stroke="#2297E6"/><use href="#c142" stroke="#28E2E5"/><use href="#c143" stroke="#CD0BBC"/><use href="#c144" stroke="#000000"/><use href="#c145" stroke="#DF536B"/><use href="#c146" stroke="#61D04F"/><use href="#c147" stroke="#2297E6"/><use href="#c148" stroke="#28E2E5"/><use href="#c149" stroke="#CD0BBC"/><use href="#c150" stroke="#000000"/><use href="#c151" stroke="#DF536B"/><use href="#c152" stroke="#61D04F"/><use href="#c153" stroke="#2297E6"/><use href="#c154" stroke="#28E2E5"/><use href="#c155" stroke="#CD0BBC"/><use href="#c156" stroke="#000000"/><use href="#c157" stroke="#DF536B"/><use href="#c158" stroke="#61D04F"/><use href="#c159" stroke="#2297E6"/><use href="#c160" stroke="#28E2E5"/><use href="#c161" stroke="#CD0BBC"/><use href="#c162" stroke="#000000"/><use href="#c163" stroke="#DF536B"/><use href="#c164" stroke="#61D04F"/><use href="#c165" stroke="#2297E6"/><use href="#c166" stroke="#28E2E5"/><use href="#c167" stroke="#CD0BBC"/><use href="#c168" stroke="#000000"/><use href="#c169" stroke="#DF536B"/><use href="#c170" stroke="#61D04F"/><use href="#c171" stroke="#2297E6"/><use href="#c172" stroke="#28E2E5"/><use href="#c173" stroke="#CD0BBC"/><use href="#c174" stroke="#000000"/><use href="#c175" stroke="#DF536B"/><use href="#c176" stroke="#61D04F"/><use href="#c177" stroke="#2297E6"/><use href="#c178" stroke="#28E2E5"/><use href="#c179" stroke="#CD0BBC"/><use href="#c180" stroke="#000000"/><use href="#c181" stroke="#DF536B"/><use href="#c182" stroke="#61D04F"/><use href="#c183" stroke="#2297E6"/><use href="#c184" stroke="#28E2E5"/><use href="#c185" stroke="#CD0BBC"/><use href="#c186" stroke="#000000"/><use href="#c187" stroke="#DF536B"/><use href="#c188" stroke="#61D04F"/><use href="#c189" stroke="#2297E6"/><use href="#c190" stroke="#28E2E5"/><use href="#c191" stroke="#CD0BBC"/><use href="#c192" stroke="#000000"/><use href="#c193" stroke="#DF536B"/><use href="#c194" stroke="#61D04F"/><use href="#c195" stroke="#2297E6"/><use href="#c196" stroke="#28E2E5"/><use href="#c197" stroke="#CD0BBC"/><use href="#c198" stroke="#000000"/><use href="#c199" stroke="#DF536B"/><use href="#c200" stroke="#61D04F"/><use href="#c201" stroke="#2297E6"/><use href="#c202" stroke="#28E2E5"/><use href="#c203" stroke="#CD0BBC"/><use href="#c204" stroke="#000000"/><use href="#c205" stroke="#DF536B"/><use href="#c206" stroke="#61D04F"/><use href="#c207" stroke="#2297E6"/><use href="#c208" stroke="#28E2E5"/><use href="#c209" stroke="#CD0BBC"/><use href="#c210" stroke="#000000"/><use href="#c211" stroke="#DF536B"/><use href="#c212" stroke="#61D04F"/><use href="#c213" stroke="#2297E6"/><use href="#c214" stroke="#28E2E5"/><use href="#c215" stroke="#CD0BBC"/><use href="#c216" stroke="#000000"/><use href="#c217" stroke="#DF536B"/><use href="#c218" stroke="#61D04F"/><use href="#c219" stroke="#2297E6"/><use href="#c220" stroke="#28E2E5"/><use href="#c221" stroke="#CD0BBC"/><use href="#c222" stroke="#000000"/><use href="#c223" stroke="#DF536B"/><use href="#c224" stroke="#61D04F"/><use href="#c225" stroke="#2297E6"/><use href="#c226" stroke="#28E2E5"/><use href="#c227" stroke="#CD0BBC"/><use href="#c228" stroke="#000000"/><use href="#c229" stroke="#DF536B"/><use href="#c230" stroke="#61D04F"/><use href="#c231" stroke="#2297E6"/><use href="#c232" stroke="#28E2E5"/><use href="#c233" stroke="#CD0BBC"/><use href="#c234" stroke="#000000"/><use href="#c235" stroke="#DF536B"/><use href="#c236" stroke="#61D04F"/><use href="#c237" stroke="#2297E6"/><use href="#c238" stroke="#28E2E5"/><use href="#c239" stroke="#CD0BBC"/><use href="#c240" stroke="#000000"/><use href="#c241" stroke="#DF536B"/><use href="#c242" stroke="#61D04F"/><use href="#c243" stroke="#2297E6"/><use href="#c244" stroke="#28E2E5"/><use href="#c245" stroke="#CD0BBC"/><use href="#c246" stroke="#000000"/><use href="#c247" stroke="#DF536B"/><use href="#c248" stroke="#61D04F"/><use href="#c249" stroke="#2297E6"/><use href="#c250" stroke="#28E2E5"/><use href="#c251" stroke="#CD0BBC"/><use href="#c252" stroke="#000000"/><use href="#c253" stroke="#DF536B"/><use href="#c254" stroke="#61D04F"/><use href="#c255" stroke="#2297E6"/><use href="#c256" stroke="#28E2E5"/><use href="#c257" stroke="#CD0BBC"/><use href="#c258" stroke="#000000"/><use href="#c259" stroke="#DF536B"/><use href="#c260" stroke="#61D04F"/><use href="#c261" stroke="#2297E6"/><use href="#c262" stroke="#28E2E5"/><use href="#c263" stroke="#CD0BBC"/><use href="#c264" stroke="#000000"/><use href="#c265" stroke="#DF536B"/><use href="#c266" stroke="#61D04F"/><use href="#c267" stroke="#2297E6"/><use href="#c268" stroke="#28E2E5"/><use href="#c269" stroke="#CD0BBC"/><use href="#c270" stroke="#000000"/><use href="#c271" stroke="#DF536B"/><use href="#c272" stroke="#61D04F"/><use href="#c273" stroke="#2297E6"/><use href="#c274" stroke="#28E2E5"/><use href="#c275" stroke="#CD0BBC"/><use href="#c276" stroke="#000000"/><use href="#c277" stroke="#DF536B"/><use href="#c278" stroke="#61D04F"/><use href="#c279" stroke="#2297E6"/><use href="#c280" stroke="#28E2E5"/><use href="#c281" stroke="#CD0BBC"/><use href="#c282" stroke="#000000"/><use href="#c283" stroke="#DF536B"/><use href="#c284" stroke="#61D04F"/><use href="#c285" stroke="#2297E6"/><use href="#c286" stroke="#28E2E5"/><use href="#c287" stroke="#CD0BBC"/><use href="#c288" stroke="#000000"/><use href="#c289" stroke="#DF536B"/><use href="#c290" stroke="#61D04F"/><use href="#c291" stroke="#2297E6"/><use href="#c292" stroke="#28E2E5"/><use href="#c293" stroke="#CD0BBC"/><use href="#c294" stroke="#000000"/><use href="#c295" stroke="#DF536B"/><use href="#c296" stroke="#61D04F"/><use href="#c297" stroke="#2297E6"/><use href="#c298" stroke="#28E2E5"/><use href="#c299" stroke="#CD0BBC"/><use href="#c300" stroke="#000000"/><use href="#c301" stroke="#DF536B"/><use href="#c302" stroke="#61D04F"/><use href="#c303" stroke="#2297E6"/><use href="#c304" stroke="#28E2E5"/><use href="#c305" stroke="#CD0BBC"/><use href="#c306" stroke="#000000"/><use href="#c307" stroke="#DF536B"/><use href="#c308" stroke="#61D04F"/><use href="#c309" stroke="#2297E6"/><use href="#c310" stroke="#28E2E5"/><use href="#c311" stroke="#CD0BBC"/><use href="#c312" stroke="#000000"/><use href="#c313" stroke="#DF536B"/><use href="#c314" stroke="#61D04F"/><use href="#c315" stroke="#2297E6"/><use href="#c316" stroke="#28E2E5"/><use href="#c317" stroke="#CD0BBC"/><use href="#c318" stroke="#000000"/><use href="#c319" stroke="#DF536B"/><use href="#c320" stroke="#61D04F"/><use href="#c321" stroke="#2297E6"/><use href="#c322" stroke="#28E2E5"/><use href="#c323" stroke="#CD0BBC"/><use href="#c324" stroke="#000000"/><use href="#c325" stroke="#DF536B"/><use href="#c326" stroke="#61D04F"/><use href="#c327" stroke="#2297E6"/><use href="#c328" stroke="#28E2E5"/><use href="#c329" stroke="#CD0BBC"/><use href="#c330" stroke="#000000"/><use href="#c331" stroke="#DF536B"/><use href="#c332" stroke="#61D04F"/><use href="#c333" stroke="#2297E6"/><use href="#c334" stroke="#28E2E5"/><use href="#c335" stroke="#CD0BBC"/><use href="#c336" stroke="#000000"/><use href="#c337" stroke="#DF536B"/><use href="#c338" stroke="#61D04F"/><use href="#c339" stroke="#2297E6"/><use href="#c340" stroke="#28E2E5"/><use href="#c341" stroke="#CD0BBC"/><use href="#c342" stroke="#000000"/><use href="#c343" stroke="#DF536B"/><use href="#c344" stroke="#61D04F"/></g>
<path d="M407.5 188.1H544" stroke="#CD0BBC" stroke-width="1.3"/>
<g fill="none" stroke-width="0.7" transform="translate(53.5,453.8) scale(1.7487,-0.1496)"><use href="#c0" stroke="#0000FF"/><use href="#c1" stroke="#0000FF"/><use href="#c2" stroke="#0000FF"/><use href="#c3" stroke="#0000FF"/><use href="#c4" stroke="#0000FF"/><use href="#c5" stroke="#00FF00"/><use href="#c6" stroke="#00FF00"/><use href="#c7" stroke="#0000FF"/><use href="#c8" stroke="#0000FF"/><use href="#c9" stroke="#0000FF"/><use href="#c10" stroke="#00FF00"/><use href="#c11" stroke="#0000FF"/><use href="#c12" stroke="#00FF00"/><use href="#c13" stroke="#0000FF"/><use href="#c14" stroke="#00FF00"/><use href="#c15" stroke="#0000FF"/><use href="#c16" stroke="#0000FF"/><use href="#c17" stroke="#0000FF"/><use href="#c18" stroke="#0000FF"/><use href="#c19" stroke="#0000FF"/><use href="#c20" stroke="#0000FF"/><use href="#c21" stroke="#0000FF"/><use href="#c22" stroke="#FFA500"/><use href="#c23" stroke="#0000FF"/><use href="#c24" stroke="#0000FF"/><use href="#c25" stroke="#00FF00"/><use href="#c26" stroke="#0000FF"/><use href="#c27" stroke="#0000FF"/><use href="#c28" stroke="#0000FF"/><use href="#c29" stroke="#FFA500"/><use href="#c30" stroke="#0000FF"/><use href="#c31" stroke="#0000FF"/><use href="#c32" stroke="#0000FF"/><use href="#c33" stroke="#0000FF"/><use href="#c34" stroke="#00FF00"/><use href="#c35" stroke="#00FF00"/><use href="#c36" stroke="#0000FF"/><use href="#c37" stroke="#0000FF"/><use href="#c38" stroke="#0000FF"/><use href="#c39" stroke="#0000FF"/><use href="#c40" stroke="#0000FF"/><use href="#c41" stroke="#0000FF"/><use href="#c42" stroke="#0000FF"/><use href="#c43" stroke="#00FF00"/><use href="#c44" stroke="#0000FF"/><use href="#c45" stroke="#0000FF"/><use href="#c46" stroke="#0000FF"/><use href="#c47" stroke="#0000FF"/><use href="#c48" stroke="#00FF00"/><use href="#c49" stroke="#0000FF"/><use href="#c50" stroke="#0000FF"/><use href="#c51" stroke="#00FF00"/><use href="#c52" stroke="#0000FF"/><use href="#c53" stroke="#0000FF"/><use href="#c54" stroke="#FF0000"/><use href="#c55" stroke="#0000FF"/><use href="#c56" stroke="#0000FF"/><use href="#c57" stroke="#0000FF"/><use href="#c58" stroke="#0000FF"/><use href="#c59" stroke="#0000FF"/><use href="#c60" stroke="#00FF00"/><use href="#c61" stroke="#0000FF"/><use href="#c62" stroke="#0000FF"/><use href="#c63" stroke="#0000FF"/><use href="#c64" stroke="#00FF00"/><use href="#c65" stroke="#0000FF"/><use href="#c66" stroke="#0000FF"/><use href="#c67" stroke="#0000FF"/><use href="#c68" stroke="#00FF00"/><use href="#c69" stroke="#0000FF"/><use href="#c70" stroke="#0000FF"/><use href="#c71" stroke="#0000FF"/><use href="#c72" stroke="#0000FF"/><use href="#c73" stroke="#FF0000"/><use href="#c74" stroke="#0000FF"/><use href="#c75" stroke="#0000FF"/><use href="#c76" stroke="#0000FF"/><use href="#c77" stroke="#0000FF"/><use href="#c78" stroke="#00FF00"/><use href="#c79" stroke="#FFA500"/><use href="#c80" stroke="#0000FF"/><use href="#c81" stroke="#0000FF"/><use href="#c82" stroke="#0000FF"/><use href="#c83" stroke="#0000FF"/><use href="#c84" stroke="#00FF00"/><use href="#c85" stroke="#0000FF"/><use href="#c86" stroke="#0000FF"/><use href="#c87" stroke="#0000FF"/><use href="#c88" stroke="#00FF00"/><use href="#c89" stroke="#0000FF"/><use href="#c90" stroke="#0000FF"/><use href="#c91" stroke="#0000FF"/><use href="#c92" stroke="#0000FF"/><use href="#c93" stroke="#0000FF"/><use href="#c94" stroke="#00FF00"/><use href="#c95" stroke="#00FF00"/><use href="#c96" stroke="#0000FF"/><use href="#c97" stroke="#00FF00"/><use href="#c98" stroke="#0000FF"/><use href="#c99" stroke="#0000FF"/><use href="#c100" stroke="#0000FF"/><use href="#c101" stroke="#0000FF"/><use href="#c102" stroke="#0000FF"/><use href="#c103" stroke="#0000FF"/><use href="#c104" stroke="#FFA500"/><use href="#c105" stroke="#0000FF"/><use href="#c106" stroke="#0000FF"/><use href="#c107" stroke="#0000FF"/><use href="#c108" stroke="#0000FF"/><use href="#c109" stroke="#0000FF"/><use href="#c110" stroke="#00FF00"/><use href="#c111" stroke="#0000FF"/><use href="#c112" stroke="#0000FF"/><use href="#c113" stroke="#0000FF"/><use href="#c114" stroke="#0000FF"/><use href="#c115" stroke="#0000FF"/><use href="#c116" stroke="#00FF00"/><use href="#c117" stroke="#0000FF"/><use href="#c118" stroke="#0000FF"/><use href="#c119" stroke="#00FF00"/><use href="#c120" stroke="#0000FF"/><use href="#c121" stroke="#0000FF"/><use href="#c122" stroke="#FF0000"/><use href="#c123" stroke="#0000FF"/><use href="#c124" stroke="#0000FF"/><use href="#c125" stroke="#0000FF"/><use href="#c126" stroke="#0000FF"/><use href="#c127" stroke="#00FF00"/><use href="#c128" stroke="#0000FF"/><use href="#c129" stroke="#FFA500"/><use href="#c130" stroke="#0000FF"/><use href="#c131" stroke="#0000FF"/><use href="#c132" stroke="#0000FF"/><use href="#c133" stroke="#0000FF"/><use href="#c134" stroke="#0000FF"/><use href="#c135" stroke="#00FF00"/><use href="#c136" stroke="#0000FF"/><use href="#c137" stroke="#00FF00"/><use href="#c138" stroke="#0000FF"/><use href="#c139" stroke="#0000FF"/><use href="#c140" stroke="#00FF00"/><use href="#c141" stroke="#0000FF"/><use href="#c142" stroke="#0000FF"/><use href="#c143" stroke="#00FF00"/><use href="#c144" stroke="#0000FF"/><use href="#c145" stroke="#0000FF"/><use href="#c146" stroke="#0000FF"/><use href="#c147" stroke="#00FF00"/><use href="#c148" stroke="#0000FF"/><use href="#c149" stroke="#0000FF"/><use href="#c150" stroke="#0000FF"/><use href="#c151" stroke="#00FF00"/><use href="#c152" stroke="#0000FF"/><use href="#c153" stroke="#0000FF"/><use href="#c154" stroke="#0000FF"/><use href="#c155" stroke="#00FF00"/><use href="#c156" stroke="#0000FF"/><use href="#c157" stroke="#0000FF"/><use href="#c158" stroke="#0000FF"/><use href="#c159" stroke="#0000FF"/><use href="#c160" stroke="#0000FF"/><use href="#c161" stroke="#0000FF"/><use href="#c162" stroke="#00FF00"/><use href="#c163" stroke="#0000FF"/><use href="#c164" stroke="#00FF00"/><use href="#c165" stroke="#0000FF"/><use href="#c166" stroke="#0000FF"/><use href="#c167" stroke="#0000FF"/><use href="#c168" stroke="#0000FF"/><use href="#c169" stroke="#0000FF"/><use href="#c170" stroke="#0000FF"/><use href="#c171" stroke="#0000FF"/><use href="#c172" stroke="#00FF00"/><use href="#c173" stroke="#FFA500"/><use href="#c174" stroke="#0000FF"/><use href="#c175" stroke="#0000FF"/><use href="#c176" stroke="#0000FF"/><use href="#c177" stroke="#0000FF"/><use href="#c178" stroke="#00FF00"/><use href="#c179" stroke="#0000FF"/><use href="#c180" stroke="#FFA500"/><use href="#c181" stroke="#0000FF"/><use href="#c182" stroke="#0000FF"/><use href="#c183" stroke="#0000FF"/><use href="#c184" stroke="#0000FF"/><use href="#c185" stroke="#0000FF"/><use href="#c186" stroke="#00FF00"/><use href="#c187" stroke="#0000FF"/><use href="#c188" stroke="#0000FF"/><use href="#c189" stroke="#0000FF"/><use href="#c190" stroke="#0000FF"/><use href="#c191" stroke="#FFA500"/><use href="#c192" stroke="#0000FF"/><use href="#c193" stroke="#0000FF"/><use href="#c194" stroke="#00FF00"/><use href="#c195" stroke="#0000FF"/><use href="#c196" stroke="#0000FF"/><use href="#c197" stroke="#0000FF"/><use href="#c198" stroke="#0000FF"/><use href="#c199" stroke="#00FF00"/><use href="#c200" stroke="#0000FF"/><use href="#c201" stroke="#0000FF"/><use href="#c202" stroke="#0000FF"/><use href="#c203" stroke="#0000FF"/><use href="#c204" stroke="#0000FF"/><use href="#c205" stroke="#0000FF"/><use href="#c206" stroke="#00FF00"/><use href="#c207" stroke="#0000FF"/><use href="#c208" stroke="#0000FF"/><use href="#c209" stroke="#00FF00"/><use href="#c210" stroke="#0000FF"/><use href="#c211" stroke="#00FF00"/><use href="#c212" stroke="#0000FF"/><use href="#c213" stroke="#0000FF"/><use href="#c214" stroke="#FF0000"/><use href="#c215" stroke="#0000FF"/><use href="#c216" stroke="#0000FF"/><use href="#c217" stroke="#0000FF"/><use href="#c218" stroke="#0000FF"/><use href="#c219" stroke="#0000FF"/><use href="#c220" stroke="#0000FF"/><use href="#c221" stroke="#FFA500"/><use href="#c222" stroke="#0000FF"/><use href="#c223" stroke="#0000FF"/><use href="#c224" stroke="#FFA500"/><use href="#c225" stroke="#0000FF"/><use href="#c226" stroke="#0000FF"/><use href="#c227" stroke="#0000FF"/><use href="#c228" stroke="#0000FF"/><use href="#c229" stroke="#0000FF"/><use href="#c230" stroke="#FF0000"/><use href="#c231" stroke="#0000FF"/><use href="#c232" stroke="#0000FF"/><use href="#c233" stroke="#0000FF"/><use href="#c234" stroke="#0000FF"/><use href="#c235" stroke="#FF0000"/><use href="#c236" stroke="#00FF00"/><use href="#c237" stroke="#0000FF"/><use href="#c238" stroke="#0000FF"/><use href="#c239" stroke="#0000FF"/><use href="#c240" stroke="#FFA500"/><use href="#c241" stroke="#0000FF"/><use href="#c242" stroke="#0000FF"/><use href="#c243" stroke="#0000FF"/><use href="#c244" stroke="#00FF00"/><use href="#c245" stroke="#0000FF"/><use href="#c246" stroke="#0000FF"/><use href="#c247" stroke="#0000FF"/><use href="#c248" stroke="#0000FF"/><use href="#c249" stroke="#0000FF"/><use href="#c250" stroke="#0000FF"/><use href="#c251" stroke="#0000FF"/><use href="#c252" stroke="#FFA500"/><use href="#c253" stroke="#0000FF"/><use href="#c254" stroke="#0000FF"/><use href="#c255" stroke="#0000FF"/><use href="#c256" stroke="#FF0000"/><use href="#c257" stroke="#0000FF"/><use href="#c258" stroke="#FF0000"/><use href="#c259" stroke="#0000FF"/><use href="#c260" stroke="#0000FF"/><use href="#c261" stroke="#0000FF"/><use href="#c262" stroke="#0000FF"/><use href="#c263" stroke="#FF0000"/><use href="#c264" stroke="#0000FF"/><use href="#c265" stroke="#0000FF"/><use href="#c266" stroke="#0000FF"/><use href="#c267" stroke="#FFA500"/><use href="#c268" stroke="#FFA500"/><use href="#c269" stroke="#0000FF"/><use href="#c270" stroke="#0000FF"/><use href="#c271" stroke="#0000FF"/><use href="#c272" stroke="#0000FF"/><use href="#c273" stroke="#0000FF"/><use href="#c274" stroke="#0000FF"/><use href="#c275" stroke="#0000FF"/><use href="#c276" stroke="#0000FF"/><use href="#c277" stroke="#00FF00"/><use href="#c278" stroke="#0000FF"/><use href="#c279" stroke="#0000FF"/><use href="#c280" stroke="#0000FF"/><use href="#c281" stroke="#FFA500"/><use href="#c282" stroke="#0000FF"/><use href="#c283" stroke="#0000FF"/><use href="#c284" stroke="#0000FF"/><use href="#c285" stroke="#0000FF"/><use href="#c286" stroke="#0000FF"/><use href="#c287" stroke="#00FF00"/><use href="#c288" stroke="#0000FF"/><use href="#c289" stroke="#0000FF"/><use href="#c290" stroke="#0000FF"/><use href="#c291" stroke="#0000FF"/><use href="#c292" stroke="#0000FF"/><use href="#c293" stroke="#00FF00"/><use href="#c294" stroke="#0000FF"/><use href="#c295" stroke="#00FF00"/><use href="#c296" stroke="#0000FF"/><use href="#c297" stroke="#0000FF"/><use href="#c298" stroke="#0000FF"/><use href="#c299" stroke="#FFA500"/><use href="#c300" stroke="#0000FF"/><use href="#c301" stroke="#0000FF"/><use href="#c302" stroke="#0000FF"/><use href="#c303" stroke="#0000FF"/><use href="#c304" stroke="#0000FF"/><use href="#c305" stroke="#FFA500"/><use href="#c306" stroke="#0000FF"/><use href="#c307" stroke="#0000FF"/><use href="#c308" stroke="#0000FF"/><use href="#c309" stroke="#00FF00"/><use href="#c310" stroke="#0000FF"/><use href="#c311" stroke="#00FF00"/><use href="#c312" stroke="#0000FF"/><use href="#c313" stroke="#0000FF"/><use href="#c314" stroke="#0000FF"/><use href="#c315" stroke="#0000FF"/><use href="#c316" stroke="#00FF00"/><use href="#c317" stroke="#00FF00"/><use href="#c318" stroke="#0000FF"/><use href="#c319" stroke="#FFA500"/><use href="#c320" stroke="#0000FF"/><use href="#c321" stroke="#0000FF"/><use href="#c322" stroke="#0000FF"/><use href="#c323" stroke="#00FF00"/><use href="#c324" stroke="#0000FF"/><use href="#c325" stroke="#0000FF"/><use href="#c326" stroke="#0000FF"/><use href="#c327" stroke="#0000FF"/><use href="#c328" stroke="#0000FF"/><use href="#c329" stroke="#00FF00"/><use href="#c330" stroke="#0000FF"/><use href="#c331" stroke="#FFA500"/><use href="#c332" stroke="#0000FF"/><use href="#c333" stroke="#0000FF"/><use href="#c334" stroke="#FFA500"/><use href="#c335" stroke="#0000FF"/><use href="#c336" stroke="#0000FF"/><use href="#c337" stroke="#0000FF"/><use href="#c338" stroke="#0000FF"/><use href="#c339" stroke="#0000FF"/><use href="#c340" stroke="#0000FF"/><use href="#c341" stroke="#0000FF"/><use href="#c342" stroke="#00FF00"/><use href="#c343" stroke="#0000FF"/><use href="#c344" stroke="#0000FF"/></g>
<path d="M53.5 454.3L53.5 453.8 55.2 453.8 57 453.8 58.7 453.7 60.5 453.6 62.2 453.6 64 453.6 65.7 453.6 67.5 453.6 69.2 453.7 71 453.7 72.7 453.7 74.5 453.8 76.2 453.8 78 453.8 79.7 453.7 81.5 453.7 83.2 453.6 85 453.4 86.7 453.3 88.5 453 90.2 452.8 92 452.4 93.7 452.2 95.5 451.9 97.2 451.5 99 451.3 100.7 451.1 102.5 451.1 104.2 451.1 106 451.2 107.7 451.1 109.5 451 111.2 451.1 113 451.1 114.7 451.1 116.5 450.9 118.2 451 120 450.9 121.7 450.9 123.4 451.2 125.2 451.3 126.9 451.7 128.7 452.1 130.4 452.4 132.2 452.9 133.9 453.1 135.7 453.3 137.4 453.6 139.2 453.7 140.9 453.8 142.7 453.8 144.4 453.8 146.2 453.8 147.9 453.8 149.7 453.8 151.4 453.8 153.2 453.8 154.9 453.8 156.7 453.8 158.4 453.8 160.2 453.8 161.9 453.8 163.7 453.8 165.4 453.8 167.2 453.8 168.9 453.8 170.7 453.8 172.4 453.8 174.2 453.8 175.9 453.8 177.7 453.7 179.4 453.8 181.2 453.8 182.9 453.8 184.7 453.8 186.4 453.8 188.1 453.7 189.9 453.6 191.6 453.6 193.4 453.4 195.1 453.1 196.9 452.7 198.6 452.4 200.4 451.9 202.1 451.3 203.9 450.8 205.6 450.3 207.4 449.6 209.1 449 210.9 448.7 212.6 448.7 214.4 448.5 216.1 448.5 217.9 448.3 219.6 448.4 221.4 448.4 223.1 448.6 224.9 448.9 226.6 449.4 228.4 449.9 230.1 450.5 231.9 450.9 233.6 451.6 235.4 452.2 237.1 452.6 238.9 452.8 240.6 452.7 242.4 452.6 244.1 452.2 245.9 451.8 247.6 451.5 249.4 451 251.1 450.7 252.8 450.4 254.6 450.3 256.3 450.2 258.1 450.2 259.8 450.1 261.6 450.1 263.3 450.1 265.1 450.1 266.8 450.1 268.6 450.1 270.3 450.1 272.1 450.1 273.8 450.2 275.6 450.2 277.3 450.2 279.1 450.2 280.8 450.2 282.6 450.2 284.3 450.2 286.1 450.2 287.8 450.2 289.6 450.2 291.3 450.2 293.1 450.1 294.8 450.1 296.6 450.1 298.3 450.1 300.1 450.1 301.8 450.1 303.6 450.1 305.3 450.3 307.1 450.3 308.8 450.4 310.6 450.6 312.3 450.6 314.1 450.8 315.8 451.1 317.6 451.6 319.3 452.2 319.3 454.3Z" fill="#0000FF"/>
<clipPath id="clipA"><rect x="53.5" y="20" width="265.9" height="175"/></clipPath>
<g fill="none" stroke-width="0.65" stroke-linejoin="round" clip-path="url(#clipA)"><path d="M266.6 188.2 268.3 187.7 270.1 187 271.8 187.7 273.6 188.2" stroke="#DF536B"/><path d="M307.7 188.2 309.5 186.9 311.2 188.3" stroke="#000000"/><path d="M306.6 187.5 308.3 159.4 310 186.7" stroke="#61D04F"/><path d="M58.7 188.2 60.5 187.5 62.2 187.1 64 188.2" stroke="#DF536B"/><path d="M282.4 188.3 284.2 188.1 285.9 187.5 287.7 187.8 289.4 188.3" stroke="#61D04F"/><path d="M86 188.2 87.8 186.8 89.5 186.4 91.3 186.9 93 188.2" stroke="#CD0BBC"/><path d="M316.2 187.9 318 185.7 319.7 188.2" stroke="#000000"/><path d="M82.5 188.2 84.2 187.6 86 187 87.7 188.2" stroke="#2297E6"/><path d="M189.4 188.1 191.2 183.8 192.9 185.5 194.7 188.1" stroke="#CD0BBC"/><path d="M289.7 188.2 291.4 186.1 293.2 188.2" stroke="#CD0BBC"/><path d="M262.3 188 264 185.3 265.8 188.2" stroke="#2297E6"/><path d="M231.2 188.3 232.9 187.9 234.7 187.5 236.4 188.3" stroke="#CD0BBC"/><path d="M246.5 187.9 248.2 182.5 250 179.5 251.7 187.9" stroke="#DF536B"/><path d="M278.1 188 279.9 184.8 281.6 188.3" stroke="#DF536B"/><path d="M312.5 188 314.2 185.7 316 183.1 317.7 188" stroke="#CD0BBC"/><path d="M293.3 188.3 295 187.8 296.8 188 298.5 188.3" stroke="#DF536B"/><path d="M290.2 188.2 291.9 187 293.7 187.8 295.4 188.2" stroke="#000000"/><path d="M106 188.3 107.8 188 109.5 187.7 111.3 188.3" stroke="#DF536B"/><path d="M61 188.3 62.8 186.6 64.5 188.2" stroke="#CD0BBC"/><path d="M261.4 188.3 263.2 188.1 264.9 187.8 266.7 188 268.4 188.3" stroke="#000000"/><path d="M95.3 188.3 97.1 187.7 98.8 187.5 100.6 187.9 102.3 188.3" stroke="#61D04F"/><path d="M74.2 188.3 75.9 187.7 77.7 187.5 79.4 188.3" stroke="#28E2E5"/><path d="M316 187.9 317.7 185.5 319.5 188" stroke="#CD0BBC"/><path d="M292.5 187.7 294.2 183.9 296 188.1" stroke="#28E2E5"/><path d="M187.2 188.2 188.9 156.3 190.6 187.9" stroke="#61D04F"/><path d="M264.2 188.1 265.9 185.9 267.7 188.1" stroke="#CD0BBC"/><path d="M285.1 188.1 286.8 183.6 288.6 187.7" stroke="#DF536B"/><path d="M168.4 188.2 170.1 181.9 171.8 187.7" stroke="#DF536B"/><path d="M137.7 188.3 139.5 187.2 141.2 188.2" stroke="#61D04F"/><path d="M179.8 188.2 181.5 187.8 183.3 188.2" stroke="#000000"/><path d="M194 188.3 195.7 188.1 197.5 187.8 199.2 188.1 201 188.3" stroke="#000000"/><path d="M74.4 188.3 76.1 188 77.9 187.7 79.6 187.9 81.4 188.3" stroke="#DF536B"/><path d="M270.1 188 271.8 185.6 273.6 187.9" stroke="#DF536B"/><path d="M299.5 188.2 301.2 187.4 303 187.1 304.7 188.2" stroke="#61D04F"/><path d="M89.3 188.2 91 187.5 92.8 188.3" stroke="#28E2E5"/><path d="M279.1 188.3 280.8 187.7 282.6 187.9 284.3 188.3" stroke="#2297E6"/><path d="M257.6 188.1 259.3 186.2 261.1 188.1" stroke="#61D04F"/><path d="M239.6 188.2 241.3 187.2 243.1 187.8 244.8 188.2" stroke="#61D04F"/><path d="M283 187.8 284.8 178.7 286.5 181 288.3 187.8" stroke="#61D04F"/><path d="M278.5 188.1 280.3 186.2 282 183.4 283.8 185.7 285.5 188.1" stroke="#DF536B"/><path d="M87.6 188.3 89.4 187.9 91.1 188.2" stroke="#2297E6"/><path d="M286.6 188.2 288.4 186.5 290.1 188.1" stroke="#DF536B"/><path d="M213.3 188.2 215 187.2 216.8 186.7 218.5 188.2" stroke="#CD0BBC"/><path d="M295.4 188.3 297.1 187.7 298.8 188.3" stroke="#000000"/><path d="M247.3 187.1 249 180.2 250.8 187.7" stroke="#CD0BBC"/><path d="M261.8 188.1 263.5 171.9 265.2 186.3" stroke="#000000"/><path d="M245.6 188.3 247.4 187.7 249.1 188.3" stroke="#28E2E5"/><path d="M245.7 188 247.4 181.8 249.2 188.1" stroke="#000000"/><path d="M226.6 188.2 228.3 187.7 230.1 188.2" stroke="#2297E6"/><path d="M276.4 188.3 278.2 187.8 279.9 188.3" stroke="#28E2E5"/><path d="M240.5 188.2 242.2 187.4 244 188.2" stroke="#CD0BBC"/><path d="M285.4 188.2 287.2 187.7 288.9 186.8 290.7 188.2" stroke="#DF536B"/><path d="M272.5 187.8 274.3 184.5 276 188" stroke="#CD0BBC"/><path d="M112.3 188.3 114 187.7 115.8 188.3" stroke="#CD0BBC"/><path d="M302.2 188.2 303.9 186.1 305.7 185.5 307.4 188.2" stroke="#61D04F"/><path d="M297.9 188.1 299.6 186.4 301.4 183.5 303.1 186.8 304.9 188.1" stroke="#2297E6"/><path d="M255.6 188.1 257.4 186.5 259.1 188.1" stroke="#2297E6"/><path d="M257 188.3 258.8 187.9 260.5 188.1 262.2 188.3" stroke="#DF536B"/><path d="M308.4 188.1 310.1 185 311.9 183.6 313.6 188.1" stroke="#CD0BBC"/><path d="M243.1 188.3 244.8 187.4 246.6 187.7 248.3 188.3" stroke="#61D04F"/><path d="M292.7 188.1 294.5 187 296.2 188.3" stroke="#61D04F"/><path d="M259.2 188 260.9 183.1 262.6 186.1 264.4 188" stroke="#DF536B"/><path d="M261.8 188.1 263.6 183.7 265.3 188.2" stroke="#DF536B"/><path d="M296.5 188.2 298.3 187.4 300 188.3" stroke="#28E2E5"/><path d="M314.7 188.3 316.4 188.1 318.2 187.8 319.9 187.9 321.7 188.3" stroke="#CD0BBC"/><path d="M260 188 261.7 185.5 263.5 188.1" stroke="#CD0BBC"/><path d="M66.1 188.3 67.9 188.1 69.6 187.6 71.4 187.9 73.1 188.3" stroke="#61D04F"/><path d="M219.3 187.8 221.1 177.4 222.8 181.2 224.6 187.8" stroke="#CD0BBC"/><path d="M301.2 187.7 303 176.2 304.7 179 306.5 187.7" stroke="#CD0BBC"/><path d="M306.5 188.2 308.2 186.2 310 188.1" stroke="#2297E6"/><path d="M231.7 188.3 233.5 188.1 235.2 187.9 237 188.1 238.7 188.3" stroke="#28E2E5"/><path d="M234.6 187.7 236.4 183.6 238.1 176.7 239.8 187.7" stroke="#2297E6"/><path d="M266.9 188.3 268.7 187.3 270.4 188.3" stroke="#DF536B"/><path d="M98.3 188.2 100.1 186.9 101.8 188.2" stroke="#DF536B"/><path d="M119.6 188.2 121.4 187.4 123.1 187.2 124.9 187.9 126.6 188.2" stroke="#CD0BBC"/><path d="M189.9 188.3 191.6 187.8 193.4 187.5 195.1 188.3" stroke="#CD0BBC"/><path d="M78.7 188.2 80.4 187.5 82.2 188.2" stroke="#CD0BBC"/><path d="M312.5 187.7 314.2 180.4 316 188.1" stroke="#CD0BBC"/><path d="M272.3 188.3 274 187.4 275.8 187.9 277.5 188.3" stroke="#000000"/><path d="M233.8 188.2 235.5 187 237.3 188.2" stroke="#2297E6"/><path d="M285.4 188.3 287.2 187.3 288.9 188.2" stroke="#CD0BBC"/><path d="M284.3 188 286.1 183.8 287.8 181.6 289.6 188" stroke="#28E2E5"/><path d="M301.7 188.2 303.4 187.3 305.2 188.2" stroke="#CD0BBC"/><path d="M124.1 188.3 125.8 187.9 127.6 188.3" stroke="#28E2E5"/><path d="M230.9 188 232.7 184.6 234.4 181.8 236.2 185.6 237.9 188" stroke="#DF536B"/><path d="M200.8 188.2 202.5 187.5 204.3 188.2" stroke="#DF536B"/><path d="M86 188.2 87.7 187.3 89.5 188.2" stroke="#28E2E5"/><path d="M301.4 188.3 303.2 184.3 304.9 188" stroke="#DF536B"/><path d="M197.4 188.3 199.2 187.7 200.9 188 202.7 188.3" stroke="#CD0BBC"/><path d="M291 188.2 292.7 187.5 294.5 186.8 296.2 188.2" stroke="#2297E6"/><path d="M254.4 187.5 256.1 181.6 257.9 188.1" stroke="#CD0BBC"/><path d="M257.4 188.2 259.1 187.4 260.9 187.1 262.6 188.2" stroke="#DF536B"/><path d="M244.3 188.1 246 184.8 247.8 187.9" stroke="#CD0BBC"/><path d="M187.6 187.2 189.4 172.4 191.1 166.5 192.8 177 194.6 187.2" stroke="#61D04F"/><path d="M155 188.2 156.7 187 158.5 188.2" stroke="#28E2E5"/><path d="M209.3 187.1 211 164.5 212.7 179.6 214.5 187.1" stroke="#2297E6"/><path d="M134.4 188.3 136.1 183.4 137.8 187.8" stroke="#000000"/><path d="M196.3 188.2 198 187.7 199.8 187.2 201.5 188.2" stroke="#28E2E5"/><path d="M210.1 188.3 211.9 187.7 213.6 188.2" stroke="#000000"/><path d="M278.5 187.8 280.3 185.4 282 179.2 283.8 183.4 285.5 187.8" stroke="#2297E6"/><path d="M227 188 228.8 184.5 230.5 188.2" stroke="#2297E6"/><path d="M235.9 187.9 237.7 185.1 239.4 187.9" stroke="#000000"/><path d="M104.3 188.3 106.1 187.9 107.8 188.3" stroke="#61D04F"/><path d="M214.7 188.1 216.4 186.4 218.2 184.8 219.9 188.1" stroke="#000000"/><path d="M58.2 188.2 59.9 186.7 61.7 188.1" stroke="#2297E6"/><path d="M266.8 188.2 268.6 185.5 270.3 187.3 272.1 188.2" stroke="#28E2E5"/><path d="M274.4 188.2 276.1 186 277.9 185.4 279.6 187.1 281.4 188.2" stroke="#CD0BBC"/><path d="M287.2 188 289 186 290.7 188" stroke="#DF536B"/><path d="M278.6 188.2 280.4 186.5 282.1 187.3 283.9 188.2" stroke="#000000"/><path d="M218.6 188 220.3 185.8 222 181.9 223.8 185.7 225.5 188" stroke="#61D04F"/><path d="M285.7 188.1 287.4 186.2 289.2 183.5 290.9 188.1" stroke="#2297E6"/><path d="M93.5 188.3 95.2 187.6 97 188.2" stroke="#DF536B"/><path d="M186.2 188.1 188 186.4 189.7 188.2" stroke="#28E2E5"/><path d="M93.7 188.3 95.4 187.9 97.2 188.3" stroke="#28E2E5"/><path d="M143.4 188.1 145.2 187.2 146.9 188.2" stroke="#61D04F"/><path d="M104.2 188.3 106 188 107.7 187.5 109.5 187.7 111.2 188.3" stroke="#28E2E5"/><path d="M312.2 188.2 314 186.5 315.7 185.6 317.4 187.4 319.2 188.2" stroke="#CD0BBC"/><path d="M294.9 188 296.6 184.3 298.4 182.9 300.1 184.2 301.9 188" stroke="#28E2E5"/><path d="M262.1 188.2 263.9 186.7 265.6 187.4 267.4 188.2" stroke="#000000"/><path d="M245.9 188.1 247.6 183.2 249.4 188.1" stroke="#28E2E5"/><path d="M213.8 188.2 215.6 187.3 217.3 186.6 219.1 188.2" stroke="#CD0BBC"/><path d="M239.7 188.3 241.4 187.9 243.2 187.7 244.9 187.9 246.7 188.3" stroke="#2297E6"/><path d="M202.3 188.3 204.1 187.7 205.8 188.3" stroke="#CD0BBC"/><path d="M210.6 188.3 212.4 186.8 214.1 188.1" stroke="#2297E6"/><path d="M217.8 185.3 219.5 154.1 221.2 187.9" stroke="#2297E6"/><path d="M229 187.8 230.8 184.5 232.5 188.3" stroke="#2297E6"/><path d="M259.2 188.3 261 188 262.7 187.8 264.5 188.3" stroke="#000000"/><path d="M299.1 188.1 300.8 186.8 302.6 188.1" stroke="#000000"/><path d="M276.3 187.7 278.1 180 279.8 175.4 281.6 187.7" stroke="#000000"/><path d="M216.8 188.1 218.6 183.1 220.3 187.6" stroke="#2297E6"/><path d="M272.2 188.3 274 187.8 275.7 187.4 277.4 188.3" stroke="#2297E6"/><path d="M165.3 188.1 167.1 186.7 168.8 188.2" stroke="#2297E6"/><path d="M188.6 188.2 190.4 187.2 192.1 187.5 193.9 188.2" stroke="#000000"/><path d="M115.6 187.7 117.3 181.4 119 188.2" stroke="#DF536B"/><path d="M272.6 188.3 274.3 187.6 276.1 188.3" stroke="#DF536B"/><path d="M208.5 188.3 210.2 187.3 212 188.2" stroke="#000000"/><path d="M265.7 188.2 267.4 186.8 269.1 187.3 270.9 188.2" stroke="#000000"/><path d="M187.8 188.1 189.6 186.1 191.3 188.1" stroke="#CD0BBC"/><path d="M193 188.2 194.7 187.1 196.5 187.8 198.2 188.2" stroke="#DF536B"/><path d="M299.4 188 301.2 184.3 302.9 187.9" stroke="#000000"/><path d="M290.2 188.2 292 182.7 293.7 187.8" stroke="#DF536B"/><path d="M95.9 188.3 97.7 187.7 99.4 187.5 101.2 187.7 102.9 188.3" stroke="#DF536B"/><path d="M315.1 188.3 316.9 187.8 318.6 188.1 320.4 188.3" stroke="#28E2E5"/><path d="M259.8 187.6 261.5 182.6 263.3 187.8" stroke="#28E2E5"/><path d="M296.3 188.2 298 186.8 299.8 188.3" stroke="#2297E6"/><path d="M169 188.2 170.7 186.9 172.5 188.3" stroke="#DF536B"/><path d="M303.2 188.2 304.9 186.3 306.7 185.3 308.4 188.2" stroke="#28E2E5"/><path d="M245.4 188.2 247.1 186.8 248.8 188.1" stroke="#000000"/><path d="M236.3 188.3 238 188.1 239.8 187.9 241.5 188 243.3 188.3" stroke="#000000"/><path d="M88.7 188.3 90.5 187.8 92.2 187.6 94 187.8 95.7 188.3" stroke="#000000"/><path d="M303.2 188.3 305 187.4 306.7 188.2" stroke="#2297E6"/><path d="M237.2 188.3 239 187.9 240.7 188.1 242.5 188.3" stroke="#61D04F"/><path d="M230.5 188.2 232.2 187.4 234 187 235.7 187.3 237.5 188.2" stroke="#CD0BBC"/><path d="M196.5 187.9 198.3 178.1 200 187.9" stroke="#000000"/><path d="M284.3 188.3 286 181.9 287.8 187.8" stroke="#000000"/><path d="M242.1 188.2 243.9 187.5 245.6 187.1 247.4 187.4 249.1 188.2" stroke="#61D04F"/><path d="M182.5 188.2 184.3 186.3 186 188.2" stroke="#DF536B"/><path d="M315.2 187.9 317 183.6 318.7 187.9" stroke="#DF536B"/><path d="M229.7 188.2 231.4 182.6 233.2 187.6" stroke="#2297E6"/><path d="M278.8 188.1 280.6 187 282.3 188.1" stroke="#2297E6"/><path d="M198.4 188.3 200.2 188 201.9 187.5 203.7 188.3" stroke="#000000"/><path d="M198 188.1 199.7 184.6 201.5 183.5 203.2 185.3 205 188.1" stroke="#CD0BBC"/><path d="M192.2 188.1 193.9 186.5 195.7 185.1 197.4 187.2 199.2 188.1" stroke="#CD0BBC"/><path d="M260.2 188.2 262 186.8 263.7 188.3" stroke="#28E2E5"/><path d="M184 188.2 185.8 187.5 187.5 186.8 189.3 188.2" stroke="#DF536B"/><path d="M187.5 188.3 189.2 188 191 187.9 192.7 188.3" stroke="#28E2E5"/><path d="M235.6 187.9 237.4 183.3 239.1 181.1 240.9 187.9" stroke="#28E2E5"/><path d="M272 188.2 273.8 186.9 275.5 188.3" stroke="#28E2E5"/><path d="M88.9 188.2 90.7 187.7 92.4 188.2" stroke="#DF536B"/><path d="M306 188.3 307.7 187.9 309.5 188.3" stroke="#000000"/><path d="M305.5 187.7 307.2 180.3 309 187.6" stroke="#DF536B"/><path d="M208.7 188.2 210.5 187.2 212.2 188.2" stroke="#28E2E5"/><path d="M264.5 187.8 266.3 182.7 268 188" stroke="#DF536B"/><path d="M303.6 188.2 305.3 186.6 307.1 188.1" stroke="#000000"/><path d="M163.3 188.3 165.1 187.9 166.8 188.3" stroke="#61D04F"/><path d="M253 188.2 254.7 187.2 256.5 188.2" stroke="#61D04F"/><path d="M197.7 187.1 199.4 179.7 201.2 187" stroke="#28E2E5"/><path d="M289.2 188.2 290.9 186.9 292.7 186 294.4 188.2" stroke="#CD0BBC"/><path d="M230 186.7 231.8 175.5 233.5 186.9" stroke="#DF536B"/><path d="M284.7 188 286.5 185 288.2 181.6 290 188" stroke="#CD0BBC"/><path d="M271.1 188.3 272.8 187.8 274.6 188.3" stroke="#28E2E5"/><path d="M294.5 188.1 296.3 183.3 298 187.8" stroke="#000000"/><path d="M177 188.1 178.7 186.3 180.4 188.2" stroke="#CD0BBC"/><path d="M291.1 188.1 292.9 186.7 294.6 188.2" stroke="#61D04F"/><path d="M306.9 188.1 308.6 183 310.4 187.6" stroke="#000000"/><path d="M295.1 188 296.9 185.9 298.6 188.3" stroke="#CD0BBC"/><path d="M249.3 186.7 251 175.9 252.7 186.6" stroke="#2297E6"/><path d="M254.7 188.3 256.5 187.4 258.2 188 260 188.3" stroke="#000000"/><path d="M178.8 188.3 180.6 186.4 182.3 188.1" stroke="#DF536B"/><path d="M251.9 188.1 253.6 186.8 255.4 185 257.1 186.3 258.9 188.1" stroke="#DF536B"/><path d="M307.6 186.7 309.3 176.6 311.1 187.2" stroke="#000000"/><path d="M76.4 188.2 78.1 186.8 79.8 188.2" stroke="#DF536B"/><path d="M299.6 188 301.4 185.9 303.1 188.1" stroke="#28E2E5"/><path d="M301.1 188.1 302.9 186.1 304.6 188" stroke="#CD0BBC"/><path d="M127.2 188.3 129 187.8 130.7 187.9 132.5 188.3" stroke="#61D04F"/><path d="M105.1 187.6 106.8 175 108.5 187.4" stroke="#61D04F"/><path d="M134.1 188.2 135.9 186.9 137.6 187.7 139.4 188.2" stroke="#000000"/><path d="M182.1 188.2 183.9 187.6 185.6 188.2" stroke="#DF536B"/><path d="M300.6 188.2 302.3 185.7 304.1 186.3 305.8 188.2" stroke="#61D04F"/><path d="M261.8 186.5 263.5 152.5 265.2 169.3 267 186.5" stroke="#61D04F"/><path d="M309.4 187.6 311.2 183.7 312.9 188" stroke="#61D04F"/><path d="M218.1 188.3 219.8 187.7 221.5 188.3" stroke="#28E2E5"/><path d="M239.6 188.3 241.3 187.7 243.1 188 244.8 188.3" stroke="#28E2E5"/><path d="M281.1 187.1 282.8 163.5 284.5 185.5" stroke="#DF536B"/><path d="M139 188.2 140.7 187.6 142.5 186.9 144.2 188.2" stroke="#28E2E5"/><path d="M231.3 187.9 233 180.4 234.8 184.9 236.5 187.9" stroke="#DF536B"/><path d="M66.2 188.2 67.9 187.5 69.7 188.2" stroke="#DF536B"/><path d="M248.7 188.2 250.5 187.2 252.2 188.2" stroke="#000000"/><path d="M214 188.3 215.7 187.7 217.5 188.3" stroke="#61D04F"/><path d="M275.8 188.3 277.5 187.9 279.3 187.4 281 187.9 282.8 188.3" stroke="#2297E6"/><path d="M117.4 188.3 119.2 187.3 120.9 188.2" stroke="#2297E6"/><path d="M196.4 188 198.2 185.8 199.9 181.9 201.7 184.3 203.4 188" stroke="#2297E6"/><path d="M237.6 188.2 239.3 185.9 241.1 188.1" stroke="#28E2E5"/><path d="M218.9 188.2 220.7 187.3 222.4 187 224.2 187.8 225.9 188.2" stroke="#CD0BBC"/><path d="M267.9 188.1 269.7 186.5 271.4 183.7 273.2 186.5 274.9 188.1" stroke="#2297E6"/><path d="M232 188.2 233.8 187.5 235.5 188.2" stroke="#DF536B"/><path d="M315.5 188 317.2 184.7 319 182.8 320.7 188" stroke="#CD0BBC"/><path d="M150.3 188.3 152 188 153.8 187.8 155.5 188 157.3 188.3" stroke="#61D04F"/><path d="M157.4 188.1 159.1 186.5 160.9 188.3" stroke="#DF536B"/><path d="M284.7 188.2 286.5 187 288.2 185.7 290 187.4 291.7 188.2" stroke="#000000"/><path d="M219.9 187.4 221.7 179.2 223.4 170.5 225.1 176.5 226.9 187.4" stroke="#61D04F"/><path d="M268 188.2 269.7 187.8 271.5 187.2 273.2 187.8 275 188.2" stroke="#CD0BBC"/><path d="M185.7 182.2 187.4 143.6 189.1 186.5" stroke="#61D04F"/><path d="M202.1 188.3 203.8 187.8 205.6 187.5 207.3 188.3" stroke="#28E2E5"/><path d="M240.1 188.3 241.9 187.9 243.6 188.1 245.4 188.3" stroke="#61D04F"/><path d="M250.9 188.3 252.6 184.7 254.4 188.1" stroke="#000000"/><path d="M84 188.3 85.7 187.8 87.5 187.4 89.2 187.9 91 188.3" stroke="#CD0BBC"/><path d="M263.1 188.3 264.8 188 266.6 187.5 268.3 188 270.1 188.3" stroke="#2297E6"/><path d="M273.1 188.3 274.9 187.3 276.6 188.3" stroke="#CD0BBC"/><path d="M313 188.1 314.8 185.4 316.5 187.9" stroke="#61D04F"/><path d="M281.3 188.3 283.1 187.8 284.8 187.5 286.6 187.8 288.3 188.3" stroke="#000000"/><path d="M261.6 187.9 263.4 182.4 265.1 180 266.9 185.6 268.6 187.9" stroke="#61D04F"/><path d="M230.4 188.3 232.2 187.4 233.9 187.8 235.7 188.3" stroke="#28E2E5"/><path d="M286.3 187.7 288.1 183.5 289.8 188" stroke="#61D04F"/><path d="M127.8 187.4 129.5 180.7 131.2 187.4" stroke="#28E2E5"/><path d="M205.5 188.2 207.2 185.1 208.9 188.1" stroke="#28E2E5"/><path d="M290.1 187.9 291.8 185.7 293.6 187.9" stroke="#000000"/><path d="M247.4 188.3 249.2 187.9 250.9 187.5 252.7 187.8 254.4 188.3" stroke="#2297E6"/><path d="M135.3 188.1 137.1 186 138.8 188.3" stroke="#2297E6"/><path d="M226.6 188.1 228.4 186.9 230.1 188.2" stroke="#28E2E5"/><path d="M290.9 188.1 292.6 187 294.4 188.3" stroke="#DF536B"/><path d="M258.2 187.5 259.9 170.5 261.6 185.6" stroke="#61D04F"/><path d="M293.3 188.3 295.1 187.9 296.8 188.3" stroke="#28E2E5"/><path d="M287.6 188.2 289.4 186.8 291.1 188.2" stroke="#61D04F"/><path d="M234.7 187.4 236.5 176.2 238.2 187.3" stroke="#28E2E5"/><path d="M252.3 188.3 254 187.4 255.8 188.3" stroke="#DF536B"/><path d="M282.8 188.2 284.5 187.2 286.2 188.2" stroke="#DF536B"/><path d="M178.4 187.9 180.1 185.6 181.8 188.2" stroke="#000000"/><path d="M220.7 187.8 222.5 182.3 224.2 178.6 226 182 227.7 187.8" stroke="#28E2E5"/><path d="M304.6 188 306.4 182.9 308.1 186.4 309.9 188" stroke="#61D04F"/><path d="M305.7 187.6 307.5 177.3 309.2 173.6 310.9 187.6" stroke="#CD0BBC"/><path d="M284.1 188.1 285.9 183.4 287.6 185.3 289.4 188.1" stroke="#CD0BBC"/><path d="M307.5 188.3 309.2 187.8 311 187.9 312.7 188.3" stroke="#000000"/><path d="M99.8 188.3 101.5 187.5 103.3 188.2" stroke="#2297E6"/><path d="M170.7 188.2 172.5 186.3 174.2 188.1" stroke="#CD0BBC"/><path d="M283.7 187.9 285.5 182.8 287.2 187.6" stroke="#28E2E5"/><path d="M153.3 188.3 155.1 187.9 156.8 187.7 158.6 188.3" stroke="#000000"/><path d="M186.4 188.2 188.2 187.2 189.9 186.6 191.7 187.5 193.4 188.2" stroke="#2297E6"/><path d="M304.2 188.2 305.9 187.1 307.7 188.2" stroke="#CD0BBC"/><path d="M219 187.8 220.7 182 222.5 177.7 224.2 187.8" stroke="#61D04F"/><path d="M282.7 188.3 284.5 187.2 286.2 188.2" stroke="#28E2E5"/><path d="M312.3 188.1 314.1 187.2 315.8 185.1 317.6 187 319.3 188.1" stroke="#2297E6"/><path d="M285.9 188.1 287.6 184.9 289.4 186.1 291.1 188.1" stroke="#CD0BBC"/><path d="M222.7 188.3 224.5 187.9 226.2 188.3" stroke="#61D04F"/><path d="M262.5 188.2 264.3 187.3 266 186.3 267.8 187.3 269.5 188.2" stroke="#2297E6"/><path d="M210.8 188 212.5 185.8 214.3 188" stroke="#CD0BBC"/><path d="M194 188.2 195.8 187.5 197.5 188.3" stroke="#DF536B"/><path d="M289.1 188 290.8 185.7 292.6 188.2" stroke="#2297E6"/><path d="M222.4 187.9 224.1 181.2 225.9 187.9" stroke="#000000"/><path d="M281.3 187.8 283.1 180.7 284.8 187.7" stroke="#28E2E5"/><path d="M236.3 188.2 238 187.8 239.8 188.3" stroke="#000000"/><path d="M193 188.3 194.7 187.9 196.5 187.8 198.2 187.9 200 188.3" stroke="#000000"/><path d="M279.7 188.1 281.4 183.9 283.2 187.9" stroke="#61D04F"/><path d="M247.2 188.3 248.9 186.8 250.7 188.3" stroke="#2297E6"/><path d="M229.9 187.3 231.6 179.1 233.4 187.3" stroke="#000000"/><path d="M272.9 187.8 274.6 184.5 276.4 188" stroke="#CD0BBC"/><path d="M70.2 188.3 72 188 73.7 187.8 75.5 188.3" stroke="#28E2E5"/><path d="M312 188.2 313.7 187.4 315.5 187 317.2 188.2" stroke="#DF536B"/><path d="M204.1 188.3 205.8 187.9 207.6 188.3" stroke="#28E2E5"/><path d="M105.6 188.3 107.4 187.8 109.1 187.5 110.9 188 112.6 188.3" stroke="#DF536B"/><path d="M188.7 188.2 190.5 187.7 192.2 188.3" stroke="#2297E6"/><path d="M209.9 188 211.6 181.5 213.4 184.7 215.1 188" stroke="#CD0BBC"/><path d="M311.2 188.2 313 187.4 314.7 188.2" stroke="#DF536B"/><path d="M285.1 188.3 286.9 187.9 288.6 188.3" stroke="#CD0BBC"/><path d="M121.9 188.3 123.6 188 125.4 187.5 127.1 187.9 128.9 188.3" stroke="#CD0BBC"/><path d="M110.9 188.3 112.6 187.3 114.4 188.2" stroke="#2297E6"/><path d="M287 188.1 288.8 185 290.5 188.1" stroke="#28E2E5"/><path d="M293.6 188.2 295.3 187.2 297.1 188.2" stroke="#CD0BBC"/><path d="M231 188.1 232.7 186.7 234.5 188.1" stroke="#000000"/><path d="M143.5 188.2 145.2 187.6 146.9 186.6 148.7 188.2" stroke="#000000"/><path d="M314.5 188.2 316.3 186.8 318 185.6 319.8 187.1 321.5 188.2" stroke="#000000"/><path d="M279.9 188.3 281.6 188.1 283.4 187.8 285.1 188.1 286.9 188.3" stroke="#61D04F"/><path d="M187.3 187.7 189.1 179.3 190.8 188.1" stroke="#28E2E5"/><path d="M274.3 188.2 276.1 187.6 277.8 186.5 279.6 188.2" stroke="#CD0BBC"/><path d="M279.6 188.3 281.4 187.7 283.1 188.3" stroke="#000000"/><path d="M254.5 188.1 256.2 186.8 258 184.2 259.7 188.1" stroke="#61D04F"/><path d="M283.7 188 285.5 186.3 287.2 183 288.9 184.6 290.7 188" stroke="#000000"/><path d="M276.9 187.7 278.6 184.5 280.4 188" stroke="#DF536B"/><path d="M253.9 186.7 255.6 142.3 257.3 183.9" stroke="#DF536B"/><path d="M302.8 188.3 304.5 187.6 306.3 187.4 308 188 309.7 188.3" stroke="#CD0BBC"/><path d="M210.8 186.3 212.5 148.1 214.2 170.2 216 186.3" stroke="#61D04F"/><path d="M301.1 188.3 302.9 187.9 304.6 188.3" stroke="#61D04F"/><path d="M258.3 188.3 260.1 188 261.8 187.9 263.6 188 265.3 188.3" stroke="#DF536B"/><path d="M308.7 188.3 310.4 187 312.2 188.2" stroke="#2297E6"/><path d="M231.6 188 233.3 183 235.1 187.5" stroke="#000000"/><path d="M134.4 188.2 136.2 186.7 137.9 187.7 139.7 188.2" stroke="#28E2E5"/><path d="M302.6 188.2 304.3 186.6 306.1 188.2" stroke="#000000"/><path d="M68.8 188.2 70.6 186.6 72.3 188.2" stroke="#28E2E5"/><path d="M191.2 188.3 192.9 187.3 194.7 188.3" stroke="#DF536B"/><path d="M294.2 188.2 295.9 184.9 297.7 188.1" stroke="#DF536B"/><path d="M248.4 188.1 250.2 186.2 251.9 185.1 253.7 186.2 255.4 188.1" stroke="#CD0BBC"/><path d="M243.6 188.3 245.3 187.9 247.1 187.7 248.8 188.3" stroke="#28E2E5"/><path d="M200.6 188.2 202.4 187.6 204.1 188.3" stroke="#DF536B"/><path d="M123.3 188 125 184.5 126.8 187.9" stroke="#DF536B"/><path d="M230.1 188.2 231.8 187.4 233.6 188.2" stroke="#000000"/><path d="M239.3 188.2 241.1 188 242.8 187.3 244.6 188.2" stroke="#DF536B"/><path d="M180.5 188.2 182.3 187.6 184 188.2" stroke="#61D04F"/><path d="M288.4 188.3 290.1 187.9 291.8 188.2 293.6 188.3" stroke="#000000"/><path d="M64.2 188 66 186.5 67.7 188.1" stroke="#DF536B"/><path d="M265.5 188.2 267.2 186.7 269 188.2" stroke="#61D04F"/><path d="M242.2 188.2 244 187.1 245.7 186.6 247.5 187.4 249.2 188.2" stroke="#000000"/><path d="M218.5 188 220.3 183.7 222 187.8" stroke="#DF536B"/><path d="M292.7 188.1 294.5 186.8 296.2 188.2" stroke="#CD0BBC"/><path d="M203.1 188.2 204.9 183.7 206.6 188.1" stroke="#000000"/><path d="M164.5 188.2 166.2 187.3 168 188.3" stroke="#DF536B"/><path d="M203.1 187.8 204.8 181.6 206.6 177.6 208.3 187.8" stroke="#61D04F"/><path d="M277 188.3 278.7 188.1 280.5 187.6 282.2 188.3" stroke="#61D04F"/><path d="M215.9 188.3 217.7 187.9 219.4 187.3 221.2 188.3" stroke="#CD0BBC"/><path d="M303.8 186.5 305.5 170.2 307.2 186.7" stroke="#61D04F"/><path d="M293.2 187.9 294.9 183 296.7 181 298.4 187.9" stroke="#000000"/><path d="M98.2 188.3 99.9 187.8 101.7 187.3 103.4 187.8 105.2 188.3" stroke="#CD0BBC"/><path d="M284.7 188.3 286.4 183.7 288.1 187.8" stroke="#000000"/><path d="M293.7 187.8 295.4 182.8 297.2 188.2" stroke="#28E2E5"/><path d="M69.7 188.3 71.4 187.7 73.2 187.5 74.9 188.3" stroke="#61D04F"/><path d="M244.9 188.3 246.7 187.4 248.4 188.2" stroke="#28E2E5"/><path d="M275.7 188 277.4 185.3 279.2 188.1" stroke="#DF536B"/><path d="M121.3 188.1 123 187 124.8 188.1" stroke="#CD0BBC"/><path d="M245.4 187.8 247.2 178.1 248.9 183.1 250.7 187.8" stroke="#2297E6"/><path d="M113.4 188.2 115.1 187.8 116.9 187.1 118.6 187.9 120.4 188.2" stroke="#CD0BBC"/><path d="M202.5 188.3 204.2 186.6 206 188.1" stroke="#000000"/><path d="M294.7 187.8 296.5 178.8 298.2 183.6 300 187.8" stroke="#000000"/><path d="M111.7 188.2 113.5 187 115.2 187.4 117 188.2" stroke="#61D04F"/><path d="M213.5 187.7 215.3 183.6 217 188.1" stroke="#DF536B"/><path d="M259.8 188.3 261.6 187.7 263.3 188.3" stroke="#2297E6"/><path d="M77.9 188.3 79.7 188.1 81.4 187.9 83.2 188 84.9 188.3" stroke="#CD0BBC"/><path d="M256.5 187.4 258.2 177.4 259.9 187.2" stroke="#DF536B"/><path d="M194.5 188.2 196.2 187.1 198 188.2" stroke="#2297E6"/><path d="M92.2 187.7 94 181.1 95.7 176.1 97.4 187.7" stroke="#2297E6"/><path d="M135.1 188.3 136.8 187.8 138.6 188.2" stroke="#61D04F"/><path d="M75.8 188.3 77.5 187.8 79.3 188.1 81 188.3" stroke="#000000"/><path d="M247.3 188.3 249.1 183.8 250.8 188.2" stroke="#DF536B"/><path d="M309.2 188.3 311 187.9 312.7 188.1 314.5 188.3" stroke="#61D04F"/><path d="M153.3 188.2 155 186.9 156.7 188.1" stroke="#DF536B"/><path d="M263.8 188.2 265.6 186.7 267.3 188.3" stroke="#000000"/><path d="M262.8 188.2 264.5 187.8 266.3 188.3" stroke="#2297E6"/><path d="M257.4 188.3 259.1 187.9 260.9 188.3" stroke="#CD0BBC"/><path d="M191.2 188.3 193 187.7 194.7 187.9 196.5 188.3" stroke="#DF536B"/><path d="M234.2 188.2 236 187.6 237.7 187.2 239.5 188.2" stroke="#61D04F"/><path d="M87.7 188.3 89.5 187.7 91.2 188.3" stroke="#CD0BBC"/><path d="M307.8 186.1 309.5 144 311.2 158 313 186.1" stroke="#61D04F"/><path d="M316.4 188 318.2 186.4 319.9 188.2" stroke="#000000"/><path d="M229.3 188.3 231 187.4 232.8 188.3" stroke="#CD0BBC"/><path d="M279.6 188.1 281.3 186.5 283.1 188.2" stroke="#CD0BBC"/><path d="M308.3 188.2 310 187.2 311.8 188.3" stroke="#000000"/><path d="M307.7 188.2 309.5 186.7 311.2 186.2 313 186.6 314.7 188.2" stroke="#CD0BBC"/><path d="M115.5 188.2 117.2 187.5 119 186.4 120.7 187.5 122.5 188.2" stroke="#28E2E5"/><path d="M311.4 188.1 313.1 185.9 314.9 185.3 316.6 188.1" stroke="#61D04F"/><path d="M303.3 188.2 305.1 187.8 306.8 187 308.6 187.7 310.3 188.2" stroke="#DF536B"/><path d="M286.2 188.3 287.9 187.5 289.7 188.2" stroke="#28E2E5"/><path d="M190.8 188.2 192.5 187.5 194.3 188.2" stroke="#2297E6"/><path d="M181.1 188.1 182.9 186.6 184.6 188.2" stroke="#61D04F"/><path d="M291 187.9 292.8 181.7 294.5 188.3" stroke="#2297E6"/><path d="M311.3 188.2 313 186.9 314.8 186.1 316.5 188.2" stroke="#DF536B"/><path d="M200.2 187.1 201.9 179.8 203.7 187.2" stroke="#CD0BBC"/><path d="M243.7 188.2 245.4 187.8 247.2 188.3" stroke="#2297E6"/><path d="M243.4 188.2 245.1 187.1 246.9 186.6 248.6 188.2" stroke="#61D04F"/><path d="M99.5 187.5 101.2 172.8 102.9 179.5 104.7 187.5" stroke="#000000"/><path d="M81.3 188.2 83.1 187.6 84.8 187 86.6 187.7 88.3 188.2" stroke="#000000"/><path d="M274.1 188.1 275.9 186.7 277.6 188.1" stroke="#000000"/><path d="M79.5 188.3 81.2 188.1 83 188 84.7 188.1 86.5 188.3" stroke="#000000"/><path d="M237.8 188.2 239.5 187.9 241.3 188.2" stroke="#2297E6"/><path d="M244.6 188 246.3 185.3 248.1 187.9" stroke="#28E2E5"/><path d="M304.6 187.1 306.3 175.5 308.1 187.3" stroke="#CD0BBC"/><path d="M184.6 188.2 186.4 187.4 188.1 188.2" stroke="#28E2E5"/><path d="M214.3 188.2 216.1 181.7 217.8 187.8" stroke="#2297E6"/><path d="M180.7 188.2 182.5 187.1 184.2 187.8 186 188.2" stroke="#61D04F"/><path d="M63.5 188.2 65.2 187.7 67 188.3" stroke="#CD0BBC"/><path d="M122.3 188 124 186.5 125.8 183 127.5 186.2 129.3 188" stroke="#DF536B"/><path d="M192.6 188.2 194.4 186.9 196.1 185.8 197.8 187.5 199.6 188.2" stroke="#2297E6"/><path d="M261.2 188.1 263 186.6 264.7 188.3" stroke="#CD0BBC"/><path d="M188.9 188.3 190.7 187.7 192.4 188.1 194.2 188.3" stroke="#000000"/><path d="M130.9 188.2 132.7 187.2 134.4 186.2 136.2 188.2" stroke="#61D04F"/><path d="M206.1 188.3 207.9 187.5 209.6 188.2" stroke="#61D04F"/><path d="M193.8 188.1 195.5 186.6 197.3 188.1" stroke="#DF536B"/><path d="M303.2 188.3 304.9 177.3 306.7 187.2" stroke="#61D04F"/><path d="M211.4 188.2 213.1 187.3 214.9 186.4 216.6 188.2" stroke="#28E2E5"/><path d="M167.2 188.3 168.9 186.8 170.7 188.2" stroke="#2297E6"/><path d="M156.7 188.3 158.4 187.7 160.2 188.3" stroke="#000000"/><path d="M292.8 188.3 294.6 187.6 296.3 188.2" stroke="#2297E6"/><path d="M93.7 188.2 95.5 187 97.2 188.2" stroke="#2297E6"/><path d="M285.3 188 287.1 184.7 288.8 188.1" stroke="#28E2E5"/><path d="M215.3 188.2 217 187.2 218.8 188.3" stroke="#000000"/><path d="M136.6 188.3 138.3 187.7 140.1 187.4 141.8 187.9 143.6 188.3" stroke="#61D04F"/><path d="M286.8 188.3 288.6 187 290.3 188.2" stroke="#000000"/><path d="M136.1 188.3 137.9 187.9 139.6 188.2" stroke="#000000"/><path d="M206.8 188.2 208.6 187.3 210.3 188.2" stroke="#28E2E5"/><path d="M173 188.3 174.8 187.7 176.5 188.3" stroke="#000000"/><path d="M271.5 188 273.2 183.4 275 188" stroke="#61D04F"/><path d="M212.3 186.5 214 161.6 215.7 186.3" stroke="#61D04F"/><path d="M270.5 188.2 272.2 187.6 274 188.3" stroke="#000000"/><path d="M275.5 188.2 277.2 187.3 279 186.9 280.7 188.2" stroke="#000000"/><path d="M270.2 188.2 271.9 187.2 273.7 185.7 275.4 188.2" stroke="#000000"/><path d="M292.4 188.2 294.1 187.1 295.9 188 297.6 188.2" stroke="#28E2E5"/><path d="M138.8 188.2 140.6 187.8 142.3 187.3 144.1 187.6 145.8 188.2" stroke="#CD0BBC"/><path d="M282.7 188.3 284.4 188 286.2 187.7 287.9 187.9 289.7 188.3" stroke="#DF536B"/><path d="M156.7 188.2 158.5 186.7 160.2 187.7 162 188.2" stroke="#CD0BBC"/><path d="M286.4 188.1 288.2 186.7 289.9 188.1" stroke="#2297E6"/><path d="M172.3 188.3 174 187 175.8 188.2" stroke="#CD0BBC"/><path d="M227 188.1 228.8 187.1 230.5 188.3" stroke="#61D04F"/><path d="M309 188.3 310.7 187.6 312.5 188.2" stroke="#61D04F"/><path d="M304.1 188.3 305.9 182.1 307.6 187.8" stroke="#DF536B"/><path d="M74.7 188.2 76.4 186.5 78.2 185.5 79.9 186.3 81.7 188.2" stroke="#61D04F"/><path d="M79.4 188.3 81.1 187.7 82.9 187.4 84.6 188.3" stroke="#CD0BBC"/><path d="M220 188.2 221.7 187.2 223.5 186.9 225.2 187.3 226.9 188.2" stroke="#28E2E5"/><path d="M176.1 188.2 177.8 186.7 179.6 188.2" stroke="#28E2E5"/><path d="M291.7 187.4 293.5 181.9 295.2 170.1 296.9 187.4" stroke="#28E2E5"/><path d="M188.9 188.2 190.6 185.9 192.3 187.3 194.1 188.2" stroke="#28E2E5"/><path d="M269.5 188.3 271.3 188.1 273 187.9 274.8 188.3" stroke="#2297E6"/><path d="M204.7 188.1 206.4 184.3 208.2 188" stroke="#CD0BBC"/><path d="M249.3 188.3 251 187.8 252.8 188.3" stroke="#DF536B"/><path d="M301.2 188.3 302.9 187.9 304.7 188.3" stroke="#28E2E5"/><path d="M246 188 247.8 179.7 249.5 188.3" stroke="#2297E6"/><path d="M271.8 187.7 273.5 183 275.3 175.8 277 187.7" stroke="#28E2E5"/><path d="M312.2 188.3 314 187.6 315.7 188.2" stroke="#CD0BBC"/><path d="M194.5 188.1 196.2 184.6 198 188" stroke="#000000"/><path d="M110.1 188.2 111.8 186.4 113.6 185.7 115.3 187.3 117.1 188.2" stroke="#28E2E5"/><path d="M281.2 187.9 283 184.8 284.7 180.5 286.5 187.9" stroke="#61D04F"/><path d="M192.3 188.2 194 187.6 195.8 188.3" stroke="#61D04F"/><path d="M267.5 188.1 269.2 187 271 188.3" stroke="#CD0BBC"/><path d="M306.8 188.3 308.5 186.8 310.3 188.2" stroke="#DF536B"/><path d="M148.9 188.2 150.6 187.8 152.4 188.3" stroke="#000000"/><path d="M160.8 188.2 162.5 187.5 164.2 187.2 166 188.2" stroke="#000000"/><path d="M213.4 188.2 215.2 187.6 216.9 188.3" stroke="#2297E6"/><path d="M316.6 187.8 318.4 178.5 320.1 184.8 321.9 187.8" stroke="#DF536B"/><path d="M306.3 188.3 308.1 187.8 309.8 188 311.6 188.3" stroke="#28E2E5"/><path d="M313.4 188.1 315.1 183.7 316.9 184.8 318.6 188.1" stroke="#CD0BBC"/><path d="M227.7 188.2 229.4 187.7 231.2 188.3" stroke="#61D04F"/><path d="M256.9 188.3 258.7 188 260.4 187.8 262.2 188.3" stroke="#CD0BBC"/><path d="M258.1 188.2 259.8 187.2 261.6 186.5 263.3 188.2" stroke="#000000"/><path d="M239.7 188.3 241.4 188.1 243.2 187.9 244.9 188 246.7 188.3" stroke="#DF536B"/><path d="M286.6 188.2 288.4 186.8 290.1 186.4 291.8 188.2" stroke="#CD0BBC"/><path d="M251.4 188.2 253.1 187.1 254.9 186.8 256.6 188.2" stroke="#61D04F"/><path d="M207.7 188.3 209.5 187.8 211.2 188.1 213 188.3" stroke="#CD0BBC"/><path d="M258.6 188 260.4 184.4 262.1 188.2" stroke="#CD0BBC"/><path d="M292.9 187.3 294.7 174.7 296.4 168.7 298.1 187.3" stroke="#CD0BBC"/><path d="M294.5 188.3 296.3 187.6 298 187.8 299.8 188.3" stroke="#28E2E5"/><path d="M97.6 188.3 99.4 187.7 101.1 188.1 102.9 188.3" stroke="#28E2E5"/><path d="M282.6 188.3 284.4 188 286.1 187.4 287.9 187.9 289.6 188.3" stroke="#000000"/><path d="M265.9 187 267.7 179.3 269.4 187.5" stroke="#CD0BBC"/><path d="M122.3 188.2 124.1 187.9 125.8 188.3" stroke="#28E2E5"/><path d="M316.3 187.9 318.1 184.4 319.8 187.7" stroke="#CD0BBC"/><path d="M181.5 188.2 183.3 187.8 185 187.3 186.8 187.6 188.5 188.2" stroke="#CD0BBC"/><path d="M209.5 187.8 211.3 183.1 213 187.7" stroke="#28E2E5"/><path d="M210.1 188.3 211.9 187.9 213.6 188.1 215.4 188.3" stroke="#000000"/><path d="M225.4 188.2 227.2 187.8 228.9 188.3" stroke="#CD0BBC"/><path d="M216.7 188.2 218.5 187 220.2 188.2" stroke="#2297E6"/><path d="M126.3 188.2 128.1 187.5 129.8 188.2" stroke="#28E2E5"/><path d="M162.8 187.7 164.6 180.5 166.3 176.3 168 187.7" stroke="#DF536B"/><path d="M194.6 188.2 196.4 186.3 198.1 187.1 199.9 188.2" stroke="#28E2E5"/><path d="M209.7 188.3 211.4 188 213.2 187.5 214.9 188 216.7 188.3" stroke="#61D04F"/><path d="M265.4 188.2 267.1 187.4 268.8 188.3" stroke="#2297E6"/><path d="M292.5 188.1 294.2 184.6 296 188.3" stroke="#28E2E5"/><path d="M290.2 188.2 291.9 187.7 293.6 188.3" stroke="#61D04F"/><path d="M264.8 188.1 266.5 186.7 268.3 188.3" stroke="#2297E6"/><path d="M236.5 188.1 238.2 184.7 240 187.9" stroke="#CD0BBC"/><path d="M286.9 188.1 288.7 182.9 290.4 187.5" stroke="#28E2E5"/><path d="M120.1 188.2 121.8 185.6 123.6 188.1" stroke="#CD0BBC"/><path d="M313.2 188.1 315 187.2 316.7 184.5 318.5 188.1" stroke="#000000"/><path d="M191.9 188.1 193.6 187 195.4 188.3" stroke="#61D04F"/><path d="M268.1 187.5 269.9 180.9 271.6 187.7" stroke="#2297E6"/><path d="M286.8 188.2 288.5 186.2 290.3 188" stroke="#2297E6"/><path d="M291.6 182.1 293.3 145.8 295 182.8" stroke="#DF536B"/><path d="M287.5 188.2 289.3 186.7 291 185.5 292.8 186.4 294.5 188.2" stroke="#000000"/><path d="M138 188.3 139.8 187.9 141.5 187.4 143.3 188 145 188.3" stroke="#2297E6"/><path d="M289.3 188.1 291.1 186.1 292.8 184.4 294.6 188.1" stroke="#DF536B"/><path d="M286.5 188.2 288.2 186.5 290 188.2" stroke="#000000"/><path d="M283.4 188.3 285.1 187.9 286.9 188.3" stroke="#CD0BBC"/><path d="M95.2 188.1 97 183.5 98.7 188.2" stroke="#CD0BBC"/><path d="M246.2 188 247.9 183.8 249.7 188.3" stroke="#CD0BBC"/><path d="M286.5 187.9 288.3 184.4 290 188.1" stroke="#2297E6"/><path d="M202.5 188.2 204.3 176 206 188" stroke="#61D04F"/><path d="M193 188.3 194.7 187.8 196.5 188.3" stroke="#2297E6"/><path d="M248.2 188.3 249.9 187.8 251.7 187.6 253.4 187.8 255.2 188.3" stroke="#28E2E5"/><path d="M292.2 188.2 294 187.3 295.7 188.2" stroke="#28E2E5"/><path d="M310.7 187.9 312.4 184.3 314.2 180.8 315.9 187.9" stroke="#2297E6"/><path d="M129.7 188.2 131.4 187.6 133.1 188.2" stroke="#DF536B"/><path d="M111.2 187.9 112.9 184.8 114.7 188" stroke="#61D04F"/><path d="M247.5 188.3 249.2 187.5 251 188.2" stroke="#28E2E5"/><path d="M188.3 188.2 190 187.7 191.8 187.1 193.5 188.2" stroke="#CD0BBC"/><path d="M261.3 188.2 263.1 186.1 264.8 188" stroke="#61D04F"/><path d="M242.8 188.2 244.6 187.1 246.3 186.7 248.1 188.2" stroke="#28E2E5"/><path d="M69 188.3 70.8 187.8 72.5 187.6 74.3 187.9 76 188.3" stroke="#61D04F"/><path d="M96.2 187.7 97.9 182.6 99.7 188" stroke="#CD0BBC"/><path d="M238.5 188.3 240.2 188.1 242 187.6 243.7 188 245.4 188.3" stroke="#61D04F"/><path d="M301.1 188.1 302.8 186.9 304.6 188.2" stroke="#DF536B"/><path d="M88.5 188.1 90.3 184.5 92 185.9 93.8 188.1" stroke="#28E2E5"/><path d="M159.7 188.2 161.4 187.8 163.2 188.3" stroke="#DF536B"/><path d="M291 188.1 292.7 185.3 294.5 183.3 296.2 188.1" stroke="#000000"/><path d="M299.6 187.9 301.4 181.1 303.1 183.3 304.9 187.9" stroke="#61D04F"/><path d="M237.2 188.3 238.9 187.3 240.7 187.6 242.4 188.3" stroke="#28E2E5"/><path d="M280 188.1 281.7 185.1 283.5 188.1" stroke="#000000"/><path d="M237.9 188.3 239.6 188 241.4 187.8 243.1 188.3" stroke="#000000"/><path d="M218.5 188.1 220.2 186.6 222 188.2" stroke="#DF536B"/><path d="M306.8 188.2 308.6 186.9 310.3 186 312.1 186.9 313.8 188.2" stroke="#000000"/><path d="M214.6 188.3 216.3 187.7 218 188 219.8 188.3" stroke="#000000"/><path d="M198.3 188 200.1 182.2 201.8 186.3 203.6 188" stroke="#2297E6"/><path d="M184.2 188.2 185.9 187.5 187.7 188.2" stroke="#CD0BBC"/><path d="M270.5 188.2 272.3 187.3 274 188.1" stroke="#61D04F"/><path d="M95.4 188.2 97.2 187.4 98.9 186.6 100.7 187.6 102.4 188.2" stroke="#CD0BBC"/><path d="M153.6 188.3 155.3 187.3 157.1 188.3" stroke="#28E2E5"/><path d="M268.2 188 270 181.8 271.7 188" stroke="#28E2E5"/><path d="M271.7 188.3 273.4 188 275.2 187.8 276.9 188.3" stroke="#DF536B"/><path d="M114.5 188.2 116.2 187 118 188.2" stroke="#CD0BBC"/><path d="M185.7 187.9 187.5 182.2 189.2 180.2 190.9 184.2 192.7 187.9" stroke="#61D04F"/><path d="M211.9 187.8 213.7 181.5 215.4 187.9" stroke="#DF536B"/><path d="M77.1 188.3 78.8 188.1 80.6 187.9 82.3 188.1 84.1 188.3" stroke="#61D04F"/><path d="M68.4 188.3 70.1 187.7 71.9 188.3" stroke="#2297E6"/><path d="M129.2 188 130.9 183.9 132.6 182.8 134.4 188" stroke="#000000"/><path d="M302.2 187.2 303.9 178.1 305.7 188" stroke="#CD0BBC"/><path d="M252.4 188.2 254.2 187.2 255.9 188.2" stroke="#DF536B"/><path d="M229.9 188 231.6 183.5 233.4 188.2" stroke="#28E2E5"/><path d="M310.6 188 312.3 182.7 314.1 186.4 315.8 188" stroke="#000000"/><path d="M106.8 186.5 108.5 151.8 110.2 159.3 112 186.5" stroke="#61D04F"/><path d="M73 188.2 74.7 187.4 76.5 186.7 78.2 187.7 80 188.2" stroke="#CD0BBC"/><path d="M276.4 188.1 278.1 184.9 279.9 183.8 281.6 185.2 283.4 188.1" stroke="#28E2E5"/><path d="M276.7 188.3 278.5 187.9 280.2 188.2" stroke="#28E2E5"/><path d="M227.9 188.3 229.6 188 231.4 187.7 233.1 187.9 234.9 188.3" stroke="#DF536B"/><path d="M292.5 188.3 294.2 187.9 296 188.3" stroke="#000000"/><path d="M300.4 187.7 302.1 184.1 303.9 175.8 305.6 182.5 307.3 187.7" stroke="#CD0BBC"/><path d="M302.2 188.2 303.9 186.6 305.7 188.3" stroke="#28E2E5"/><path d="M192.9 188.1 194.6 186.7 196.4 188.2" stroke="#DF536B"/><path d="M128.2 188.2 130 187.3 131.7 186.7 133.5 187.3 135.2 188.2" stroke="#61D04F"/><path d="M67.7 186.1 69.4 169.2 71.1 186.5" stroke="#28E2E5"/><path d="M256.5 188.1 258.3 185.1 260 183.9 261.8 185.1 263.5 188.1" stroke="#CD0BBC"/><path d="M193.8 188.3 195.6 187.2 197.3 188.1" stroke="#DF536B"/><path d="M98.7 188.3 100.5 188.1 102.2 187.7 104 188.3" stroke="#2297E6"/><path d="M257.5 188.3 259.2 187 261 188.3" stroke="#61D04F"/><path d="M256.7 188.2 258.4 187.7 260.2 187 261.9 187.8 263.7 188.2" stroke="#CD0BBC"/><path d="M290.2 188 292 184.9 293.7 182.7 295.4 188" stroke="#2297E6"/><path d="M288.7 188.1 290.4 186.5 292.2 188.1" stroke="#DF536B"/><path d="M60 188.3 61.8 187.7 63.5 188.1 65.3 188.3" stroke="#CD0BBC"/><path d="M248.7 187.3 250.4 180.1 252.2 188.1" stroke="#000000"/><path d="M261.5 188.2 263.3 187.7 265 187.1 266.8 187.8 268.5 188.2" stroke="#61D04F"/><path d="M214.8 188.3 216.6 187.7 218.3 188.3" stroke="#28E2E5"/><path d="M121.5 188.3 123.2 187.7 125 188 126.7 188.3" stroke="#61D04F"/><path d="M52.6 188.2 54.4 186.8 56.1 187.6 57.9 188.2" stroke="#DF536B"/><path d="M283.3 188.3 285 187.7 286.8 188.2" stroke="#2297E6"/><path d="M210.7 188.3 212.4 187.6 214.2 188.2" stroke="#61D04F"/><path d="M253.5 188.3 255.3 187.9 257 188.3" stroke="#2297E6"/><path d="M293.6 188.3 295.3 188 297.1 187.8 298.8 188.3" stroke="#CD0BBC"/><path d="M66.3 188.3 68 188 69.8 187.8 71.5 188.3" stroke="#DF536B"/><path d="M183.8 188.2 185.5 186.1 187.3 187.4 189 188.2" stroke="#CD0BBC"/><path d="M279.1 188.2 280.9 187.6 282.6 186.9 284.4 187.4 286.1 188.2" stroke="#28E2E5"/><path d="M242.1 188.3 243.9 187.8 245.6 188 247.4 188.3" stroke="#2297E6"/><path d="M245.1 188 246.8 186.4 248.6 183 250.3 188" stroke="#2297E6"/><path d="M269.6 188.2 271.4 187.8 273.1 188.3" stroke="#CD0BBC"/><path d="M246.7 188.2 248.5 187.7 250.2 188.3" stroke="#CD0BBC"/><path d="M59.3 188.2 61.1 187.1 62.8 188.2" stroke="#000000"/><path d="M195.9 188.3 197.6 187.8 199.4 188.3" stroke="#CD0BBC"/><path d="M244.8 188 246.5 185.4 248.3 188.1" stroke="#000000"/><path d="M104.4 188.2 106.1 187.6 107.9 188.2" stroke="#28E2E5"/><path d="M207.2 188.3 208.9 187.6 210.7 188.2" stroke="#61D04F"/><path d="M250.3 188.2 252 187.6 253.8 188.2" stroke="#DF536B"/><path d="M59 188.3 60.7 187.8 62.5 187.7 64.2 188.3" stroke="#CD0BBC"/><path d="M246.4 187.1 248.1 178.1 249.9 186.9" stroke="#000000"/><path d="M182.5 188.2 184.2 187.7 186 188.2" stroke="#28E2E5"/><path d="M249.3 188.3 251.1 187.9 252.8 187.7 254.6 188.3" stroke="#000000"/><path d="M77.5 188.3 79.3 185.8 81 188" stroke="#000000"/><path d="M270.8 188.3 272.6 186.9 274.3 188.1" stroke="#DF536B"/><path d="M161.5 188.1 163.2 185.6 164.9 188.3" stroke="#61D04F"/><path d="M295.7 188.1 297.4 186.9 299.2 184.6 300.9 186.4 302.7 188.1" stroke="#DF536B"/><path d="M309.2 188.1 310.9 183.5 312.7 188" stroke="#28E2E5"/><path d="M279.9 187.8 281.7 183.3 283.4 187.6" stroke="#61D04F"/><path d="M120.2 188.3 121.9 187.8 123.7 187.3 125.4 187.7 127.2 188.3" stroke="#DF536B"/><path d="M119.1 188.2 120.9 186.9 122.6 188.3" stroke="#000000"/><path d="M200.1 188.3 201.8 187.9 203.5 187.8 205.3 188.3" stroke="#28E2E5"/><path d="M199.6 188.2 201.3 186.6 203.1 188.2" stroke="#28E2E5"/><path d="M311.9 188.2 313.7 187.2 315.4 187.4 317.2 188.2" stroke="#2297E6"/><path d="M285.5 188.2 287.2 186.9 289 186.5 290.7 187.7 292.5 188.2" stroke="#28E2E5"/><path d="M299.6 187.8 301.4 182.7 303.1 178.2 304.9 187.8" stroke="#61D04F"/><path d="M299.8 188.3 301.6 188 303.3 187.9 305.1 188.3" stroke="#61D04F"/><path d="M191.8 188.3 193.5 187.8 195.3 187.6 197 188.3" stroke="#2297E6"/><path d="M216.1 188.3 217.9 187.8 219.6 187.5 221.4 188.3" stroke="#DF536B"/><path d="M210.2 188.2 212 186.7 213.7 187.5 215.5 188.2" stroke="#28E2E5"/><path d="M259.2 187.2 260.9 179.6 262.7 187.1" stroke="#000000"/><path d="M254.4 188 256.1 186.6 257.9 183 259.6 188" stroke="#DF536B"/><path d="M289.3 188.3 291.1 187.9 292.8 188.3" stroke="#CD0BBC"/><path d="M249.5 188 251.2 185.6 253 187.9" stroke="#61D04F"/><path d="M196.1 187.8 197.8 177.5 199.6 184 201.3 187.8" stroke="#DF536B"/><path d="M302.8 187.8 304.5 176.9 306.3 187.4" stroke="#28E2E5"/><path d="M247.9 187.9 249.7 184.6 251.4 188" stroke="#CD0BBC"/><path d="M307 188.3 308.7 187.8 310.5 188.2" stroke="#000000"/><path d="M243.7 188.2 245.5 187.8 247.2 187.1 249 188.2" stroke="#000000"/><path d="M296.4 188 298.2 185.8 299.9 188.1" stroke="#000000"/><path d="M184.5 188.3 186.3 187.9 188 187.7 189.8 188.3" stroke="#2297E6"/><path d="M293.9 187.8 295.6 182.2 297.4 187.7" stroke="#61D04F"/><path d="M303.6 188.2 305.3 187.1 307.1 185.4 308.8 188.2" stroke="#61D04F"/><path d="M106.4 188.3 108.1 187.2 109.9 188.2" stroke="#CD0BBC"/><path d="M271.3 188.1 273.1 183.5 274.8 186.8 276.5 188.1" stroke="#28E2E5"/><path d="M126 188.3 127.7 186.9 129.5 188.1" stroke="#CD0BBC"/><path d="M279.2 188.2 280.9 182.6 282.6 187.7" stroke="#CD0BBC"/><path d="M185.3 188.3 187 187 188.8 188.1" stroke="#61D04F"/><path d="M201.5 188.3 203.3 187.9 205 188.3" stroke="#2297E6"/><path d="M105.4 188.2 107.1 187.3 108.9 188.3" stroke="#DF536B"/><path d="M308 188 309.8 181.4 311.5 183 313.3 188" stroke="#DF536B"/><path d="M288.3 188.2 290 186.3 291.8 187.2 293.5 188.2" stroke="#2297E6"/><path d="M104.5 188.2 106.3 185.9 108 188.2" stroke="#2297E6"/><path d="M276.9 188.2 278.7 184.3 280.4 188.2" stroke="#000000"/><path d="M246.2 188.3 248 187.8 249.7 188.2" stroke="#CD0BBC"/><path d="M282.8 188.2 284.5 186.4 286.3 187.4 288 188.2" stroke="#000000"/><path d="M135.8 188.3 137.5 187.7 139.3 188.3" stroke="#61D04F"/><path d="M284.6 187.6 286.4 183 288.1 187.5" stroke="#000000"/><path d="M255.8 188.3 257.5 188.1 259.3 187.8 261 188 262.8 188.3" stroke="#2297E6"/><path d="M231.4 187.6 233.2 177.5 234.9 173.9 236.6 179.7 238.4 187.6" stroke="#28E2E5"/><path d="M140 188.2 141.7 187.6 143.5 188.3" stroke="#CD0BBC"/><path d="M201.4 188.2 203.2 187.4 204.9 188.2" stroke="#CD0BBC"/><path d="M251.2 188.1 252.9 186.5 254.7 184.3 256.4 185.2 258.2 188.1" stroke="#000000"/><path d="M315.2 187.6 316.9 183.6 318.7 188.2" stroke="#CD0BBC"/><path d="M108.3 188.3 110 187 111.8 188.2" stroke="#28E2E5"/><path d="M305.4 188.2 307.1 186.8 308.9 185.6 310.6 188.2" stroke="#61D04F"/><path d="M315.9 188.1 317.6 183.7 319.4 187.8" stroke="#28E2E5"/><path d="M236.1 188.3 237.8 187.9 239.6 188.3" stroke="#2297E6"/><path d="M265.3 188.3 267 187.4 268.8 187.9 270.5 188.3" stroke="#28E2E5"/><path d="M108.4 188.2 110.2 186.5 111.9 188.2" stroke="#000000"/><path d="M238.6 188.3 240.4 187.8 242.1 188.3" stroke="#28E2E5"/><path d="M300.6 188.3 302.4 187.2 304.1 188.2" stroke="#28E2E5"/><path d="M219.3 188.2 221.1 187.8 222.8 188.3" stroke="#DF536B"/><path d="M253.5 188.3 255.2 187.9 257 188.2" stroke="#2297E6"/><path d="M227.3 188.3 229 187.8 230.8 187.6 232.5 188.3" stroke="#000000"/><path d="M300.2 188.2 302 186.4 303.7 188.1" stroke="#28E2E5"/><path d="M229.3 188.3 231 187.8 232.8 188.3" stroke="#000000"/><path d="M206.8 188.2 208.6 187.1 210.3 186.5 212.1 186.9 213.8 188.2" stroke="#2297E6"/><path d="M228.7 188 230.5 183.8 232.2 182.5 234 188" stroke="#000000"/><path d="M107.5 188.3 109.3 187.5 111 188.2" stroke="#2297E6"/><path d="M279.2 188 280.9 185.9 282.7 183.1 284.4 184.5 286.2 188" stroke="#2297E6"/><path d="M210.6 188.3 212.3 183.9 214.1 188.1" stroke="#CD0BBC"/><path d="M79.1 188.3 80.8 187.8 82.6 187.7 84.3 188.1 86.1 188.3" stroke="#000000"/><path d="M305.1 188.3 306.9 187.9 308.6 188 310.4 188.3" stroke="#61D04F"/><path d="M252.5 188.3 254.3 187.5 256 188.2" stroke="#2297E6"/><path d="M233.8 188.3 235.5 187.3 237.3 188.3" stroke="#28E2E5"/><path d="M222.7 188 224.4 185.7 226.2 183.1 227.9 186.5 229.7 188" stroke="#000000"/><path d="M312.3 187.1 314 175 315.7 186.4" stroke="#28E2E5"/><path d="M124.3 188.2 126.1 187.6 127.8 188.2" stroke="#28E2E5"/><path d="M186 188.3 187.8 186.9 189.5 188.2" stroke="#CD0BBC"/><path d="M161.9 188.2 163.6 187.4 165.4 186.7 167.1 188.2" stroke="#61D04F"/><path d="M273.3 188.3 275 184.3 276.8 188" stroke="#CD0BBC"/><path d="M182.7 188.3 184.4 187.7 186.2 188.2" stroke="#DF536B"/><path d="M277.9 188.2 279.6 187.2 281.4 185.5 283.1 188.2" stroke="#2297E6"/><path d="M120.2 188.1 122 187.1 123.7 188.1" stroke="#28E2E5"/><path d="M230.5 188.3 232.3 188 234 187.3 235.8 187.7 237.5 188.3" stroke="#DF536B"/><path d="M304.6 187.8 306.3 183 308.1 187.9" stroke="#CD0BBC"/><path d="M249.7 188.2 251.4 187.6 253.2 185.9 254.9 188.2" stroke="#DF536B"/><path d="M60.8 188.3 62.5 187.2 64.3 188.3" stroke="#2297E6"/><path d="M309.5 188.3 311.2 187.9 312.9 188.1 314.7 188.3" stroke="#2297E6"/><path d="M260.1 188.3 261.8 188 263.6 187.6 265.3 188.1 267.1 188.3" stroke="#CD0BBC"/><path d="M64.6 188.3 66.3 187.7 68.1 188 69.8 188.3" stroke="#28E2E5"/><path d="M312.7 188.2 314.4 186.3 316.2 188.2" stroke="#000000"/><path d="M223.1 188.3 224.9 187.6 226.6 188.2" stroke="#DF536B"/><path d="M173.3 188.3 175.1 188.1 176.8 188.3" stroke="#000000"/><path d="M194.1 188.2 195.9 187.8 197.6 187.3 199.4 187.7 201.1 188.2" stroke="#2297E6"/><path d="M213.5 188.1 215.3 187.1 217 188.2" stroke="#2297E6"/><path d="M245.4 188.1 247.2 185.8 248.9 184.6 250.7 188.1" stroke="#CD0BBC"/><path d="M226.1 188.1 227.8 185.6 229.6 188.1" stroke="#000000"/><path d="M198.2 188.3 199.9 187.6 201.7 187.8 203.4 188.3" stroke="#CD0BBC"/><path d="M288.7 188.1 290.5 184 292.2 188" stroke="#DF536B"/><path d="M281.8 188.2 283.6 186.7 285.3 188.1" stroke="#000000"/><path d="M290.8 188.2 292.5 187.2 294.3 188.2" stroke="#CD0BBC"/><path d="M305.6 188.3 307.4 187.9 309.1 187.7 310.9 188.3" stroke="#2297E6"/><path d="M307.9 187.6 309.6 175 311.4 183.9 313.1 187.6" stroke="#CD0BBC"/><path d="M247.7 188.3 249.5 186.9 251.2 188.2" stroke="#28E2E5"/><path d="M223 188.2 224.7 187.5 226.5 188.2" stroke="#2297E6"/><path d="M280.4 188 282.1 184.5 283.9 187.8" stroke="#CD0BBC"/><path d="M306.1 188.1 307.9 186 309.6 188.2" stroke="#000000"/><path d="M198.2 188.3 200 187.6 201.7 187.9 203.5 188.3" stroke="#DF536B"/><path d="M223.1 188.3 224.9 187.9 226.6 187.7 228.3 187.9 230.1 188.3" stroke="#CD0BBC"/><path d="M297.9 188.3 299.6 187.8 301.4 188.3" stroke="#000000"/><path d="M159.1 188.2 160.8 187.4 162.6 188.2" stroke="#000000"/><path d="M215.4 188.3 217.1 186.6 218.9 188.2" stroke="#2297E6"/><path d="M138.5 188.3 140.2 187.3 142 187.7 143.7 188.3" stroke="#CD0BBC"/><path d="M250.7 188 252.4 182.6 254.2 186.2 255.9 188" stroke="#000000"/><path d="M109.7 188.3 111.5 188 113.2 187.5 115 188.3" stroke="#61D04F"/><path d="M277.2 188.2 279 187.5 280.7 186.2 282.5 187 284.2 188.2" stroke="#28E2E5"/><path d="M196.6 188.2 198.3 179 200.1 187.9" stroke="#DF536B"/><path d="M214.2 188 215.9 182.8 217.7 186 219.4 188" stroke="#2297E6"/><path d="M140.6 188.2 142.4 187.8 144.1 188.3" stroke="#61D04F"/><path d="M314.2 188.1 315.9 183.4 317.7 184.7 319.4 188.1" stroke="#CD0BBC"/><path d="M66.6 188.2 68.3 187.5 70.1 188.2" stroke="#CD0BBC"/><path d="M103 188.2 104.8 187.3 106.5 186.5 108.3 188.2" stroke="#CD0BBC"/><path d="M245.2 188.2 246.9 187 248.7 187.4 250.4 188.2" stroke="#000000"/><path d="M283.8 188.3 285.5 188 287.3 187.6 289 188 290.8 188.3" stroke="#28E2E5"/><path d="M204.9 188.3 206.6 187.5 208.4 188.3" stroke="#61D04F"/><path d="M284.6 188.3 286.4 187.7 288.1 188.3" stroke="#DF536B"/><path d="M231.8 188.3 233.6 187.9 235.3 187.5 237.1 188.3" stroke="#61D04F"/><path d="M286.1 188.2 287.9 186.7 289.6 188.2" stroke="#DF536B"/><path d="M313.5 188.3 315.3 187.8 317 188.3" stroke="#2297E6"/><path d="M315 188.1 316.7 183.9 318.5 188.1" stroke="#DF536B"/><path d="M109.5 188.2 111.3 187.1 113 188.2" stroke="#CD0BBC"/><path d="M268.4 187.8 270.2 184 271.9 188" stroke="#000000"/><path d="M107.2 188.2 108.9 187.6 110.7 187.1 112.4 188.2" stroke="#2297E6"/><path d="M229 188.2 230.7 187.9 232.5 188.3" stroke="#28E2E5"/><path d="M314.9 188.1 316.7 186.7 318.4 184.5 320.2 186.7 321.9 188.1" stroke="#CD0BBC"/><path d="M312.4 187.7 314.2 184.1 315.9 187.9" stroke="#CD0BBC"/><path d="M306.7 188 308.4 184.7 310.2 187.8" stroke="#28E2E5"/><path d="M201.7 188 203.5 185.4 205.2 187.9" stroke="#2297E6"/><path d="M231.7 188.2 233.5 186.8 235.2 188.2" stroke="#DF536B"/><path d="M250.9 188 252.6 185 254.4 188.2" stroke="#28E2E5"/><path d="M152.2 188.2 153.9 187.3 155.7 188.2" stroke="#000000"/><path d="M268.4 188.2 270.2 187.4 271.9 187 273.7 187.6 275.4 188.2" stroke="#28E2E5"/><path d="M180.2 188.3 181.9 187.9 183.7 188.2" stroke="#CD0BBC"/><path d="M57 188.2 58.7 187.7 60.5 188.3" stroke="#CD0BBC"/><path d="M286.1 188.1 287.9 184.6 289.6 188" stroke="#2297E6"/><path d="M286.1 188.1 287.8 183.4 289.6 185.4 291.3 188.1" stroke="#CD0BBC"/><path d="M202.8 188.2 204.5 187.4 206.3 187.1 208 188.2" stroke="#61D04F"/><path d="M226 188.1 227.7 187.3 229.5 188.2" stroke="#28E2E5"/><path d="M208.1 188.3 209.9 188 211.6 187.7 213.4 187.9 215.1 188.3" stroke="#DF536B"/><path d="M309.3 185.8 311 171.4 312.7 186.1" stroke="#DF536B"/><path d="M71.3 187.9 73 180.1 74.7 187.2" stroke="#000000"/><path d="M195.7 187.6 197.5 182.9 199.2 175.3 201 179.3 202.7 187.6" stroke="#000000"/><path d="M98.9 187.7 100.6 175 102.3 186.6" stroke="#DF536B"/><path d="M263.7 188.3 265.4 187.9 267.2 188.3" stroke="#2297E6"/><path d="M164.2 188.2 165.9 187.7 167.7 186.9 169.4 187.5 171.2 188.2" stroke="#28E2E5"/><path d="M212.1 188.3 213.8 187.7 215.6 188 217.3 188.3" stroke="#61D04F"/><path d="M80.5 188.1 82.2 186.8 84 188.2" stroke="#2297E6"/><path d="M61.8 188.2 63.6 187.7 65.3 188.3" stroke="#61D04F"/><path d="M240.2 188 241.9 177.4 243.6 187.5" stroke="#DF536B"/><path d="M200 188 201.8 185.2 203.5 188.2" stroke="#000000"/><path d="M176.4 188.3 178.2 187.9 179.9 187.8 181.7 188.3" stroke="#CD0BBC"/><path d="M145 188.3 146.7 187.7 148.5 188.2" stroke="#2297E6"/><path d="M295.5 188.3 297.3 187.7 299 187.4 300.7 188.3" stroke="#61D04F"/><path d="M256.5 187.7 258.2 176.1 260 181.4 261.7 187.7" stroke="#DF536B"/><path d="M262.1 188 263.8 185.7 265.6 187.9" stroke="#28E2E5"/><path d="M224.9 188.3 226.6 182.8 228.4 187.6" stroke="#000000"/><path d="M281.6 188.1 283.4 180.9 285.1 187.6" stroke="#61D04F"/><path d="M281.3 188.1 283.1 186.7 284.8 188.1" stroke="#28E2E5"/><path d="M205.6 188.3 207.4 187.6 209.1 188.1 210.9 188.3" stroke="#28E2E5"/><path d="M95.6 188 97.3 184.5 99.1 183.2 100.8 188" stroke="#000000"/><path d="M194.5 188.1 196.2 186 198 188" stroke="#CD0BBC"/><path d="M123.9 188 125.7 184.3 127.4 181.9 129.2 188" stroke="#28E2E5"/><path d="M140.5 188.3 142.2 187 144 188.2" stroke="#28E2E5"/><path d="M181 187.9 182.8 184.3 184.5 180.8 186.3 183 188 187.9" stroke="#000000"/><path d="M275.6 187.7 277.3 179 279.1 187.5" stroke="#61D04F"/><path d="M205.4 188.2 207.1 186.8 208.9 187.7 210.6 188.2" stroke="#DF536B"/><path d="M92.9 188.2 94.7 187 96.4 186.5 98.2 187.1 99.9 188.2" stroke="#DF536B"/><path d="M236.3 188.2 238.1 186.1 239.8 187 241.6 188.2" stroke="#61D04F"/><path d="M134.6 188.3 136.4 187.7 138.1 188.2" stroke="#28E2E5"/><path d="M128.7 188.2 130.5 186.6 132.2 187.7 134 188.2" stroke="#DF536B"/><path d="M126.2 188.3 128 187.3 129.7 187.6 131.5 188.3" stroke="#DF536B"/><path d="M130.5 188.3 132.2 187.9 133.9 187.8 135.7 188.1 137.4 188.3" stroke="#61D04F"/><path d="M185.1 188.2 186.8 187.9 188.6 188.2" stroke="#28E2E5"/><path d="M279.9 188.3 281.6 187.8 283.4 187.4 285.1 187.8 286.9 188.3" stroke="#2297E6"/><path d="M309.3 188.3 311 187.9 312.8 188.3" stroke="#CD0BBC"/><path d="M159.1 188.2 160.9 186.3 162.6 187.2 164.4 188.2" stroke="#000000"/><path d="M265.5 188.2 267.2 186.7 268.9 188.2" stroke="#DF536B"/><path d="M296 187.9 297.8 184.8 299.5 180.2 301.3 182.2 303 187.9" stroke="#DF536B"/><path d="M220.2 188.3 221.9 188 223.7 187.5 225.4 188.3" stroke="#DF536B"/><path d="M299.4 188.3 301.2 186.7 302.9 188.1" stroke="#61D04F"/><path d="M280.1 188.3 281.8 187.9 283.6 188.3" stroke="#000000"/><path d="M234.4 188.2 236.2 187 237.9 188.1" stroke="#DF536B"/><path d="M256.7 188.2 258.4 186.4 260.2 186.8 261.9 188.2" stroke="#61D04F"/><path d="M159.9 188.3 161.7 187.7 163.4 187.5 165.2 187.9 166.9 188.3" stroke="#61D04F"/><path d="M254.3 188.3 256.1 188.1 257.8 187.7 259.6 188.3" stroke="#DF536B"/><path d="M236.3 188.2 238.1 187.3 239.8 186.8 241.6 187.6 243.3 188.2" stroke="#61D04F"/><path d="M313.4 188.2 315.2 187.1 316.9 186.3 318.7 186.7 320.4 188.2" stroke="#000000"/><path d="M283 188.2 284.7 187.6 286.5 188.3" stroke="#28E2E5"/><path d="M266.3 188.1 268 186.9 269.8 188.2" stroke="#28E2E5"/><path d="M233.8 188.3 235.5 187.8 237.3 188.1 239 188.3" stroke="#CD0BBC"/><path d="M111 188 112.7 185.4 114.5 181.9 116.2 188" stroke="#61D04F"/><path d="M69.2 188.2 71 186.9 72.7 188.1" stroke="#DF536B"/><path d="M261.2 188.2 262.9 179.7 264.7 188" stroke="#2297E6"/><path d="M211 188.1 212.7 186.5 214.5 188.2" stroke="#61D04F"/><path d="M303.7 188.3 305.4 187.9 307.2 187.6 308.9 188 310.7 188.3" stroke="#2297E6"/><path d="M227.9 188.1 229.6 185.7 231.4 188.1" stroke="#CD0BBC"/><path d="M243.4 188.1 245.2 183.6 246.9 186 248.7 188.1" stroke="#61D04F"/><path d="M234.9 188.1 236.7 186.9 238.4 188.1" stroke="#61D04F"/><path d="M107.7 188.3 109.4 187.8 111.2 187.4 112.9 187.7 114.7 188.3" stroke="#CD0BBC"/><path d="M202.2 188.2 203.9 186 205.7 187 207.4 188.2" stroke="#DF536B"/><path d="M256.7 188.3 258.4 187.7 260.2 187.4 261.9 187.9 263.7 188.3" stroke="#DF536B"/><path d="M263.9 188.3 265.6 180 267.3 187.4" stroke="#CD0BBC"/><path d="M285.5 188.2 287.3 186.9 289 186.4 290.8 188.2" stroke="#DF536B"/><path d="M261.3 187.6 263 174.1 264.8 181 266.5 187.6" stroke="#000000"/><path d="M244.5 188.2 246.3 186.6 248 188.1" stroke="#CD0BBC"/><path d="M65.8 188.3 67.6 187.9 69.3 188.1 71.1 188.3" stroke="#61D04F"/><path d="M254.7 188.3 256.4 188 258.2 187.9 259.9 188.3" stroke="#2297E6"/><path d="M189.9 188.2 191.6 187.7 193.4 188.2" stroke="#61D04F"/><path d="M298.6 188.3 300.4 186.8 302.1 188.1" stroke="#000000"/><path d="M201 188.3 202.8 187.8 204.5 187.6 206.3 188.3" stroke="#CD0BBC"/><path d="M206.2 188.2 207.9 185.7 209.7 187.1 211.4 188.2" stroke="#DF536B"/><path d="M185.9 186.9 187.6 176.3 189.3 188" stroke="#DF536B"/><path d="M247.2 188.2 248.9 186.9 250.7 185.8 252.4 186.8 254.1 188.2" stroke="#61D04F"/><path d="M206.3 188.1 208.1 185.6 209.8 188.2" stroke="#DF536B"/><path d="M69.7 188.3 71.5 188 73.2 188.3" stroke="#2297E6"/><path d="M251.7 188 253.5 186.1 255.2 188.1" stroke="#61D04F"/><path d="M122.7 188.2 124.4 187.6 126.2 188.2" stroke="#28E2E5"/><path d="M225.7 188.3 227.5 187.9 229.2 187.6 231 187.7 232.7 188.3" stroke="#CD0BBC"/><path d="M278.3 188.3 280.1 187.9 281.8 188.3" stroke="#2297E6"/><path d="M220.5 187.9 222.3 180.1 224 182 225.8 187.9" stroke="#CD0BBC"/><path d="M295.2 188.1 297 184.6 298.7 186.3 300.5 188.1" stroke="#CD0BBC"/><path d="M175.5 188.3 177.2 187.4 179 188 180.7 188.3" stroke="#CD0BBC"/><path d="M57.9 188.2 59.6 187.2 61.4 188.3" stroke="#2297E6"/><path d="M281.3 188.2 283 187.3 284.8 188.2" stroke="#61D04F"/><path d="M248.4 188.1 250.1 186.9 251.9 188.1" stroke="#61D04F"/><path d="M266.6 188.3 268.3 182.8 270.1 187.8" stroke="#28E2E5"/><path d="M161.8 188.3 163.5 187.9 165.3 188 167 188.3" stroke="#DF536B"/><path d="M262.6 188.1 264.3 186.5 266.1 188.1" stroke="#2297E6"/><path d="M217.1 188.1 218.8 186.6 220.6 188.2" stroke="#28E2E5"/><path d="M242.8 188 244.6 176.1 246.3 186.6" stroke="#2297E6"/><path d="M227.2 188.2 229 185.5 230.7 187.1 232.5 188.2" stroke="#CD0BBC"/><path d="M73.2 188.2 74.9 187.7 76.7 188.3" stroke="#61D04F"/><path d="M292.2 187.3 294 180.8 295.7 187.9" stroke="#61D04F"/><path d="M308.3 186.7 310 176 311.8 187.3" stroke="#61D04F"/><path d="M217.6 188 219.3 185.9 221.1 188.1" stroke="#2297E6"/><path d="M209.1 188.3 210.8 178.6 212.6 187.9" stroke="#2297E6"/><path d="M69.9 188.2 71.7 187.2 73.4 188.2" stroke="#28E2E5"/><path d="M140.1 188.2 141.9 186.8 143.6 188.3" stroke="#000000"/><path d="M257.4 188 259.2 185.6 260.9 188.3" stroke="#000000"/><path d="M213.6 188.2 215.4 186.9 217.1 188.2" stroke="#CD0BBC"/><path d="M121 188.3 122.7 187.8 124.5 187.6 126.2 188 128 188.3" stroke="#CD0BBC"/><path d="M238.7 188.2 240.4 185.2 242.2 188.1" stroke="#000000"/><path d="M198.7 188.2 200.5 187.6 202.2 188.3" stroke="#000000"/><path d="M244.6 188.3 246.3 187.9 248.1 188.3" stroke="#2297E6"/><path d="M248.8 188.3 250.5 187.2 252.3 188.2" stroke="#28E2E5"/><path d="M92.1 188.3 93.8 187.8 95.6 187.6 97.3 188.1 99.1 188.3" stroke="#61D04F"/><path d="M239.6 188.3 241.3 187.5 243.1 188.2" stroke="#CD0BBC"/><path d="M309.5 188.1 311.3 186.8 313 188.2" stroke="#DF536B"/><path d="M214.5 188.3 216.2 187.5 218 188.2" stroke="#28E2E5"/><path d="M258.5 188.1 260.3 186 262 184 263.8 188.1" stroke="#000000"/><path d="M292 188 293.7 185.3 295.5 182.9 297.2 188" stroke="#DF536B"/><path d="M219.4 188.1 221.2 186.8 222.9 183.7 224.7 186.8 226.4 188.1" stroke="#2297E6"/><path d="M298.9 188.2 300.6 187.4 302.4 185.9 304.1 188.2" stroke="#DF536B"/><path d="M281.1 188.1 282.8 185.2 284.6 184 286.3 188.1" stroke="#28E2E5"/><path d="M217 188.2 218.7 187.4 220.5 188.3" stroke="#28E2E5"/><path d="M196.9 188.3 198.7 187.8 200.4 188.3" stroke="#DF536B"/><path d="M236.2 188 238 185.3 239.7 188.1" stroke="#28E2E5"/><path d="M138.3 188.2 140 187.1 141.7 187.5 143.5 188.2" stroke="#CD0BBC"/><path d="M52.4 188.1 54.1 186.7 55.9 188.2" stroke="#28E2E5"/><path d="M303.4 188.2 305.2 187.1 306.9 188.2" stroke="#61D04F"/><path d="M195 188.3 196.7 187.9 198.5 188.3" stroke="#CD0BBC"/><path d="M255.7 187 257.4 159.4 259.1 186.7" stroke="#CD0BBC"/><path d="M298.7 188.1 300.5 186.8 302.2 188.3" stroke="#28E2E5"/><path d="M193.3 187.6 195.1 180.2 196.8 175.2 198.6 179.4 200.3 187.6" stroke="#61D04F"/><path d="M228.3 188.2 230 187.3 231.8 185.7 233.5 187.4 235.3 188.2" stroke="#2297E6"/><path d="M296 188.2 297.7 186.6 299.5 188.1" stroke="#2297E6"/><path d="M307.3 188.2 309.1 187.2 310.8 186.8 312.6 188.2" stroke="#2297E6"/><path d="M218.8 188.3 220.5 188 222.3 187.9 224 188.3" stroke="#61D04F"/><path d="M74.5 188.3 76.3 187.8 78 188.3" stroke="#CD0BBC"/><path d="M93 188.2 94.8 187.5 96.5 187.3 98.3 188.2" stroke="#000000"/><path d="M210.9 188.2 212.6 187.7 214.3 188.2" stroke="#2297E6"/><path d="M308.5 187.8 310.3 183.4 312 187.9" stroke="#2297E6"/><path d="M287.6 188.3 289.4 187.9 291.1 187.6 292.9 187.7 294.6 188.3" stroke="#000000"/><path d="M316.1 188.2 317.8 187.1 319.6 187.6 321.3 188.2" stroke="#DF536B"/><path d="M266.1 188.2 267.9 186.2 269.6 188.1" stroke="#2297E6"/><path d="M145.7 188.1 147.4 186.5 149.1 188.2" stroke="#000000"/><path d="M64.4 188.3 66.2 187.9 67.9 188.2" stroke="#61D04F"/><path d="M222.8 187.6 224.6 174 226.3 177.1 228.1 187.6" stroke="#CD0BBC"/><path d="M296.6 188.2 298.3 186.7 300.1 188.2" stroke="#61D04F"/><path d="M204.6 188.3 206.3 187.4 208.1 187.9 209.8 188.3" stroke="#CD0BBC"/><path d="M197.5 188.1 199.3 184.5 201 186.1 202.7 188.1" stroke="#2297E6"/><path d="M296.1 188 297.9 185.3 299.6 182.6 301.4 184.3 303.1 188" stroke="#61D04F"/><path d="M205.6 187.8 207.4 184.9 209.1 187.8" stroke="#DF536B"/><path d="M116.5 188.2 118.2 187.1 120 187.4 121.7 188.2" stroke="#28E2E5"/><path d="M283.8 187.7 285.5 184.2 287.3 187.8" stroke="#2297E6"/><path d="M255.3 188.2 257.1 187.5 258.8 186.5 260.6 188.2" stroke="#000000"/><path d="M276 188.2 277.8 187 279.5 188.1" stroke="#28E2E5"/><path d="M312.5 188.2 314.2 185.8 316 188" stroke="#61D04F"/><path d="M202.4 188.3 204.1 188.1 205.9 187.9 207.6 188.3" stroke="#2297E6"/><path d="M252.2 188.1 253.9 187 255.7 188.2" stroke="#28E2E5"/><path d="M175.8 188.3 177.5 188 179.3 187.6 181 188.3" stroke="#DF536B"/><path d="M253.8 188.1 255.5 182.7 257.3 187.9" stroke="#28E2E5"/><path d="M79.2 188 80.9 185.7 82.7 188.1" stroke="#2297E6"/><path d="M265.2 186.6 266.9 155 268.6 164.2 270.4 186.6" stroke="#CD0BBC"/><path d="M266.4 188.3 268.2 188 269.9 187.9 271.7 188.3" stroke="#61D04F"/><path d="M299.5 188.1 301.3 184.4 303 185.2 304.8 188.1" stroke="#2297E6"/><path d="M254.2 188 255.9 186 257.7 188.1" stroke="#DF536B"/><path d="M303.1 188.3 304.8 186.4 306.6 188.2" stroke="#61D04F"/><path d="M192.1 188.3 193.9 187.8 195.6 188.3" stroke="#2297E6"/><path d="M278 188.2 279.8 186.7 281.5 187.8 283.3 188.2" stroke="#DF536B"/><path d="M250.6 188.2 252.3 187.6 254.1 188.3" stroke="#DF536B"/><path d="M283 188.3 284.8 181.8 286.5 187.7" stroke="#2297E6"/><path d="M83.2 188.3 85 187.8 86.7 187.7 88.5 188 90.2 188.3" stroke="#2297E6"/><path d="M159.3 188.3 161.1 188 162.8 187.6 164.6 188.3" stroke="#DF536B"/><path d="M292.5 188.2 294.3 187.3 296 188.2" stroke="#61D04F"/><path d="M294.4 188.3 296.1 186.1 297.9 188" stroke="#DF536B"/><path d="M185.1 188.2 186.8 186.9 188.6 185.6 190.3 188.2" stroke="#28E2E5"/><path d="M310.9 188.2 312.7 187.1 314.4 188.2" stroke="#28E2E5"/><path d="M159.1 188.2 160.9 186.3 162.6 188.2" stroke="#000000"/><path d="M215.6 187.7 217.3 182.3 219.1 175.5 220.8 180.9 222.6 187.7" stroke="#28E2E5"/><path d="M223.1 188.2 224.8 185.6 226.6 188.1" stroke="#CD0BBC"/><path d="M267.5 187.7 269.3 179.5 271 176.7 272.7 187.7" stroke="#28E2E5"/><path d="M63.4 188.2 65.1 186.6 66.9 188.2" stroke="#000000"/><path d="M313.6 188.2 315.4 183.5 317.1 188.1" stroke="#DF536B"/><path d="M294.8 188.2 296.5 187.1 298.3 186.7 300 187.8 301.8 188.2" stroke="#28E2E5"/><path d="M257 186.9 258.7 177.3 260.5 187" stroke="#CD0BBC"/><path d="M197.1 188.3 198.8 187.9 200.6 188.3" stroke="#000000"/><path d="M275.9 188.2 277.7 186.8 279.4 188.2" stroke="#CD0BBC"/><path d="M100.5 188.3 102.2 188 104 187.7 105.7 187.8 107.5 188.3" stroke="#DF536B"/><path d="M169.3 188.3 171 187.9 172.8 188.3" stroke="#28E2E5"/><path d="M182.9 188.2 184.7 187.6 186.4 187.3 188.2 188.2" stroke="#28E2E5"/><path d="M91.1 188.2 92.8 185.7 94.6 188.1" stroke="#28E2E5"/><path d="M260.9 188.2 262.6 186.8 264.4 188.2" stroke="#2297E6"/><path d="M61.5 188.3 63.3 187.8 65 188.3" stroke="#2297E6"/><path d="M183.1 188 184.9 186.2 186.6 181.5 188.4 185.7 190.1 188" stroke="#CD0BBC"/><path d="M239.5 188 241.2 182.2 243 184 244.7 188" stroke="#000000"/><path d="M317.1 188.3 318.9 186.1 320.6 188.2" stroke="#000000"/><path d="M294.3 187.9 296.1 181.5 297.8 187.5" stroke="#DF536B"/><path d="M275 188.1 276.8 184.7 278.5 188" stroke="#CD0BBC"/><path d="M265.2 188.1 266.9 186.3 268.7 184.8 270.4 186.4 272.2 188.1" stroke="#CD0BBC"/><path d="M249.1 188.3 250.9 187.7 252.6 188 254.3 188.3" stroke="#CD0BBC"/><path d="M192.3 188.2 194 187.4 195.7 188.2" stroke="#000000"/><path d="M250.9 188.2 252.7 186.4 254.4 187.6 256.2 188.2" stroke="#2297E6"/><path d="M62.6 188.3 64.4 187.7 66.1 188.3" stroke="#28E2E5"/><path d="M221.3 188.3 223 186.6 224.8 188.1" stroke="#61D04F"/><path d="M241 188.3 242.7 187.7 244.5 188.2" stroke="#000000"/><path d="M264.3 187.9 266.1 183.3 267.8 181.2 269.6 183.7 271.3 187.9" stroke="#CD0BBC"/><path d="M198.2 187.8 199.9 179.9 201.7 177.3 203.4 182.6 205.2 187.8" stroke="#000000"/><path d="M168.3 188.3 170.1 186.8 171.8 188.1" stroke="#61D04F"/><path d="M172.1 188.2 173.9 187.3 175.6 188.3" stroke="#2297E6"/><path d="M283.9 188.2 285.6 185.2 287.4 187.9" stroke="#61D04F"/><path d="M232.9 188.3 234.7 187.8 236.4 188.1 238.2 188.3" stroke="#28E2E5"/><path d="M301.8 188.2 303.5 187.6 305.3 188.3" stroke="#CD0BBC"/><path d="M294.7 188.1 296.5 183.4 298.2 186.3 299.9 188.1" stroke="#000000"/><path d="M157.4 188.2 159.1 187.9 160.9 188.3" stroke="#CD0BBC"/><path d="M265.2 188.1 267 185.6 268.7 187.9" stroke="#CD0BBC"/><path d="M54.9 188.2 56.7 187 58.4 188.3" stroke="#CD0BBC"/><path d="M305.3 188.3 307.1 188 308.8 187.7 310.6 188 312.3 188.3" stroke="#2297E6"/><path d="M217.7 188.1 219.5 186.5 221.2 188.2" stroke="#CD0BBC"/><path d="M293.4 188.3 295.1 185.9 296.9 188.3" stroke="#CD0BBC"/><path d="M258.6 188.2 260.4 187.3 262.1 186.9 263.9 188.2" stroke="#2297E6"/><path d="M281.4 188.2 283.2 185.7 284.9 188.1" stroke="#DF536B"/><path d="M189 188.3 190.8 178.2 192.5 187" stroke="#61D04F"/><path d="M247.4 188.3 249.1 187.6 250.9 188.1 252.6 188.3" stroke="#61D04F"/><path d="M276.9 188.2 278.6 186.7 280.4 188.2" stroke="#000000"/><path d="M131.1 188 132.8 178.7 134.5 187.5" stroke="#2297E6"/><path d="M238.7 188.2 240.5 186.9 242.2 188.1" stroke="#61D04F"/><path d="M77.9 188.3 79.6 187.5 81.4 188.2" stroke="#2297E6"/><path d="M258.4 186.9 260.1 177.8 261.9 188" stroke="#CD0BBC"/><path d="M315.4 188.1 317.1 185.1 318.9 188.2" stroke="#61D04F"/><path d="M260.1 188 261.9 182.5 263.6 187.9" stroke="#28E2E5"/><path d="M314.7 188.3 316.4 187.5 318.2 188.2" stroke="#000000"/><path d="M134.6 188.3 136.4 187.8 138.1 188.3" stroke="#CD0BBC"/><path d="M122.5 187.4 124.2 181.4 125.9 188.2" stroke="#28E2E5"/><path d="M210.3 188.3 212 188 213.8 187.6 215.5 188.3" stroke="#DF536B"/><path d="M228.1 188.3 229.9 187 231.6 188.3" stroke="#000000"/><path d="M292.3 188 294.1 185.2 295.8 183.2 297.6 188" stroke="#CD0BBC"/><path d="M98.5 188.2 100.3 187.9 102 188.3" stroke="#28E2E5"/><path d="M209 188 210.7 183.2 212.5 186.1 214.2 188" stroke="#DF536B"/><path d="M267.3 188.2 269.1 187.7 270.8 187.1 272.6 188.2" stroke="#DF536B"/><path d="M100.4 188.2 102.2 187.6 103.9 187.1 105.7 188.2" stroke="#61D04F"/><path d="M176.1 188.3 177.8 187 179.6 188.2" stroke="#61D04F"/><path d="M218.2 188.1 219.9 186.7 221.7 188.1" stroke="#000000"/><path d="M107.8 188.1 109.6 186.6 111.3 188.2" stroke="#2297E6"/><path d="M299.4 188.1 301.2 186.5 302.9 188.3" stroke="#DF536B"/><path d="M112.2 188.3 113.9 187.7 115.7 188.3" stroke="#CD0BBC"/><path d="M231.4 188.2 233.1 187 234.9 187.6 236.6 188.2" stroke="#000000"/><path d="M191.6 188.2 193.3 187.3 195.1 188.2" stroke="#61D04F"/><path d="M114.2 188.1 116 186.6 117.7 183.3 119.5 185.5 121.2 188.1" stroke="#61D04F"/><path d="M202.2 188.1 203.9 187.1 205.7 185 207.4 186.2 209.2 188.1" stroke="#61D04F"/><path d="M178.6 188.3 180.4 187.6 182.1 188.3" stroke="#2297E6"/><path d="M82.4 188.2 84.2 186.6 85.9 187.6 87.7 188.2" stroke="#28E2E5"/><path d="M122.3 188.2 124.1 186.6 125.8 187.1 127.6 188.2" stroke="#61D04F"/><path d="M71.3 188.2 73 186.3 74.8 188" stroke="#DF536B"/><path d="M272.5 188.2 274.2 187.9 275.9 187.2 277.7 187.5 279.4 188.2" stroke="#DF536B"/><path d="M81.9 188.3 83.6 188 85.4 188.3" stroke="#000000"/><path d="M237.8 188.3 239.5 187.9 241.3 188.1 243 188.3" stroke="#28E2E5"/><path d="M225.1 188.3 226.8 188.1 228.6 187.8 230.3 188.3" stroke="#28E2E5"/><path d="M134.7 188.2 136.4 187.9 138.2 186.9 139.9 188.2" stroke="#DF536B"/><path d="M74.7 187.4 76.5 174.4 78.2 170.2 79.9 187.4" stroke="#61D04F"/><path d="M59.2 188.2 60.9 185.3 62.7 187.9" stroke="#61D04F"/><path d="M233.7 188.3 235.5 187.8 237.2 187.4 238.9 188.3" stroke="#2297E6"/><path d="M272.5 188.3 274.3 188.1 276 187.8 277.8 188.3" stroke="#2297E6"/><path d="M260.9 187.4 262.6 175.9 264.4 186.5" stroke="#CD0BBC"/><path d="M230.3 188.2 232.1 187.7 233.8 188.2" stroke="#2297E6"/><path d="M75.8 188.2 77.5 186.2 79.3 186.9 81 188.2" stroke="#61D04F"/><path d="M103.3 188.3 105.1 187.8 106.8 187.4 108.6 188.3" stroke="#DF536B"/><path d="M214.6 188.2 216.4 187.3 218.1 187.8 219.9 188.2" stroke="#2297E6"/><path d="M298.9 188.3 300.6 187.7 302.4 188.3" stroke="#CD0BBC"/><path d="M240.2 188.2 241.9 186.4 243.7 187.1 245.4 188.2" stroke="#000000"/><path d="M55.8 188.2 57.5 187.1 59.3 188.2" stroke="#DF536B"/><path d="M296.9 188.2 298.7 181 300.4 187.3" stroke="#28E2E5"/><path d="M82.5 188.2 84.2 186.8 86 187.5 87.7 188.2" stroke="#CD0BBC"/><path d="M233.6 188.3 235.3 186.4 237.1 188.3" stroke="#CD0BBC"/><path d="M234.6 188.2 236.3 187.2 238.1 188.3" stroke="#2297E6"/><path d="M112.1 188.2 113.9 187.8 115.6 188.3" stroke="#CD0BBC"/><path d="M190.3 188.2 192.1 186.5 193.8 187.2 195.6 188.2" stroke="#DF536B"/><path d="M233 188 234.7 184 236.5 182.9 238.2 188" stroke="#61D04F"/><path d="M120.7 188.2 122.4 187.8 124.2 187.3 125.9 188.2" stroke="#000000"/><path d="M265.2 187.8 266.9 179.7 268.7 188.2" stroke="#2297E6"/><path d="M184 188.2 185.8 187.4 187.5 186.3 189.3 188.2" stroke="#2297E6"/><path d="M200.3 187.9 202 177.2 203.7 187.6" stroke="#CD0BBC"/><path d="M116.3 188.3 118 188 119.8 187.4 121.5 188.3" stroke="#CD0BBC"/><path d="M226.1 188.2 227.9 186.9 229.6 188.2" stroke="#DF536B"/><path d="M273 188.3 274.8 188.1 276.5 187.8 278.3 188 280 188.3" stroke="#CD0BBC"/><path d="M265.9 188.2 267.6 187.4 269.4 188.3" stroke="#CD0BBC"/><path d="M64.5 188.3 66.3 186.9 68 188.2" stroke="#CD0BBC"/><path d="M289.7 187.6 291.5 183.4 293.2 188.3" stroke="#DF536B"/><path d="M274.6 187.9 276.3 183.1 278.1 187.9" stroke="#CD0BBC"/><path d="M87.5 188.2 89.3 187.1 91 187.9 92.8 188.2" stroke="#2297E6"/><path d="M196.3 188.3 198 187.4 199.8 187.6 201.5 188.3" stroke="#000000"/><path d="M72.6 188.2 74.4 187.3 76.1 188 77.9 188.2" stroke="#DF536B"/><path d="M312.2 188.2 313.9 186.1 315.7 188.3" stroke="#28E2E5"/><path d="M213.4 187.9 215.2 179 216.9 188" stroke="#CD0BBC"/><path d="M248.4 188 250.1 183.1 251.9 186.3 253.6 188" stroke="#DF536B"/><path d="M284.2 188 286 186 287.7 188" stroke="#000000"/><path d="M301.1 187.9 302.8 184.2 304.6 188.2" stroke="#CD0BBC"/><path d="M302.4 188.2 304.1 186.7 305.9 187.5 307.6 188.2" stroke="#2297E6"/><path d="M231.8 188.1 233.5 186.7 235.3 184.3 237 185.3 238.8 188.1" stroke="#61D04F"/><path d="M297.6 188.3 299.4 187.8 301.1 187.6 302.8 188 304.6 188.3" stroke="#61D04F"/><path d="M221.7 188.3 223.4 183.6 225.2 187.8" stroke="#28E2E5"/><path d="M205.7 188.2 207.5 183.8 209.2 188.2" stroke="#28E2E5"/><path d="M81.8 188.2 83.6 187.2 85.3 187.8 87.1 188.2" stroke="#000000"/><path d="M163 188.3 164.7 187.9 166.5 187.8 168.2 188.3" stroke="#000000"/><path d="M310.5 188.2 312.2 186.9 314 188.3" stroke="#000000"/><path d="M289.8 188.3 291.5 187.7 293.3 187.3 295 188.3" stroke="#61D04F"/><path d="M260.3 188 262.1 182.6 263.8 188" stroke="#000000"/><path d="M247.8 188.1 249.6 182.9 251.3 187.8" stroke="#000000"/><path d="M269.2 187.9 271 185.8 272.7 188.2" stroke="#28E2E5"/><path d="M203.6 188.2 205.3 186.6 207.1 188.2" stroke="#28E2E5"/><path d="M106.8 188.3 108.6 187.6 110.3 188.3" stroke="#61D04F"/><path d="M202.1 188 203.8 178.1 205.6 187.8" stroke="#2297E6"/><path d="M133.7 188.3 135.4 187.9 137.2 188.2" stroke="#000000"/><path d="M257 188.2 258.8 181.6 260.5 188" stroke="#CD0BBC"/><path d="M241.2 188.3 243 187.9 244.7 188.3" stroke="#28E2E5"/><path d="M267.4 188.3 269.1 187.3 270.9 188.2" stroke="#2297E6"/><path d="M284.9 188.2 286.6 187.5 288.4 187.3 290.1 187.9 291.9 188.2" stroke="#DF536B"/><path d="M190.8 188.2 192.5 186.4 194.3 188.1" stroke="#CD0BBC"/><path d="M247.3 187.6 249 180.8 250.8 174.3 252.5 187.6" stroke="#28E2E5"/><path d="M272 187.9 273.8 185.8 275.5 188" stroke="#61D04F"/><path d="M250.2 188.2 251.9 187.7 253.7 187.1 255.4 187.4 257.2 188.2" stroke="#61D04F"/><path d="M278.8 188.3 280.6 187.5 282.3 188.2" stroke="#2297E6"/><path d="M292.1 188.2 293.8 187.1 295.6 187.7 297.3 188.2" stroke="#61D04F"/><path d="M195.3 188.3 197.1 187.8 198.8 187.5 200.6 188 202.3 188.3" stroke="#DF536B"/><path d="M228.5 188.1 230.3 186.4 232 185.1 233.8 186.2 235.5 188.1" stroke="#CD0BBC"/><path d="M293.2 187.8 295 178.4 296.7 180.7 298.5 187.8" stroke="#61D04F"/><path d="M212.5 188.3 214.3 187.7 216 188.3" stroke="#2297E6"/><path d="M288.2 188 289.9 185.4 291.7 183.2 293.4 184.4 295.2 188" stroke="#28E2E5"/><path d="M281.5 188 283.2 184.6 285 182.7 286.7 188" stroke="#CD0BBC"/><path d="M89.3 188.2 91 186.9 92.8 188.1" stroke="#2297E6"/><path d="M269.1 188.2 270.8 186.4 272.6 187.1 274.3 188.2" stroke="#61D04F"/><path d="M272.2 188.3 274 187.2 275.7 188.2" stroke="#2297E6"/><path d="M101.9 188.3 103.7 187.4 105.4 188.3" stroke="#CD0BBC"/><path d="M263.4 188 265.1 182 266.9 185 268.6 188" stroke="#61D04F"/><path d="M136 188.3 137.7 187.7 139.4 187.5 141.2 187.7 142.9 188.3" stroke="#28E2E5"/><path d="M177.8 188.3 179.5 186.6 181.3 188.1" stroke="#2297E6"/><path d="M313.3 188.2 315 187.4 316.8 186.9 318.5 187.3 320.3 188.2" stroke="#CD0BBC"/><path d="M124.2 186.7 125.9 176.1 127.6 186.7" stroke="#DF536B"/><path d="M122.7 188.2 124.4 187.2 126.2 186.6 127.9 188.2" stroke="#CD0BBC"/><path d="M293.3 188.3 295 188.1 296.8 187.8 298.5 188.3" stroke="#2297E6"/><path d="M288.7 188.1 290.5 186.8 292.2 184.5 294 188.1" stroke="#61D04F"/><path d="M244.2 188.2 245.9 187.1 247.7 188.1" stroke="#DF536B"/><path d="M229.3 188.3 231 187.8 232.8 188.2" stroke="#2297E6"/><path d="M275.9 188.2 277.6 186.2 279.4 188" stroke="#000000"/><path d="M300.5 187.4 302.3 181.8 304 188.1" stroke="#DF536B"/><path d="M155.4 188.3 157.2 188.1 158.9 187.9 160.7 188.3" stroke="#28E2E5"/><path d="M257.9 188.2 259.7 180.2 261.4 188.2" stroke="#2297E6"/><path d="M294.8 188.2 296.5 186.8 298.3 186.5 300 186.9 301.8 188.2" stroke="#CD0BBC"/><path d="M158.3 188.3 160 187.6 161.8 188.3" stroke="#000000"/><path d="M169 188.2 170.7 186.8 172.5 188.2" stroke="#000000"/><path d="M62.4 188.3 64.1 187.6 65.9 187.9 67.6 188.3" stroke="#28E2E5"/><path d="M274.7 188.2 276.4 185 278.1 188.1" stroke="#2297E6"/><path d="M111.6 188.1 113.4 185.3 115.1 184.4 116.9 188.1" stroke="#2297E6"/><path d="M206.8 188.2 208.6 187.4 210.3 188.3" stroke="#CD0BBC"/><path d="M69.2 188.3 70.9 187.9 72.7 187.8 74.4 188.3" stroke="#000000"/><path d="M125.6 187.8 127.4 184.5 129.1 188.2" stroke="#000000"/><path d="M65.9 188.2 67.6 178.5 69.3 187.5" stroke="#28E2E5"/><path d="M157.1 188.3 158.8 187.6 160.6 187.9 162.3 188.3" stroke="#DF536B"/><path d="M75.5 188.3 77.2 187.9 79 188.3" stroke="#CD0BBC"/><path d="M278.7 188.2 280.4 186.2 282.2 188" stroke="#000000"/><path d="M228.3 188.2 230 187.5 231.8 187.2 233.5 187.8 235.3 188.2" stroke="#DF536B"/><path d="M224.2 187.9 225.9 182.7 227.7 179.4 229.4 187.9" stroke="#61D04F"/><path d="M224.6 188.2 226.3 187.1 228.1 186.5 229.8 187 231.6 188.2" stroke="#000000"/><path d="M124.6 188.1 126.3 186.4 128.1 188.1" stroke="#61D04F"/><path d="M288.3 188.3 290 187.9 291.8 187.8 293.5 188.3" stroke="#DF536B"/><path d="M208.9 188.3 210.6 187.8 212.4 188 214.1 188.3" stroke="#DF536B"/><path d="M59.1 188.3 60.8 187.9 62.6 188 64.3 188.3" stroke="#61D04F"/><path d="M122 188.3 123.8 187.6 125.5 188.2" stroke="#CD0BBC"/><path d="M110 188.2 111.7 186.8 113.4 188.1" stroke="#DF536B"/><path d="M251.4 188 253.2 185.4 254.9 182.6 256.7 188" stroke="#000000"/><path d="M301.9 188 303.7 183.3 305.4 187.6" stroke="#61D04F"/><path d="M292 188.3 293.8 186.8 295.5 188.2" stroke="#2297E6"/><path d="M282.1 188.2 283.8 187.1 285.6 188.2" stroke="#000000"/><path d="M280.1 188.3 281.8 187.8 283.6 188.2" stroke="#000000"/><path d="M120.4 188.2 122.2 187.5 123.9 188.2" stroke="#61D04F"/><path d="M282.2 188.3 283.9 187.5 285.7 188.2" stroke="#000000"/><path d="M247.5 188 249.2 186.3 251 188.1" stroke="#2297E6"/><path d="M93.3 188.2 95 187.3 96.8 188.2" stroke="#DF536B"/><path d="M287.4 188.3 289.1 186.9 290.9 188.1" stroke="#000000"/><path d="M269.8 187.8 271.6 184.6 273.3 178.4 275.1 187.8" stroke="#61D04F"/><path d="M234 188.1 235.7 185.7 237.5 188.1" stroke="#2297E6"/><path d="M195.9 188 197.7 186.2 199.4 188.2" stroke="#61D04F"/><path d="M236.3 188.2 238 187 239.8 188.3" stroke="#2297E6"/><path d="M283.3 188 285.1 183.6 286.8 187.8" stroke="#CD0BBC"/><path d="M316.9 188.3 318.6 186.9 320.4 188.2" stroke="#CD0BBC"/><path d="M84.1 188.2 85.9 187.6 87.6 188.3" stroke="#000000"/><path d="M308 188.2 309.8 187.6 311.5 188.2" stroke="#000000"/><path d="M309.3 188.2 311.1 187.3 312.8 188.2" stroke="#2297E6"/><path d="M250.7 188.3 252.4 187.7 254.2 187.3 255.9 188.3" stroke="#000000"/><path d="M185.5 188.2 187.3 186.8 189 185.8 190.8 188.2" stroke="#2297E6"/><path d="M290.1 188.1 291.8 161.6 293.5 185.2" stroke="#DF536B"/><path d="M312.8 188 314.5 183 316.3 185.8 318 188" stroke="#CD0BBC"/><path d="M253 185.6 254.8 145.4 256.5 133.7 258.2 185.6" stroke="#CD0BBC"/><path d="M177.6 188.3 179.4 187.9 181.1 188.3" stroke="#28E2E5"/><path d="M270.3 188.1 272.1 186.2 273.8 188" stroke="#CD0BBC"/><path d="M302.1 188.2 303.8 186.5 305.6 188.1" stroke="#2297E6"/><path d="M158.1 188.3 159.8 187.7 161.6 188 163.3 188.3" stroke="#DF536B"/><path d="M204.9 188.3 206.6 188 208.4 187.9 210.1 188.2 211.9 188.3" stroke="#2297E6"/><path d="M198.3 188 200.1 185.6 201.8 182.9 203.6 184.1 205.3 188" stroke="#61D04F"/><path d="M289.7 188.2 291.4 187 293.2 186.4 294.9 188.2" stroke="#000000"/><path d="M279.8 188.3 281.5 187.8 283.3 187.5 285 188 286.8 188.3" stroke="#2297E6"/><path d="M292.1 188.2 293.8 186.3 295.6 188.1" stroke="#DF536B"/><path d="M86.2 188.2 87.9 187.1 89.7 188.3" stroke="#2297E6"/><path d="M212.1 188 213.8 186.6 215.6 188.1" stroke="#DF536B"/><path d="M308.9 188.2 310.6 187.7 312.4 188.3" stroke="#61D04F"/><path d="M206.2 188.2 208 187 209.7 188.2" stroke="#CD0BBC"/><path d="M223.4 187.9 225.1 180.5 226.9 188.2" stroke="#2297E6"/><path d="M236.6 188.1 238.4 183.9 240.1 187.9" stroke="#28E2E5"/><path d="M92 188.3 93.7 187.8 95.5 187.7 97.2 188 99 188.3" stroke="#2297E6"/><path d="M144.6 188.2 146.3 187.4 148.1 186.2 149.8 188.2" stroke="#CD0BBC"/><path d="M251.9 188.3 253.6 187.5 255.4 187.8 257.1 188.3" stroke="#DF536B"/><path d="M265.9 188 267.6 185.5 269.4 187.9" stroke="#28E2E5"/><path d="M203.8 187.7 205.5 184.1 207.3 187.8" stroke="#CD0BBC"/><path d="M305.6 187.5 307.4 182.9 309.1 187.6" stroke="#DF536B"/><path d="M264.7 188.2 266.4 187.5 268.1 187.2 269.9 188.2" stroke="#61D04F"/><path d="M98.4 187.8 100.2 184.3 101.9 188" stroke="#000000"/><path d="M88.2 188.1 90 184.4 91.7 183.3 93.5 186.3 95.2 188.1" stroke="#000000"/><path d="M140.4 188.3 142.2 187.7 143.9 187.9 145.7 188.3" stroke="#000000"/><path d="M251.5 188.3 253.3 188 255 187.9 256.8 188.3" stroke="#DF536B"/><path d="M217.7 188.3 219.5 188.2 221.2 187.9 223 188.1 224.7 188.3" stroke="#DF536B"/><path d="M261.8 188.2 263.6 186.5 265.3 187.2 267 188.2" stroke="#61D04F"/><path d="M78.5 188.2 80.3 187.6 82 188.2" stroke="#61D04F"/><path d="M71.5 187.7 73.3 181.1 75 176.8 76.7 187.7" stroke="#28E2E5"/><path d="M313.3 187.2 315 179.6 316.8 188.1" stroke="#61D04F"/><path d="M311.2 188.2 313 187.2 314.7 188.1" stroke="#61D04F"/><path d="M157.4 188.3 159.1 188.1 160.9 187.6 162.6 188.3" stroke="#28E2E5"/><path d="M269.7 188.3 271.5 187.9 273.2 188.2" stroke="#2297E6"/><path d="M296.6 188.1 298.4 184.9 300.1 183.7 301.9 188.1" stroke="#61D04F"/><path d="M252.9 188.2 254.7 187.3 256.4 187.9 258.1 188.2" stroke="#000000"/><path d="M259.6 188.1 261.4 183.5 263.1 187.8" stroke="#28E2E5"/><path d="M283.8 188.2 285.5 180.3 287.3 187.7" stroke="#2297E6"/><path d="M298.5 186.6 300.3 176.9 302 187.4" stroke="#000000"/><path d="M205.2 188.3 206.9 184.6 208.7 187.8" stroke="#61D04F"/><path d="M245.6 188.2 247.4 187.4 249.1 188.2" stroke="#000000"/><path d="M88.3 188.2 90.1 187 91.8 188.2" stroke="#61D04F"/><path d="M302 188.2 303.8 186.8 305.5 186 307.3 186.7 309 188.2" stroke="#DF536B"/><path d="M238.9 188.2 240.6 186.5 242.4 188.3" stroke="#000000"/><path d="M209.5 188.1 211.2 184.2 213 186.3 214.7 188.1" stroke="#000000"/><path d="M205.5 188.3 207.3 187.7 209 188.3" stroke="#2297E6"/><path d="M243.8 188.3 245.5 188 247.3 187.8 249 188 250.8 188.3" stroke="#DF536B"/><path d="M236.1 188.2 237.9 187.7 239.6 188.3" stroke="#CD0BBC"/><path d="M311.7 188.2 313.4 187 315.2 187.6 316.9 188.2" stroke="#61D04F"/><path d="M268.4 188 270.1 186.2 271.9 188.1" stroke="#DF536B"/><path d="M220.6 188.2 222.3 187.1 224.1 188.2" stroke="#61D04F"/><path d="M76.1 188.2 77.9 187.3 79.6 188.2" stroke="#DF536B"/><path d="M299.1 188.1 300.8 186.3 302.6 183.5 304.3 188.1" stroke="#000000"/><path d="M239 188.2 240.7 187.2 242.5 188.3" stroke="#61D04F"/><path d="M209.7 188.2 211.4 187.7 213.2 188.2" stroke="#000000"/><path d="M182.7 188.2 184.5 186.6 186.2 188.3" stroke="#28E2E5"/><path d="M307.6 188.2 309.4 187.2 311.1 185.3 312.9 188.2" stroke="#61D04F"/><path d="M295.3 187.9 297.1 184.4 298.8 180.8 300.6 185.3 302.3 187.9" stroke="#61D04F"/><path d="M206.4 188.1 208.2 187 209.9 188.2" stroke="#61D04F"/><path d="M107.9 188.2 109.7 186.4 111.4 187.5 113.2 188.2" stroke="#000000"/><path d="M240.4 188.2 242.2 187.7 243.9 188.2" stroke="#28E2E5"/><path d="M305.9 187.8 307.6 178.8 309.4 184.4 311.1 187.8" stroke="#DF536B"/><path d="M126.8 188.3 128.6 187.9 130.3 188.3" stroke="#28E2E5"/><path d="M263.1 188.2 264.9 187.3 266.6 185.4 268.4 188.2" stroke="#CD0BBC"/><path d="M196.1 188.2 197.8 187.4 199.6 188.2" stroke="#28E2E5"/><path d="M211.2 188.2 212.9 187.9 214.7 188.3" stroke="#61D04F"/><path d="M161.2 188.2 162.9 187.5 164.7 188.2" stroke="#61D04F"/><path d="M250.3 188.3 252.1 187.8 253.8 188.3" stroke="#28E2E5"/><path d="M79.8 188.3 81.5 187.9 83.3 188.3" stroke="#61D04F"/><path d="M186.6 188.3 188.4 188 190.1 187.8 191.9 187.9 193.6 188.3" stroke="#000000"/><path d="M226.6 188.3 228.3 187.5 230.1 187.8 231.8 188.3" stroke="#28E2E5"/><path d="M104 188.2 105.8 187.7 107.5 188.3" stroke="#000000"/><path d="M264.8 188.2 266.5 186.9 268.3 188.2" stroke="#28E2E5"/><path d="M215.7 186.9 217.5 179.6 219.2 159.4 220.9 166.8 222.7 186.9" stroke="#61D04F"/><path d="M278.5 188.3 280.2 187.9 282 187.7 283.7 188 285.5 188.3" stroke="#28E2E5"/><path d="M72 188.3 73.8 187.9 75.5 188.3" stroke="#28E2E5"/><path d="M300.9 188.3 302.7 187.3 304.4 188.2" stroke="#2297E6"/><path d="M282.2 187.7 284 176.7 285.7 181.6 287.5 187.7" stroke="#28E2E5"/><path d="M289 188.2 290.8 187.5 292.5 188.2" stroke="#DF536B"/><path d="M227.3 187.7 229 175.9 230.7 182.3 232.5 187.7" stroke="#CD0BBC"/><path d="M288 188.2 289.8 186.6 291.5 188.1" stroke="#000000"/><path d="M222.5 188.2 224.2 187.6 226 187.2 227.7 187.4 229.5 188.2" stroke="#CD0BBC"/><path d="M251.1 187.8 252.8 184.5 254.6 177.4 256.3 181 258.1 187.8" stroke="#DF536B"/><path d="M171.7 188.3 173.4 187.8 175.2 187.7 176.9 187.9 178.7 188.3" stroke="#28E2E5"/><path d="M224.3 187.4 226 176.7 227.7 187.5" stroke="#000000"/><path d="M234.3 187.9 236.1 185.2 237.8 188" stroke="#61D04F"/><path d="M112.5 188.2 114.2 187.1 116 187.6 117.7 188.2" stroke="#61D04F"/><path d="M227.6 188.2 229.3 186.9 231.1 188.3" stroke="#2297E6"/><path d="M291.1 187.3 292.9 178.9 294.6 187.6" stroke="#28E2E5"/><path d="M310.1 188 311.8 183.7 313.6 187.9" stroke="#DF536B"/><path d="M69.7 188.3 71.4 188.1 73.2 187.9 74.9 188.1 76.6 188.3" stroke="#61D04F"/><path d="M312.1 188.3 313.9 187.4 315.6 188.2" stroke="#CD0BBC"/><path d="M231.6 188.2 233.3 187.8 235.1 186.8 236.8 187.4 238.6 188.2" stroke="#000000"/><path d="M196.8 187.9 198.5 184.7 200.3 180 202 187.9" stroke="#61D04F"/><path d="M285.4 187.6 287.2 182.1 288.9 187.8" stroke="#DF536B"/><path d="M283.1 187.7 284.8 172.3 286.5 186.5" stroke="#61D04F"/><path d="M254.2 188.2 256 187.3 257.7 188.2" stroke="#000000"/><path d="M191.6 188 193.3 183.1 195 185.6 196.8 188" stroke="#CD0BBC"/><path d="M197 188.3 198.7 187.9 200.5 188.2" stroke="#CD0BBC"/><path d="M271.8 188.3 273.6 187.2 275.3 188.1" stroke="#CD0BBC"/><path d="M229 188.3 230.8 187.7 232.5 187.8 234.3 188.3" stroke="#28E2E5"/><path d="M188.4 188.2 190.2 187.3 191.9 186.5 193.7 188.2" stroke="#28E2E5"/><path d="M240.8 188.3 242.5 188 244.3 187.8 246 188.1 247.8 188.3" stroke="#CD0BBC"/><path d="M309.9 188.1 311.7 186.4 313.4 184 315.2 186.5 316.9 188.1" stroke="#28E2E5"/><path d="M167.7 188.2 169.4 187.6 171.2 186.8 172.9 187.5 174.7 188.2" stroke="#28E2E5"/><path d="M297 187.7 298.8 184.8 300.5 176.7 302.2 187.7" stroke="#28E2E5"/><path d="M109.8 187.7 111.6 183 113.3 176.7 115 187.7" stroke="#2297E6"/><path d="M202.7 188.3 204.5 187.8 206.2 188.3" stroke="#000000"/><path d="M196.6 187.4 198.3 170.5 200 175.7 201.8 187.4" stroke="#2297E6"/><path d="M257.1 188.2 258.9 184.7 260.6 187.8" stroke="#61D04F"/><path d="M256.1 187.6 257.8 182.5 259.6 187.9" stroke="#000000"/><path d="M242.1 188.3 243.8 187.9 245.6 188.3" stroke="#CD0BBC"/><path d="M183.3 188.2 185 186.6 186.8 188.1" stroke="#2297E6"/><path d="M298.2 188.1 299.9 186.9 301.7 183.8 303.4 185.8 305.2 188.1" stroke="#000000"/><path d="M142.8 188.3 144.5 186.8 146.3 188.3" stroke="#28E2E5"/><path d="M265.7 188.2 267.5 187.3 269.2 185.9 271 187.2 272.7 188.2" stroke="#2297E6"/><path d="M63.8 188.3 65.5 188.1 67.3 187.8 69 188.3" stroke="#CD0BBC"/><path d="M230.1 188.1 231.8 186.8 233.6 183.4 235.3 186.4 237.1 188.1" stroke="#2297E6"/><path d="M122 188.2 123.7 187.3 125.5 188.2" stroke="#28E2E5"/><path d="M242.3 188.2 244 187.5 245.8 188.2" stroke="#61D04F"/><path d="M177.1 188.2 178.9 187.6 180.6 188.3" stroke="#DF536B"/><path d="M197.6 188.3 199.4 187.8 201.1 187.9 202.9 188.3" stroke="#DF536B"/><path d="M300.8 188.2 302.5 187.3 304.3 186.9 306 188.2" stroke="#28E2E5"/><path d="M255.6 188.3 257.3 186.9 259.1 188.1" stroke="#2297E6"/><path d="M104.8 188.1 106.5 185.9 108.3 184.3 110 186 111.8 188.1" stroke="#28E2E5"/><path d="M294.3 188.2 296 187 297.8 188.3" stroke="#000000"/><path d="M274.7 188.2 276.4 187.5 278.2 188.3" stroke="#CD0BBC"/><path d="M228.2 188.3 230 187.6 231.7 188 233.5 188.3" stroke="#000000"/><path d="M212.1 188.3 213.9 187.8 215.6 188.3" stroke="#000000"/><path d="M269.9 187.9 271.6 183.8 273.4 188.3" stroke="#61D04F"/><path d="M245.3 186.9 247 178.1 248.7 187.7" stroke="#CD0BBC"/><path d="M169.1 188.3 170.8 187.3 172.6 188.2" stroke="#61D04F"/><path d="M266.7 187.7 268.4 171.4 270.1 187.7" stroke="#2297E6"/><path d="M192.3 188.2 194 185.6 195.8 187.4 197.5 188.2" stroke="#CD0BBC"/><path d="M301.1 188 302.8 184.3 304.6 183 306.3 188" stroke="#000000"/><path d="M299.7 188.3 301.5 188 303.2 187.8 305 188 306.7 188.3" stroke="#2297E6"/><path d="M277.5 188.3 279.3 187.6 281 188.3" stroke="#000000"/><path d="M186.4 188.3 188.1 187.7 189.9 188 191.6 188.3" stroke="#61D04F"/><path d="M275.8 187.2 277.6 177.6 279.3 166.1 281 187.2" stroke="#CD0BBC"/><path d="M273.2 188.3 275 187.5 276.7 188.2" stroke="#28E2E5"/><path d="M96.1 188.3 97.9 187.7 99.6 187.8 101.4 188.3" stroke="#61D04F"/><path d="M233.4 188.2 235.1 185.7 236.9 188.1" stroke="#2297E6"/><path d="M274 187.2 275.7 165.3 277.4 177.3 279.2 187.2" stroke="#2297E6"/><path d="M264.1 188 265.9 184.9 267.6 183.2 269.4 186.2 271.1 188" stroke="#28E2E5"/><path d="M266 188.1 267.7 186.4 269.5 185.2 271.2 188.1" stroke="#CD0BBC"/><path d="M248.2 187.9 249.9 185 251.7 188" stroke="#000000"/><path d="M150.5 188.3 152.3 187.6 154 188.2" stroke="#2297E6"/><path d="M273.7 188.1 275.5 185.9 277.2 183.7 279 188.1" stroke="#28E2E5"/><path d="M271.8 188 273.5 185.7 275.3 188.1" stroke="#CD0BBC"/><path d="M196.2 188.3 198 187.8 199.7 188.3" stroke="#28E2E5"/><path d="M290.9 188.3 292.7 187.7 294.4 187.3 296.2 188.3" stroke="#28E2E5"/><path d="M232.1 188.3 233.8 187.7 235.6 187.9 237.3 188.3" stroke="#28E2E5"/><path d="M223.8 188 225.5 182.7 227.3 188.3" stroke="#000000"/><path d="M223.1 188.2 224.9 187.1 226.6 187.4 228.4 188.2" stroke="#28E2E5"/><path d="M308.3 188.3 310.1 187.6 311.8 187.9 313.6 188.3" stroke="#DF536B"/><path d="M252.5 188 254.3 182.8 256 181.4 257.8 188" stroke="#2297E6"/><path d="M283.9 188.1 285.6 183.8 287.4 188.2" stroke="#DF536B"/><path d="M274.9 187.6 276.6 181.2 278.4 188.2" stroke="#CD0BBC"/><path d="M278.4 188.1 280.1 185.3 281.9 188.2" stroke="#CD0BBC"/><path d="M243.7 188.2 245.4 187 247.2 188.1" stroke="#28E2E5"/><path d="M242.6 188.2 244.3 187 246.1 188.2" stroke="#000000"/><path d="M292.3 188.3 294 187.6 295.8 188.2" stroke="#28E2E5"/><path d="M168.4 188.3 170.2 186.4 171.9 188.3" stroke="#61D04F"/><path d="M291.9 188.3 293.7 188.1 295.4 187.8 297.2 188.3" stroke="#DF536B"/><path d="M213.9 186.2 215.7 174.3 217.4 187.2" stroke="#61D04F"/><path d="M316.4 188 318.1 183.3 319.9 186.4 321.6 188" stroke="#2297E6"/><path d="M312 188.3 313.7 187.9 315.5 188.3" stroke="#28E2E5"/><path d="M244.7 188.3 246.4 186.7 248.2 188.1" stroke="#61D04F"/><path d="M159.5 188.2 161.3 187.7 163 188.2" stroke="#CD0BBC"/><path d="M150 188.3 151.7 187.3 153.5 187.7 155.2 188.3" stroke="#28E2E5"/><path d="M74.5 188.2 76.3 187.6 78 186.8 79.8 188.2" stroke="#CD0BBC"/><path d="M261.5 187.8 263.3 178.9 265 181.6 266.8 187.8" stroke="#28E2E5"/><path d="M233.6 188.2 235.4 187.4 237.1 188.3" stroke="#28E2E5"/><path d="M261.2 188.2 263 187.3 264.7 186.3 266.5 188.2" stroke="#28E2E5"/><path d="M259 188.2 260.7 186.6 262.5 188.1" stroke="#CD0BBC"/><path d="M260.9 188.2 262.6 187.6 264.3 188.3" stroke="#000000"/><path d="M129.1 188.2 130.9 187 132.6 188.1" stroke="#CD0BBC"/><path d="M191 188.3 192.7 187.9 194.5 187.8 196.2 188.1 198 188.3" stroke="#DF536B"/><path d="M152 188.3 153.8 187.7 155.5 188.3" stroke="#28E2E5"/><path d="M264.6 188.1 266.4 185 268.1 188.3" stroke="#2297E6"/><path d="M242.6 188.3 244.4 188 246.1 187.8 247.9 188 249.6 188.3" stroke="#000000"/><path d="M221.3 187.8 223.1 184.5 224.8 178.8 226.6 187.8" stroke="#28E2E5"/><path d="M264 188.2 265.7 187.7 267.5 186.9 269.2 187.3 271 188.2" stroke="#000000"/><path d="M112.7 188.3 114.4 188.2 116.2 187.9 117.9 188.1 119.7 188.3" stroke="#28E2E5"/><path d="M314.9 188.2 316.7 187.1 318.4 188.3" stroke="#000000"/><path d="M291.4 188.2 293.1 187.1 294.9 188.3" stroke="#DF536B"/><path d="M84.9 188.2 86.6 186.7 88.4 187 90.1 188.2" stroke="#000000"/><path d="M208.9 188.1 210.6 185.5 212.4 188.2" stroke="#CD0BBC"/><path d="M313.6 188.1 315.4 186.3 317.1 184.7 318.8 186.2 320.6 188.1" stroke="#CD0BBC"/><path d="M234.4 188.1 236.1 186.2 237.9 188" stroke="#61D04F"/><path d="M290.5 188.2 292.3 187.4 294 188.3" stroke="#CD0BBC"/><path d="M287.7 187 289.5 181.6 291.3 162.1 293 161.6 294.8 162.1 296.5 170.5 298.3 178.5 300 178.1 301.8 186.5 303.5 188.3" stroke="#61D04F"/><path d="M281 187.4 282.8 186.5 284.6 188.3 286.2 32.7 286.5 32.7 286.9 59.4 287.4 71.8 288.1 188.3 289.9 187 291.6 188.3" stroke="#28E2E5"/></g>
<path d="M53.5 188.2H319.3" stroke="#CD0BBC" stroke-width="1.3"/>
<g fill="none" stroke-width="1.5" stroke-linejoin="round">
<path d="M407.7 453.9C428.1 453.8 504.6 453.8 530 453.6C555.4 453.4 553.3 452.8 560 452.5C566.7 452.2 566.7 451.6 570 451.7C573.3 451.8 575 452.6 580 452.8C585 453.1 590 453.2 600 453.2C610 453.2 627.8 452.6 640 452.6C652.2 452.6 667.8 453.3 673.3 453.4" stroke="#0000FF"/>
<path d="M407.7 453.8C413.1 453.8 430.7 453.8 440 453.5C449.3 453.2 455.2 452.3 463.5 452.3C471.8 452.3 478.9 453.4 490 453.6C501.1 453.8 520 454.1 530 453.3C540 452.5 544.4 450.1 550 448.6C555.6 447.1 559.8 445.3 563.4 444.3C567 443.3 568.9 442.2 571.7 442.6C574.5 443.1 577.3 445.4 580.1 447C582.9 448.6 585.4 451.2 588.5 452C591.6 452.8 595.5 452.7 598.5 452C601.5 451.3 603.8 448.9 606.8 447.7C609.8 446.5 613.7 445.4 616.8 445C619.9 444.6 621.9 445.5 625.2 445.3C628.6 445.1 633 443.7 636.9 443.6C640.8 443.5 644.7 444.2 648.6 444.6C652.5 445.1 656.2 445.1 660.3 446.3C664.4 447.5 671.1 451.1 673.3 452" stroke="#00FF00"/>
<path d="M407.7 453.8C409.8 453.6 413.9 452.6 420 452.3C426.1 452.1 439.5 452.5 444.5 452.3C449.5 452.1 448.1 451.4 450 451C451.9 450.6 453.8 450 456 449.7C458.2 449.4 460.8 449.1 463.5 449.2C466.2 449.3 469.2 449.8 472 450.2C474.8 450.6 477.2 451.3 480 451.8C482.8 452.3 485.7 453.1 489 453.4C492.3 453.7 495.7 453.6 500 453.6C504.3 453.6 510.8 453.6 515 453.5C519.2 453.4 522.5 453.1 525 453C527.5 452.9 526.9 453.7 530 452.7C533.1 451.7 538.9 449.9 543.4 447C547.9 444.1 552.8 438.9 556.7 435.3C560.6 431.7 564.4 427.2 566.7 425.3C569 423.4 569 422.5 570.7 423.6C572.4 424.7 574.4 428.4 576.8 432C579.2 435.6 582.6 442.5 585.1 445.3C587.6 448.1 589.6 448.6 591.8 448.6C594 448.6 596 448.4 598.5 445.3C601 442.2 604.2 434.8 606.8 430.3C609.4 425.9 612 419.7 614.2 418.6C616.4 417.5 618.1 421.9 620.2 423.6C622.3 425.3 624.1 428.3 626.9 428.6C629.7 428.9 634.1 426.5 636.9 425.3C639.7 424.1 641.5 422.7 643.6 421.3C645.7 419.9 647.1 416.8 649.6 416.9C652.1 417 656.3 419.9 658.6 421.9C660.9 423.8 661.7 425.2 663.6 428.6C665.5 432 668.7 438.8 670.3 442C671.9 445.2 672.8 446.8 673.3 447.7" stroke="#FFA500"/>
<path d="M407.7 453.8C409.8 453.8 415.4 453.6 420 453.5C424.6 453.4 430.9 453.3 435 453.2C439.1 453.1 442.2 453.3 444.5 452.8C446.8 452.3 446.9 451.8 448.7 450.2C450.4 448.6 452.8 446 455 443C457.2 440 459.4 435.4 462 432C464.6 428.6 468.2 423.7 470.5 422.7C472.8 421.7 474.4 424.2 476 426C477.6 427.8 478.6 429.6 480.4 433.3C482.2 437 484.9 444.8 486.8 448.1C488.7 451.5 489.8 452.4 492 453.4C494.2 454.3 496.1 453.8 500 453.8C503.9 453.8 511.9 453.9 515.4 453.5C518.9 453.1 519.1 452 520.7 451.7C522.3 451.4 523.4 451.5 524.9 451.7C526.4 451.9 528.6 452.6 530 452.7C531.4 452.8 532.3 452.7 533.4 452.3C534.5 451.9 535.5 451.5 536.7 450.3C537.9 449.1 539.4 446.9 540.5 445C541.6 443.1 541.8 442.4 543.4 438.6C545 434.8 547.8 428.9 550 422C552.2 415.1 554.8 405 556.7 396.9C558.7 388.8 560 379.9 561.7 373.5C563.4 367.1 565.3 360.4 566.7 358.5C568.1 356.6 568.6 357.1 570 361.8C571.4 366.5 573.4 377.7 575.1 386.9C576.8 396.1 578.4 408.8 580.1 416.9C581.8 425 583.4 431.4 585.1 435.3C586.8 439.2 588.4 440.6 590.1 440.3C591.8 440 593.4 438.6 595.1 433.6C596.8 428.6 598.4 421.9 600.1 410.2C601.8 398.5 603.5 379.6 605.2 363.5C606.9 347.4 608.8 324.1 610.2 313.4C611.6 302.7 612.4 300.5 613.5 299.4C614.6 298.3 615.4 299.9 616.8 306.7C618.2 313.5 620.2 329.5 621.9 340.1C623.6 350.7 625 361.9 626.9 370.2C628.8 378.5 631.6 385.9 633.5 390.2C635.4 394.5 636.8 396.2 638.5 396.2C640.2 396.2 641.9 392.9 643.6 390.2C645.3 387.5 646.4 382.7 648.6 380.2C650.8 377.7 654.7 375.2 656.9 375.2C659.1 375.2 660.3 376 662 380.2C663.7 384.4 665.6 393 667 400.2C668.4 407.4 669.2 416.6 670.3 423.6C671.3 430.6 672.8 438.9 673.3 442" stroke="#FF0000"/>
</g>
<rect x="397.3" y="293.1" width="98.9" height="52.3" fill="#fff" stroke="#444" stroke-width="1"/>
<path d="M405 302.9H421.8" stroke="#0000FF" stroke-width="1.7"/>
<text x="428.6" y="307.2" font-size="8.75">very low: 391</text>
<path d="M405 313.4H421.8" stroke="#00FF00" stroke-width="1.7"/>
<text x="428.6" y="317.7" font-size="8.75">low: 54</text>
<path d="M405 323.9H421.8" stroke="#FFA500" stroke-width="1.7"/>
<text x="428.6" y="328.2" font-size="8.75">intermediate: 20</text>
<path d="M405 334.4H421.8" stroke="#FF0000" stroke-width="1.7"/>
<text x="428.6" y="338.7" font-size="8.75">high: 9</text>
</svg></body></html>
